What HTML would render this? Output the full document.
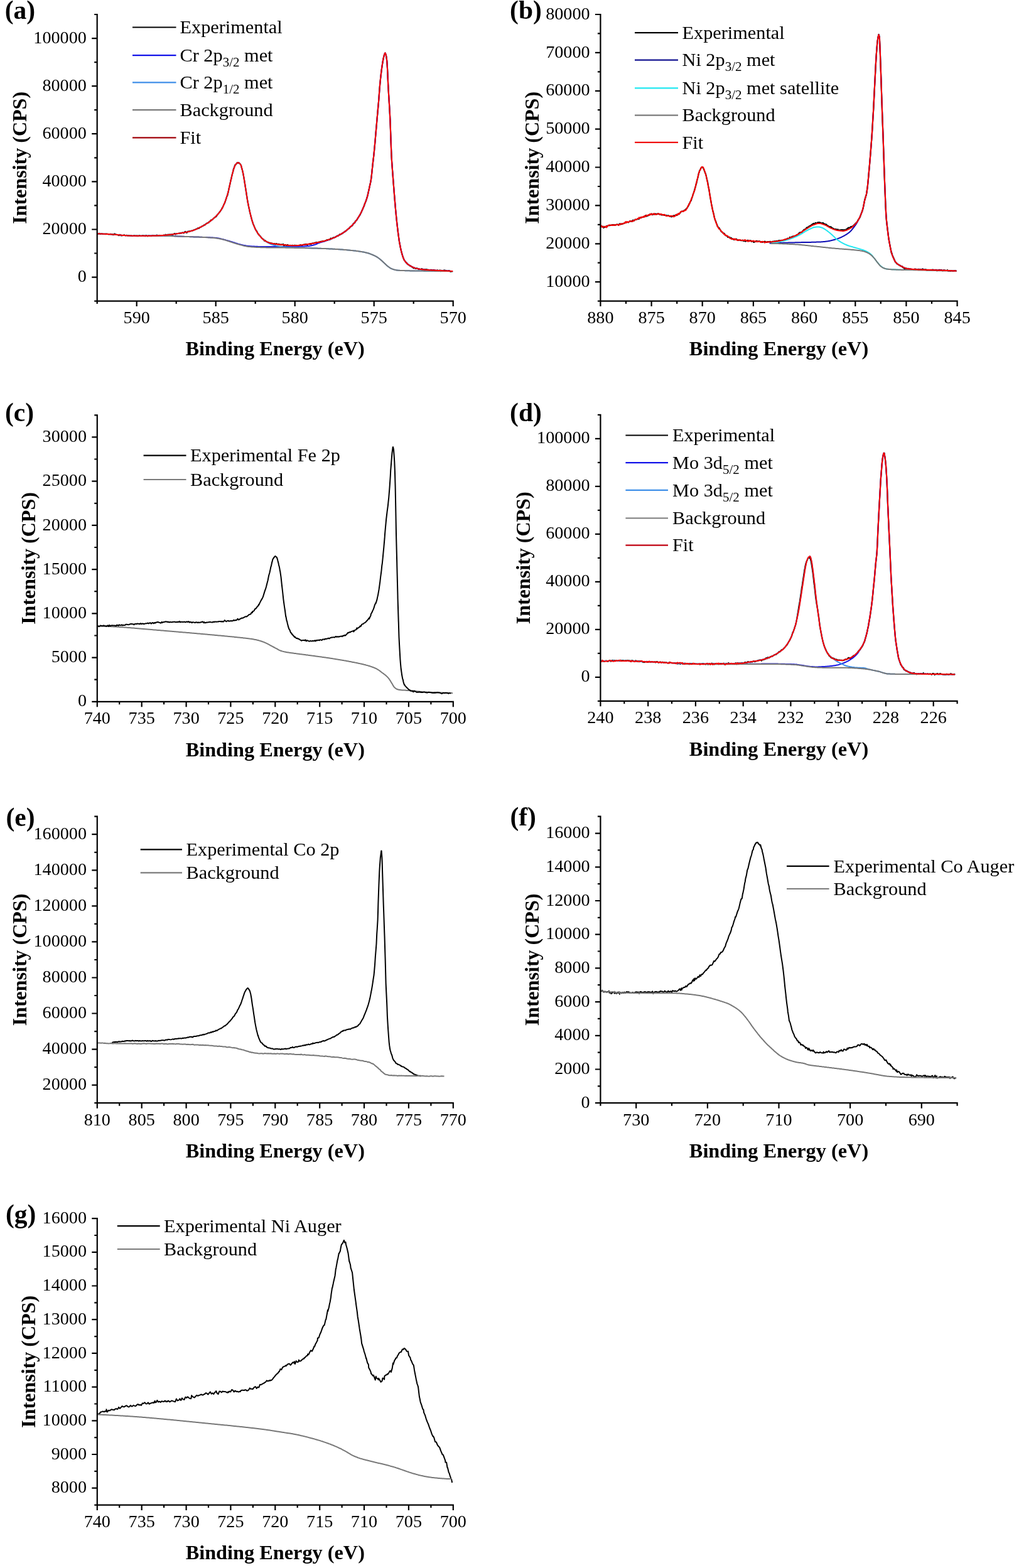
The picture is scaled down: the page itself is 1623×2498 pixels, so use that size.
<!DOCTYPE html>
<html><head><meta charset="utf-8"><title>XPS spectra</title>
<style>html,body{margin:0;padding:0;background:#fff;}svg{display:block;}</style>
</head><body>
<svg width="1623" height="2498" viewBox="0 0 1623 2498">
<rect width="1623" height="2498" fill="#fff"/>
<g fill="none" stroke-linejoin="round" stroke-linecap="butt">
<polyline stroke="#000000" stroke-width="2.2" points="154.7,372.4 155.9,372.6 157.1,372.4 158.3,371.8 159.5,372.8 160.7,372.7 161.9,372.3 163.1,372.8 164.3,372.8 165.5,372.8 166.7,372.8 167.9,373.1 169.1,372.5 170.3,372.9 171.5,372.8 172.7,373.3 173.9,373.2 175.1,373.1 176.3,372.9 177.5,373.2 178.7,373.4 179.9,373.4 180,374.1 181.1,374 182.3,372.4 183.5,372.9 184.7,373.8 185.9,373.8 187.1,374.1 188.3,374.3 189.5,375.2 190.7,373.9 191.9,374.3 193.1,375.5 194.3,375 195.5,375.1 196.7,374.7 197.9,374.3 199.1,375.2 200.3,375.3 201.5,374.8 202.7,375.1 203.9,375.4 205.1,375.1 206.3,375.5 207.5,375.6 208.2,375.6 208.7,375.4 209.9,375.9 211.1,376 212.3,375.8 213.5,375.3 214.7,376 215.9,375.5 217.1,376.1 218.3,375.3 219.5,376.2 220.7,375.7 221.9,375.2 223.1,375.6 224.3,375.8 225.5,375.9 226.7,375.4 227.9,375.3 229.1,375.9 230,375.6 230.3,375.9 231.5,376.1 232.7,375 233.9,375.9 235.1,376.3 236.3,375.6 237.5,375.4 238.7,376 239.9,375.8 241.1,376.1 242.3,375.5 243.5,374.9 244.7,375.5 245.9,375.3 247.1,375.8 248.3,375.5 249.5,374.7 250.7,374.8 251.9,375.7 253.1,375.6 254.3,374.9 254.8,375.2 255.5,375.4 256.7,375.3 257.9,375.4 259.1,375.1 260.3,374.8 261.5,374.7 262.7,375.2 263.9,373.6 265.1,374.4 266.3,374.3 267.5,373.6 268.7,374.2 269.9,373.6 271.1,374.2 272.3,373.6 273.5,373.8 274.7,373.9 275.9,373.3 277.1,372.6 278.3,372.1 279.5,373.4 280.7,372.4 281.9,372 283.1,372.2 284.3,371.8 285.5,372.1 285.8,371.7 286.7,371.6 287.9,371.1 289.1,371.4 290.3,370.5 291.5,371.1 292.7,371.3 293.9,369.7 295.1,369 296.3,370.2 297.5,370.8 298.7,369 299.9,368.6 301.1,369.1 302.3,368.2 303.5,368 304.7,367.8 305.2,368 305.9,367.4 307.1,367.4 308.3,366.7 309.5,366 310.7,365.8 311.9,365 313.1,364.9 314.3,363.9 315.5,363.3 316.7,363.9 317.9,362.6 319.1,362 320.3,361.6 321.5,360.6 322.7,360 323.9,359.6 324.7,359.1 325.1,358.3 326.3,358.5 327.5,357.1 328.7,356.1 329.9,355.4 331.1,354.9 332.3,355 333.5,352.8 334.7,352.6 335.9,350.6 337.1,350.6 338.3,350 339.5,348.5 340.7,347.3 341.9,346.6 343.1,345.7 344,344.8 344.3,345.1 345.5,343.1 346.7,341.4 347.9,340.2 349.1,338.8 350.3,337.3 351.5,335.5 352.7,333.8 353.8,331.1 353.9,332.1 355.1,329.2 356.3,326.3 357.5,324.2 358.7,321.4 359,320.2 359.9,317.6 361.1,313.5 362.3,311.3 363.5,306.1 364.7,300.3 365.9,294.9 367.1,289.8 367.5,287.3 368.3,284.6 369.5,279 370.7,275 371.2,273.1 371.9,269.2 373.1,266.7 374.3,262.9 375,263 375.5,261.9 376.7,260.7 377.9,259 379,259.9 379.1,260 380.3,259 381.5,260.5 382.7,261.3 383,262 383.9,263.2 385.1,268.4 386.3,272 386.8,274.5 387.5,278.1 388.7,284.5 389.9,292.2 390.5,295.7 391.1,299.7 392.3,307.1 393.5,315.2 394.5,321.1 394.7,322.1 395.9,328.4 397.1,333.8 398.3,339.5 398.5,339.9 399.5,344.1 400.7,348.5 401.9,352.7 402.3,353.6 403.1,356.7 404.3,359.1 405.5,362.1 406.7,365.1 407,365.7 407.9,367 409.1,368.4 410.3,371.4 411.5,373.1 412,373 412.7,374.8 413.9,375.6 415.1,376.8 416.3,378.7 417.5,379.8 418.7,381.1 419.9,381.3 421.1,383.7 421.7,383 422.3,383 423.5,384.6 424.7,384.9 425.9,385.8 427.1,386 428.3,386.6 429.5,387.2 430.7,387.1 431.4,387.9 431.9,387.5 433.1,387.5 434.3,388.2 435.5,388.6 436.7,388.4 437.9,388.3 439.1,389.1 440.3,388.2 441.5,388.7 442.7,389.3 443.9,388.8 445.1,389.5 446.3,389.6 447.5,390.1 448.7,389.4 449.4,389.6 449.9,390.1 451.1,389 452.3,391.6 453.5,390 454.7,390.1 455.9,390.9 457.1,390.6 458.3,390 459.5,391.1 460.7,391.3 461.9,390.8 463.1,391 464.3,391.4 465.5,390.8 466.7,391.5 467.9,391.4 468.8,391 469.1,390.7 470.3,391.2 471.5,390.8 472.7,391.6 473.9,391.1 475.1,391.3 476.3,390.9 477.5,390.8 478.7,390.2 479.9,390.7 481.1,391.1 482.3,390 483.5,389.7 484.7,389.7 485.9,389.4 487.1,389.1 488.2,389.4 488.3,389.2 489.5,389.8 490.7,389 491.9,388.9 493.1,389 494.3,388.3 495.5,388.9 496.7,387.8 497.9,387.5 499.1,387.5 500.3,387.4 501.5,386.6 502.7,387 503.9,386 505.1,387.1 506.3,386.2 507.5,385.7 507.6,385.6 508.7,385.6 509.9,385.4 511.1,384.8 512.3,384.5 513.5,384.6 514.7,384.1 515.9,384.5 517.1,384.2 518.3,383.4 519.5,383.2 520.7,382.1 521.9,382.6 523.1,381.9 524.3,381.7 525.5,381.8 526.7,379.7 527,380.7 527.9,379.8 529.1,380.1 530.3,378.7 531.5,378.6 532.7,378.4 533.9,378 535.1,377.2 536.3,376.2 537.5,375.7 538.7,375.8 539.9,374.7 541.1,373.3 542.3,373.7 543.5,372.8 544.7,372.3 545.9,371.1 546.4,371.3 547.1,370 548.3,369.9 549.5,368.6 550.7,368.2 551.9,367.4 553.1,365.7 554.3,365 555.5,364 556,364 556.7,363.2 557.9,361.2 559.1,360.9 560.3,359.8 561.5,359.2 562.7,356.3 563.9,355.4 565.1,354.9 565.8,352.8 566.3,352.2 567.5,351.4 568.7,349.9 569.9,347.4 571.1,346 572.3,343.8 573.5,342.3 574.7,339.4 575.5,338.3 575.9,336.7 577.1,334.4 578.3,331.6 579.5,329.1 580.5,326.3 580.7,325.1 581.9,322.7 583.1,319.5 584.3,315.6 585.2,312.6 585.5,311.5 586.7,305.7 587.9,300.9 588.5,298.1 589.1,295 590.3,290.3 591.1,284.9 591.5,282.3 592.7,270.6 593.3,265.9 593.9,259.1 595.1,249.7 595.3,248 596.3,237.7 597.5,225.1 598,218.5 598.7,210 599.9,197.4 600.4,190.8 601.1,183.3 602.3,169.6 603,162.5 603.5,156 604.7,139.3 605.1,135.4 605.9,126.9 607.1,116.1 607.5,113 608.3,106.9 609.5,99.5 609.8,97.6 610.7,92.6 611.6,89.5 611.9,87.7 613.1,84.8 613.5,84.6 614.3,86.5 615.2,89.3 615.5,91.8 616.3,97.6 616.7,103.2 617.3,114.7 617.9,128.7 618.2,135 619.1,150.8 620.3,170.2 621.4,191.1 621.5,193.2 622.7,228.1 623.5,248.2 623.9,255 625.1,271.8 625.7,279.3 626.3,287.5 627.5,303 628,309.8 628.7,317.9 629.9,331.8 630,333 631.1,344.5 631.8,351.1 632.3,356 633.5,366.2 633.8,369.3 634.7,375.6 635.7,383.2 635.9,384.6 637.1,390.5 637.6,393.7 638.3,396.7 639.5,401.4 639.6,402.1 640.7,405.9 641.9,409.6 643.1,412.7 643.5,413.7 644.3,415.2 645.5,416.3 646.7,418.2 647.9,418.7 648,419.6 649.1,420.8 650.3,421.5 651.5,422.4 652.7,423.3 653.2,423 653.9,423.6 655.1,424.6 656.3,425.4 657.5,425.8 658.7,427.3 659.9,426.6 661.1,427.5 662.3,428 662.9,427.5 663.5,427.4 664.7,427.5 665.9,428.3 667.1,429 668.3,428.8 669.5,429 670.7,428.9 671.9,429.4 672,428.2 673.1,429.4 674.3,429.5 675.5,429 676.7,430.7 677.9,429.2 679.1,429.4 680.3,429.4 681.5,430.5 682.3,429.7 682.7,430.4 683.9,430.5 685.1,430.4 686.3,429.8 687.5,430.1 688.7,431.2 689.9,430 691.1,430.2 692.3,430.6 693.5,431.1 694.7,430.9 695.9,431.2 697.1,430.4 698.3,431.4 699.5,431.3 700.7,430.3 701.7,431.8 701.9,432.1 703.1,430.8 704.3,431.3 705.5,431.9 706.7,430.7 707.9,430.5 709.1,430.9 710.3,431.3 711.5,431.3 712.7,431.9 713.9,431.8 715.1,431.2 716.3,432 717.5,432.7 718.7,432.4 719.9,432.4 721.1,432"/>
<polyline stroke="#1515e6" stroke-width="2.0" points="230,375.8 231,375.8 232,375.8 233,375.7 234,375.7 235,375.7 236,375.7 237,375.7 238,375.7 239,375.7 240,375.6 241,375.6 242,375.6 243,375.6 244,375.6 245,375.6 246,375.6 247,375.6 248,375.6 249,375.6 250,375.6 251,375.6 252,375.6 253,375.6 254,375.6 254.8,375.6 255,375.6 256,375.6 257,375.6 258,375.6 259,375.6 260,375.6 261,375.6 262,375.7 263,375.7 264,375.7 265,375.7 266,375.8 267,375.8 268,375.8 269,375.8 270,375.9 271,375.9 272,375.9 273,376 274,376 275,376 276,376.1 277,376.1 278,376.2 279,376.2 280,376.2 281,376.3 282,376.3 283,376.4 284,376.4 285,376.5 286,376.5 287,376.6 288,376.6 289,376.6 290,376.7 291,376.7 292,376.8 293,376.8 294,376.9 295,376.9 296,376.9 297,377 298,377 299,377.1 300,377.1 300,377.1 301,377.1 302,377.2 303,377.2 304,377.2 305,377.3 306,377.3 307,377.3 308,377.4 309,377.4 310,377.4 311,377.5 312,377.5 313,377.5 314,377.6 315,377.6 316,377.6 317,377.6 318,377.7 319,377.7 320,377.7 321,377.8 322,377.8 323,377.9 324,377.9 325,377.9 326,378 327,378 328,378 329,378.1 330,378.1 331,378.2 332,378.2 333,378.3 334,378.3 335,378.4 336,378.5 337,378.5 338,378.6 339,378.6 340,378.7 341,378.8 342,378.8 343,378.9 344,379 344,379 345,379.1 346,379.2 347,379.4 348,379.5 349,379.7 350,379.9 351,380.2 352,380.4 353,380.7 354,380.9 355,381.2 356,381.5 357,381.8 358,382.1 359,382.3 360,382.6 361,382.9 362,383.2 363,383.5 363.5,383.6 364,383.7 365,384 366,384.3 367,384.6 368,384.9 369,385.2 370,385.5 371,385.9 372,386.2 373,386.5 374,386.8 375,387.2 376,387.5 377,387.8 378,388.1 379,388.4 380,388.7 381,388.9 382,389.2 382.9,389.4 383,389.4 384,389.7 385,389.9 386,390.2 387,390.4 388,390.7 389,390.9 390,391.1 391,391.3 392,391.5 393,391.7 394,391.8 395,392 396,392.1 396.5,392.1 397,392.1 398,392.2 399,392.3 400,392.3 401,392.4 402,392.4 403,392.5 404,392.6 405,392.6 406,392.7 407,392.7 408,392.7 409,392.8 410,392.8 411,392.9 412,392.9 413,392.9 414,392.9 415,393 416,393 417,393 418,393 419,393 420,393 420,393 421,393 422,393 423,393 424,393 425,393 426,393 427,393 428,393 429,393 430,393 431,393 432,393 433,393 434,393 435,393 436,393 437,393 438,393 439,393 440,393 441,393 442,393 443,393 444,393 445,393 446,393 447,393 448,393 449,393 450,393 450,393 451,393 452,393 453,393 454,393 455,393 456,393 457,393 458,393 459,392.9 460,392.9 461,392.9 462,392.9 463,392.9 464,392.9 465,392.9 466,392.9 467,392.8 468,392.8 469,392.8 470,392.8 470,392.8 471,392.8 472,392.8 473,392.7 474,392.7 475,392.7 476.1,392.7 477.1,392.6 478.1,392.6 479.1,392.6 480.1,392.6 481.1,392.5 482.1,392.5 483.1,392.4 484.1,392.4 485.1,392.4 486.1,392.3 487.1,392.3 488.1,392.2 488.2,392.2 489.1,392.1 490.1,392.1 491.1,392 492.1,391.9 493.1,391.8 494.1,391.6 495,391.5 495.1,391.5 496.1,391.3 497.1,391.1 498.1,390.8 499.1,390.6 500.1,390.2 501.1,389.9 502,389.6 502.1,389.6 503.1,389.2 504.1,388.8 505.1,388.3 506.1,387.8 507.1,387.4 507.6,387.2 508.1,387 509.1,386.7 510.1,386.4 511.1,386.1 512.1,385.8 513.1,385.5 514.1,385.2 515.1,384.9 516.1,384.6 517,384.3 517.1,384.3 518.1,384 519.1,383.6 520.1,383.3 521.1,383 522.1,382.6 523.1,382.3 524.1,381.9 525.1,381.6 526.1,381.2 527,380.8 527.1,380.8 528.1,380.4 529.1,379.9 530.1,379.5 531.1,379.1 532.1,378.6 533.1,378.2 534.1,377.7 535.1,377.2 536.1,376.7 537.1,376.2 538.1,375.7 539.1,375.2 540.1,374.6 541.1,374.1 542.1,373.5 543.1,372.9 544.1,372.3 545.1,371.7 546.1,371.1 546.4,370.9 547.1,370.5 548.1,369.8 549.1,369.1 550.1,368.4 551.1,367.6 552.1,366.8 553.1,366 554.1,365.2 555.1,364.3 556,363.5 556.1,363.4 557.1,362.6 558.1,361.6 559.1,360.7 560.1,359.7 561.1,358.7 562.1,357.7 563.1,356.6 564.1,355.5 565.1,354.3 565.8,353.4 566.1,353.1 567.1,351.8 568.1,350.4 569.1,348.9 570.1,347.4 571.1,345.8 572.1,344.2 573.1,342.4 574.1,340.6 575.1,338.7 575.5,337.9 576.1,336.7 577.1,334.5 578.1,332.2 579.1,329.7 580.1,327.1 580.5,326 581.1,324.5 582.1,322 583.1,319.3 584.1,316.4 585.1,313.1 585.2,312.7 586.1,309.3 587.1,304.8 588.1,300 588.5,298 589.1,295.5 590.1,291.1 591.1,285.7 591.1,285.5 592.1,277.2 593.1,267.1 593.3,265 594.1,258.3 595.1,249.7 595.3,247.6 596.1,239.9 597.1,229.2 598,219 598.1,218.2 599.1,206.7 600.1,195 600.4,191.3 601.1,183.7 602.1,172.7 603,162 603.1,161.1 604.1,147.8 605.1,135.3 605.1,135 606.1,125.2 607.1,116.4 607.5,113 608.1,108.6 609.1,101.8 609.8,97.5 610.1,96 611.1,91 611.6,89 612.1,87.4 613.1,84.7 613.5,84.4 614.1,85.2 615.1,89 615.2,89.5 616.1,95.4 616.3,97.5 617.1,110.6 617.3,115 618.1,132.5 618.2,135 619.1,150.9 620.1,167.1 621.1,184.7 621.4,191.3 622.1,209.1 623.1,238.1 623.5,247.6 624.1,257.5 625.1,271.4 625.7,279.5 626.1,284.6 627.1,297.4 628,308.8 628.1,309.8 629.1,322.2 630,333 630.1,333.9 631.1,344.5 631.8,351.5 632.1,354.1 633.1,362.7 633.8,368.5 634.1,370.7 635.1,378.4 635.7,382.6 636.1,384.9 637.1,390.4 637.6,393 638.1,395.4 639.1,400 639.6,402 640.1,403.8 641.1,407.2 642.1,410.3 643.1,412.8 643.5,413.6 644.1,414.6 645.1,416.2 646.1,417.5 647.1,418.6 648,419.5 648.1,419.6 649.1,420.5 650.1,421.3 651.1,422 652.1,422.6 653.1,423.2 653.2,423.3 654.1,423.8 655.1,424.3 656.1,424.9 657.1,425.4 658.1,425.8 659.1,426.3 660.1,426.7 661.1,427.1 662.1,427.4 662.9,427.6 663.1,427.6 664.1,427.9 665.1,428.1 666.1,428.3 667.1,428.5 668.1,428.7 669.1,428.8 670.1,429 671.1,429.1 672,429.2 672.1,429.2 673.1,429.3 674.1,429.4 675.1,429.5 676.1,429.6 677.1,429.7 678.1,429.8 679.1,429.9 680.1,429.9 681.1,430 682.1,430.1 682.3,430.1 683.1,430.2 684.1,430.2 685.1,430.3 686.1,430.3 687.1,430.4 688.1,430.4 689.1,430.5 690.1,430.5 691.1,430.6 692.1,430.6 693.1,430.7 694.1,430.7 695.1,430.8 696.1,430.8 697.1,430.9 698.1,430.9 699.1,431 700.1,431 701.1,431.1 701.7,431.1 702.1,431.1 703.1,431.2 704.1,431.2 705.1,431.3 706.1,431.3 707.1,431.4 708.1,431.4 709.1,431.5 710.1,431.5 711.1,431.5 712.1,431.6 713.1,431.6 714.1,431.7 715.1,431.7 716.1,431.8 717.1,431.8 718.1,431.9 719.1,431.9 720.1,432 721.1,432"/>
<polyline stroke="#3d8ee8" stroke-width="2.0" points="154.7,372.2 155.7,372.2 156.7,372.3 157.7,372.3 158.7,372.4 159.7,372.4 160.7,372.5 161.7,372.5 162.7,372.6 163.7,372.6 164.7,372.7 165.7,372.7 166.7,372.8 167.7,372.8 168.7,372.9 169.7,372.9 170.7,373 171.7,373 172.7,373.1 173.7,373.1 174.7,373.2 175.7,373.2 176.7,373.3 177.7,373.4 178.7,373.4 179.7,373.5 180,373.5 180.7,373.5 181.7,373.6 182.7,373.7 183.7,373.8 184.7,373.8 185.7,373.9 186.7,374 187.7,374.1 188.7,374.2 189.7,374.3 190.7,374.4 191.7,374.5 192.7,374.6 193.7,374.7 194.7,374.8 195.7,374.9 196.7,374.9 197.7,375 198.7,375.1 199.7,375.2 200.7,375.3 201.7,375.3 202.7,375.4 203.7,375.4 204.7,375.5 205.7,375.5 206.7,375.6 207.7,375.6 208.2,375.6 208.7,375.6 209.7,375.6 210.7,375.6 211.7,375.7 212.7,375.7 213.7,375.7 214.7,375.7 215.7,375.7 216.7,375.7 217.7,375.7 218.7,375.7 219.7,375.7 220.7,375.8 221.7,375.8 222.7,375.8 223.7,375.8 224.7,375.8 225.8,375.8 226.8,375.8 227.8,375.8 228.8,375.8 229.8,375.8 230,375.8 230.8,375.8 231.8,375.8 232.8,375.8 233.8,375.8 234.8,375.8 235.8,375.8 236.8,375.7 237.8,375.7 238.8,375.7 239.8,375.7 240.8,375.7 241.8,375.6 242.8,375.6 243.8,375.6 244.8,375.6 245.8,375.5 246.8,375.5 247.8,375.5 248.8,375.4 249.8,375.4 250.8,375.4 251.8,375.3 252.8,375.3 253.8,375.2 254.8,375.2 254.8,375.2 255.8,375.2 256.8,375.1 257.8,375.1 258.8,375 259.8,374.9 260.8,374.8 261.8,374.8 262.8,374.7 263.8,374.6 264.8,374.5 265.8,374.4 266.8,374.3 267.8,374.2 268.8,374.1 269.8,373.9 270.8,373.8 271.8,373.7 272.8,373.6 273.8,373.4 274.8,373.3 275.8,373.2 276.8,373 277.8,372.9 278.8,372.7 279.8,372.6 280.8,372.4 281.8,372.3 282.8,372.1 283.8,372 284.8,371.8 285.8,371.7 285.8,371.7 286.8,371.6 287.8,371.4 288.8,371.2 289.8,371.1 290.8,370.9 291.8,370.7 292.8,370.6 293.8,370.4 294.8,370.2 295.8,370 296.8,369.8 297.8,369.6 298.8,369.4 299.8,369.2 300.8,368.9 301.8,368.7 302.8,368.4 303.8,368.2 304.8,367.9 305.2,367.8 305.8,367.6 306.8,367.3 307.8,367 308.8,366.6 309.8,366.3 310.8,365.9 311.8,365.5 312.8,365.1 313.8,364.6 314.8,364.2 315.8,363.7 316.8,363.2 317.8,362.7 318.8,362.2 319.8,361.7 320.8,361.1 321.8,360.6 322.8,360.1 323.8,359.5 324.7,359 324.8,358.9 325.8,358.4 326.8,357.8 327.8,357.2 328.8,356.5 329.8,355.9 330.8,355.2 331.8,354.6 332.8,353.9 333.8,353.1 334.8,352.4 335.8,351.6 336.8,350.8 337.8,350 338.8,349.2 339.8,348.3 340.8,347.5 341.8,346.6 342.8,345.6 343.8,344.7 344,344.5 344.8,343.7 345.8,342.6 346.8,341.5 347.8,340.4 348.8,339.2 349.8,337.9 350.8,336.5 351.8,335 352.8,333.5 353.8,331.9 353.8,331.8 354.8,330 355.8,327.9 356.8,325.5 357.8,323 358.8,320.4 359,320 359.8,317.7 360.8,314.7 361.8,311.5 362.8,308.1 363.5,305.7 363.8,304.4 364.8,300.1 365.8,295.5 366.8,290.9 367.5,288 367.9,286.5 368.9,282.1 369.9,277.8 370.9,273.9 371.2,272.7 371.9,270.6 372.9,267.4 373.9,264.7 374.9,262.7 375,262.5 375.9,261.4 376.9,260.3 377.9,259.5 378.9,259.1 379,259.1 379.9,259.3 380.9,259.8 381.9,260.7 382.9,261.8 383,262 383.9,263.6 384.9,266.7 385.9,270.6 386.8,274.6 386.9,274.9 387.9,279.9 388.9,285.8 389.9,292.1 390.5,296 390.9,298.3 391.9,304.7 392.9,311.3 393.9,317.6 394.5,321.2 394.9,323.2 395.9,328.2 396.9,332.9 397.9,337.3 398.5,340 398.9,341.5 399.9,345.6 400.9,349.5 401.9,352.9 402.3,354.2 402.9,355.9 403.9,358.5 404.9,361 405.9,363.2 406.9,365.3 407,365.5 407.9,367.2 408.9,368.9 409.9,370.6 410.9,372.1 411.9,373.4 412,373.6 412.9,374.7 413.9,375.9 414.9,377 415.9,378.1 416.9,379.1 417.9,380.1 418.9,381 419.9,381.9 420.9,382.7 421.7,383.3 421.9,383.4 422.9,384.2 423.9,384.9 424.9,385.5 425.9,386.2 426.9,386.8 427.9,387.4 428.9,387.9 429.9,388.4 430.9,388.8 431.4,389 431.9,389.2 432.9,389.5 433.9,389.9 434.9,390.2 435.9,390.5 436.9,390.8 437.9,391 438.9,391.2 439.9,391.5 440,391.5 440.9,391.7 441.9,391.9 442.9,392.1 443.9,392.4 444.9,392.5 445.9,392.7 446.9,392.9 447.9,393.1 448.9,393.2 449.9,393.3 450,393.3 450.9,393.4 451.9,393.5 452.9,393.5 453.9,393.6 454.9,393.7 455.9,393.7 456.9,393.8 457.9,393.9 458.9,393.9 459.9,394 460.9,394 461.9,394.1 462.9,394.1 463.9,394.1 464.9,394.2 465.9,394.2 466.9,394.3 467.9,394.3 468.9,394.4 469.9,394.4 470,394.4 470.9,394.4 471.9,394.5 472.9,394.5 473.9,394.6 474.9,394.6 475.9,394.6 476.9,394.7 477.9,394.7 478.9,394.7 479.9,394.8 480.9,394.8 481.9,394.8 482.9,394.9 483.9,394.9 484.9,394.9 485.9,395 486.9,395 487.9,395 488.9,395.1 489.9,395.1 490,395.1 490.9,395.1 491.9,395.2 492.9,395.2 493.9,395.2 494.9,395.3 495.9,395.3 496.9,395.3 497.9,395.4 498.9,395.4 499.9,395.4 500.9,395.5 501.9,395.5 502.9,395.5 503.9,395.6 504.9,395.6 505.9,395.6 506.9,395.7 507.9,395.7 509,395.7 510,395.8 511,395.8 512,395.9 513,395.9 514,395.9 515,396 516,396 517,396 518,396.1 519,396.1 520,396.2 521,396.2 522,396.3 523,396.3 524,396.4 525,396.4 526,396.4 527,396.5 527,396.5 528,396.5 529,396.6 530,396.7 531,396.7 532,396.8 533,396.8 534,396.9 535,396.9 536,397 537,397.1 538,397.1 539,397.2 540,397.3 541,397.3 542,397.4 543,397.5 544,397.6 545,397.6 546,397.7 547,397.8 548,397.9 549,398 550,398 551,398.1 552,398.2 553,398.3 554,398.4 555,398.5 556,398.6 557,398.7 558,398.8 559,398.9 560,399 561,399.1 562,399.2 563,399.3 564,399.4 565,399.5 565.8,399.6 566,399.6 567,399.7 568,399.9 569,400 570,400.1 571,400.3 572,400.4 573,400.6 574,400.7 575,400.9 576,401.1 577,401.2 578,401.4 579,401.6 580,401.8 581,402 582,402.3 583,402.5 584,402.7 585,403 585.2,403 586,403.2 587,403.5 588,403.8 589,404.2 590,404.6 591,405 592,405.4 593,405.8 593,405.8 594,406.2 595,406.7 596,407.1 597,407.6 598,408.1 599,408.7 600,409.2 600.8,409.7 601,409.8 602,410.5 603,411.2 604,412 605,412.8 606,413.6 606.5,414 607,414.4 608,415.3 609,416.2 610,417.2 611,418.1 612,419.1 612.4,419.4 613,420 614,420.9 615,421.9 616,422.8 617,423.7 618,424.5 618,424.5 619,425.3 620,426 621,426.6 622,427.3 623,427.8 624,428.2 624,428.2 625,428.6 626,428.9 627,429.3 628,429.6 629,429.9 630,430.1 631,430.3 632,430.5 633,430.6 633.8,430.7 634,430.7 635,430.8 636,430.8 637,430.9 638,430.9 639,431 640,431 641,431 642,431.1 643,431.1 644,431.1 645,431.2 646,431.2 647,431.2 648,431.3 649,431.3 650,431.3 651.1,431.3 652.1,431.3 653.1,431.4 654.1,431.4 655.1,431.4 656.1,431.4 657.1,431.4 658.1,431.4 659.1,431.4 660.1,431.5 661.1,431.5 662.1,431.5 662.9,431.5 663.1,431.5 664.1,431.5 665.1,431.5 666.1,431.5 667.1,431.6 668.1,431.6 669.1,431.6 670.1,431.6 671.1,431.6 672.1,431.6 673.1,431.6 674.1,431.6 675.1,431.7 676.1,431.7 677.1,431.7 678.1,431.7 679.1,431.7 680.1,431.7 681.1,431.7 682.1,431.7 683.1,431.8 684.1,431.8 685.1,431.8 686.1,431.8 687.1,431.8 688.1,431.8 689.1,431.8 690.1,431.8 691.1,431.8 692.1,431.9 693.1,431.9 694.1,431.9 695.1,431.9 696.1,431.9 697.1,431.9 698.1,431.9 699.1,431.9 700.1,431.9 701.1,431.9 702.1,431.9 703.1,431.9 704.1,431.9 705.1,432 706.1,432 707.1,432 708.1,432 709.1,432 710.1,432 711.1,432 712.1,432 713.1,432 714.1,432 715.1,432 716.1,432 717.1,432 718.1,432 719.1,432 720.1,432 721.1,432"/>
<polyline stroke="#777777" stroke-width="2.0" points="230,375.8 231,375.8 232,375.8 233,375.8 234,375.8 235,375.8 236,375.7 237,375.7 238,375.7 239,375.7 240,375.7 241,375.7 242,375.7 243,375.7 244,375.7 245,375.7 246,375.7 247,375.7 248,375.7 249,375.7 250,375.7 251,375.7 252,375.7 253,375.7 254,375.7 254.8,375.7 255,375.7 256,375.7 257,375.7 258,375.7 259,375.7 260,375.7 261,375.8 262,375.8 263,375.8 264,375.8 265,375.9 266,375.9 267,375.9 268,376 269,376 270,376 271,376.1 272,376.1 273,376.1 274,376.2 275,376.2 276,376.3 277,376.3 278,376.3 279,376.4 280,376.4 281,376.5 282,376.5 283,376.5 284,376.6 285,376.6 285,376.6 286,376.6 287,376.7 288,376.7 289,376.7 290,376.8 291,376.8 292,376.8 293,376.8 294,376.9 295,376.9 296,376.9 297,377 298,377 299,377 300,377.1 301,377.1 302,377.1 303,377.2 304,377.2 305,377.2 306,377.3 307,377.3 308,377.3 309,377.4 310,377.4 311,377.4 312,377.5 313,377.5 314,377.5 315,377.6 316,377.6 317,377.7 318,377.7 319,377.7 320,377.8 321,377.8 322,377.9 323,377.9 324,378 324.7,378 325,378 326,378.1 327,378.1 328,378.2 329,378.2 330,378.3 331,378.3 332,378.4 333,378.5 334,378.5 335,378.6 336,378.7 337,378.8 338,378.8 339,378.9 340,379 341,379.1 342,379.2 343,379.3 344,379.4 344,379.4 345,379.5 346,379.7 347,379.8 348,380 349,380.2 350,380.4 351,380.6 352,380.8 353,381 354,381.2 354,381.2 355,381.4 356,381.7 357,382 358,382.3 359,382.6 360,382.9 361,383.2 362,383.5 363,383.9 363.5,384 364,384.2 365,384.5 366,384.8 367,385.2 368,385.5 369,385.9 370,386.2 371,386.6 372,386.9 373,387.2 373,387.2 374,387.5 375,387.8 376,388.1 377,388.5 378,388.8 379,389 380,389.3 381,389.6 382,389.9 382.9,390.1 383,390.1 384,390.4 385,390.6 386,390.9 387,391.2 388,391.4 389,391.7 390,391.9 391,392.1 392,392.3 393,392.5 394,392.7 395,392.8 396,393 396.5,393 397,393 398,393.1 399,393.2 400,393.3 401,393.4 402,393.5 403,393.5 404,393.6 405,393.7 406,393.7 407,393.8 408,393.9 409,393.9 410,394 411,394 412,394.1 413,394.1 414,394.1 415,394.2 416,394.2 417,394.2 418,394.3 419,394.3 420,394.3 420,394.3 421,394.3 422,394.3 423,394.3 424,394.4 425,394.4 426,394.4 427,394.4 428,394.4 429,394.4 430,394.4 431,394.4 432,394.4 433,394.5 434,394.5 435,394.5 436,394.5 437,394.5 438,394.5 439,394.5 440,394.5 441,394.5 442,394.5 443,394.5 444,394.5 445,394.5 446,394.6 447,394.6 448,394.6 449,394.6 450,394.6 450,394.6 451,394.6 452,394.6 453,394.6 454,394.6 455,394.7 456,394.7 457,394.7 458,394.7 459,394.7 460,394.7 461,394.7 462,394.8 463,394.8 464,394.8 465,394.8 466,394.8 467,394.8 468,394.8 469,394.9 470,394.9 471,394.9 472,394.9 473,394.9 474,394.9 475,395 476.1,395 477.1,395 478.1,395 479.1,395 480.1,395 481.1,395.1 482.1,395.1 483.1,395.1 484.1,395.1 485.1,395.1 486.1,395.2 487.1,395.2 488.1,395.2 488.2,395.2 489.1,395.2 490.1,395.2 491.1,395.3 492.1,395.3 493.1,395.3 494.1,395.3 495.1,395.4 496.1,395.4 497.1,395.4 498.1,395.4 499.1,395.5 500.1,395.5 501.1,395.5 502.1,395.6 503.1,395.6 504.1,395.6 505.1,395.6 506.1,395.7 507.1,395.7 508.1,395.7 509.1,395.8 510.1,395.8 511.1,395.8 512.1,395.9 513.1,395.9 514.1,396 515.1,396 516.1,396 517.1,396.1 518.1,396.1 519.1,396.1 520.1,396.2 521.1,396.2 522.1,396.3 523.1,396.3 524.1,396.4 525.1,396.4 526.1,396.5 527,396.5 527.1,396.5 528.1,396.6 529.1,396.6 530.1,396.7 531.1,396.7 532.1,396.8 533.1,396.8 534.1,396.9 535.1,396.9 536.1,397 537.1,397.1 538.1,397.1 539.1,397.2 540.1,397.3 541.1,397.3 542.1,397.4 543.1,397.5 544.1,397.5 545.1,397.6 546.1,397.7 547.1,397.8 548.1,397.9 549.1,397.9 550.1,398 551.1,398.1 552.1,398.2 553.1,398.3 554.1,398.4 555.1,398.5 556.1,398.6 557.1,398.7 558.1,398.8 559.1,398.9 560.1,399 561.1,399.1 562.1,399.2 563.1,399.3 564.1,399.4 565.1,399.5 565.8,399.6 566.1,399.6 567.1,399.7 568.1,399.9 569.1,400 570.1,400.1 571.1,400.3 572.1,400.4 573.1,400.6 574.1,400.7 575.1,400.9 576.1,401.1 577.1,401.3 578.1,401.4 579.1,401.6 580.1,401.8 581.1,402 582.1,402.3 583.1,402.5 584.1,402.7 585.1,403 585.2,403 586.1,403.2 587.1,403.5 588.1,403.9 589.1,404.2 590.1,404.6 591.1,405 592.1,405.4 593,405.8 593.1,405.8 594.1,406.3 595.1,406.7 596.1,407.2 597.1,407.7 598.1,408.2 599.1,408.7 600.1,409.3 600.8,409.7 601.1,409.9 602.1,410.5 603.1,411.3 604.1,412 605.1,412.8 606.1,413.7 606.5,414 607.1,414.5 608.1,415.4 609.1,416.3 610.1,417.2 611.1,418.2 612.1,419.1 612.4,419.4 613.1,420 614.1,421 615.1,422 616.1,422.9 617.1,423.8 618,424.5 618.1,424.6 619.1,425.3 620.1,426 621.1,426.7 622.1,427.3 623.1,427.8 624,428.2 624.1,428.2 625.1,428.6 626.1,429 627.1,429.3 628.1,429.6 629.1,429.9 630.1,430.1 631.1,430.4 632.1,430.5 633.1,430.6 633.8,430.7 634.1,430.7 635.1,430.8 636.1,430.8 637.1,430.9 638.1,430.9 639.1,431 640.1,431 641.1,431 642.1,431.1 643.1,431.1 644.1,431.1 645.1,431.2 646.1,431.2 647.1,431.2 648.1,431.3 649.1,431.3 650.1,431.3 651.1,431.3 652.1,431.3 653.1,431.4 654.1,431.4 655.1,431.4 656.1,431.4 657.1,431.4 658.1,431.4 659.1,431.4 660.1,431.5 661.1,431.5 662.1,431.5 662.9,431.5 663.1,431.5 664.1,431.5 665.1,431.5 666.1,431.5 667.1,431.6 668.1,431.6 669.1,431.6 670.1,431.6 671.1,431.6 672.1,431.6 673.1,431.6 674.1,431.6 675.1,431.7 676.1,431.7 677.1,431.7 678.1,431.7 679.1,431.7 680.1,431.7 681.1,431.7 682.1,431.7 683.1,431.8 684.1,431.8 685.1,431.8 686.1,431.8 687.1,431.8 688.1,431.8 689.1,431.8 690.1,431.8 691.1,431.8 692.1,431.9 693.1,431.9 694.1,431.9 695.1,431.9 696.1,431.9 697.1,431.9 698.1,431.9 699.1,431.9 700.1,431.9 701.1,431.9 702.1,431.9 703.1,431.9 704.1,431.9 705.1,432 706.1,432 707.1,432 708.1,432 709.1,432 710.1,432 711.1,432 712.1,432 713.1,432 714.1,432 715.1,432 716.1,432 717.1,432 718.1,432 719.1,432 720.1,432 721.1,432"/>
<polyline stroke="#ff0000" stroke-width="2.0" points="154.7,372.2 155.7,372.2 156.7,372.3 157.7,372.3 158.7,372.4 159.7,372.4 160.7,372.5 161.7,372.5 162.7,372.6 163.7,372.6 164.7,372.7 165.7,372.7 166.7,372.8 167.7,372.8 168.7,372.9 169.7,372.9 170.7,373 171.7,373 172.7,373.1 173.7,373.1 174.7,373.2 175.7,373.2 176.7,373.3 177.7,373.4 178.7,373.4 179.7,373.5 180,373.5 180.7,373.5 181.7,373.6 182.7,373.7 183.7,373.8 184.7,373.8 185.7,373.9 186.7,374 187.7,374.1 188.7,374.2 189.7,374.3 190.7,374.4 191.7,374.5 192.7,374.6 193.7,374.7 194.7,374.8 195.7,374.9 196.7,374.9 197.7,375 198.7,375.1 199.7,375.2 200.7,375.3 201.7,375.3 202.7,375.4 203.7,375.4 204.7,375.5 205.7,375.5 206.7,375.6 207.7,375.6 208.2,375.6 208.7,375.6 209.7,375.6 210.7,375.6 211.7,375.7 212.7,375.7 213.7,375.7 214.7,375.7 215.7,375.7 216.7,375.7 217.7,375.7 218.7,375.7 219.7,375.7 220.7,375.8 221.7,375.8 222.7,375.8 223.7,375.8 224.7,375.8 225.8,375.8 226.8,375.8 227.8,375.8 228.8,375.8 229.8,375.8 230,375.8 230.8,375.8 231.8,375.8 232.8,375.8 233.8,375.8 234.8,375.8 235.8,375.8 236.8,375.7 237.8,375.7 238.8,375.7 239.8,375.7 240.8,375.7 241.8,375.6 242.8,375.6 243.8,375.6 244.8,375.6 245.8,375.5 246.8,375.5 247.8,375.5 248.8,375.4 249.8,375.4 250.8,375.4 251.8,375.3 252.8,375.3 253.8,375.2 254.8,375.2 254.8,375.2 255.8,375.2 256.8,375.1 257.8,375.1 258.8,375 259.8,374.9 260.8,374.8 261.8,374.8 262.8,374.7 263.8,374.6 264.8,374.5 265.8,374.4 266.8,374.3 267.8,374.2 268.8,374.1 269.8,373.9 270.8,373.8 271.8,373.7 272.8,373.6 273.8,373.4 274.8,373.3 275.8,373.2 276.8,373 277.8,372.9 278.8,372.7 279.8,372.6 280.8,372.4 281.8,372.3 282.8,372.1 283.8,372 284.8,371.8 285.8,371.7 285.8,371.7 286.8,371.6 287.8,371.4 288.8,371.2 289.8,371.1 290.8,370.9 291.8,370.7 292.8,370.6 293.8,370.4 294.8,370.2 295.8,370 296.8,369.8 297.8,369.6 298.8,369.4 299.8,369.2 300.8,368.9 301.8,368.7 302.8,368.4 303.8,368.2 304.8,367.9 305.2,367.8 305.8,367.6 306.8,367.3 307.8,367 308.8,366.6 309.8,366.3 310.8,365.9 311.8,365.5 312.8,365.1 313.8,364.6 314.8,364.2 315.8,363.7 316.8,363.2 317.8,362.7 318.8,362.2 319.8,361.7 320.8,361.1 321.8,360.6 322.8,360.1 323.8,359.5 324.7,359 324.8,358.9 325.8,358.4 326.8,357.8 327.8,357.2 328.8,356.5 329.8,355.9 330.8,355.2 331.8,354.6 332.8,353.9 333.8,353.1 334.8,352.4 335.8,351.6 336.8,350.8 337.8,350 338.8,349.2 339.8,348.3 340.8,347.5 341.8,346.6 342.8,345.6 343.8,344.7 344,344.5 344.8,343.7 345.8,342.6 346.8,341.5 347.8,340.4 348.8,339.2 349.8,337.9 350.8,336.5 351.8,335 352.8,333.5 353.8,331.9 353.8,331.8 354.8,330 355.8,327.9 356.8,325.5 357.8,323 358.8,320.4 359,320 359.8,317.7 360.8,314.7 361.8,311.5 362.8,308.1 363.5,305.7 363.8,304.4 364.8,300.1 365.8,295.5 366.8,290.9 367.5,288 367.9,286.5 368.9,282.1 369.9,277.8 370.9,273.9 371.2,272.7 371.9,270.6 372.9,267.4 373.9,264.7 374.9,262.7 375,262.5 375.9,261.4 376.9,260.3 377.9,259.5 378.9,259.1 379,259.1 379.9,259.3 380.9,259.8 381.9,260.7 382.9,261.8 383,262 383.9,263.6 384.9,266.7 385.9,270.6 386.8,274.6 386.9,274.9 387.9,279.9 388.9,285.8 389.9,292.1 390.5,296 390.9,298.3 391.9,304.7 392.9,311.3 393.9,317.6 394.5,321.2 394.9,323.2 395.9,328.2 396.9,332.9 397.9,337.3 398.5,340 398.9,341.5 399.9,345.6 400.9,349.5 401.9,352.9 402.3,354.2 402.9,355.9 403.9,358.5 404.9,361 405.9,363.2 406.9,365.3 407,365.5 407.9,367.2 408.9,368.9 409.9,370.6 410.9,372.1 411.9,373.4 412,373.6 412.9,374.7 413.9,375.9 414.9,377.1 415.9,378.2 416.9,379.3 417.9,380.3 418.9,381.2 419.9,382 420.9,382.8 421.7,383.3 421.9,383.4 422.9,384 423.9,384.6 424.9,385.1 425.9,385.6 426.9,386.1 427.9,386.5 428.9,386.9 429.9,387.2 430.9,387.5 431.4,387.6 431.9,387.7 432.9,387.9 433.9,388.1 434.9,388.3 435.9,388.4 436.9,388.6 437.9,388.7 438.9,388.8 439.9,389 440.9,389.1 441.9,389.2 442.9,389.3 443.9,389.4 444.9,389.5 445.9,389.6 446.9,389.7 447.9,389.8 448.9,389.9 449.4,389.9 449.9,389.9 450.9,390 451.9,390.1 452.9,390.2 453.9,390.3 454.9,390.4 455.9,390.5 456.9,390.6 457.9,390.7 458.9,390.8 459.9,390.9 460.9,391 461.9,391 462.9,391.1 463.9,391.2 464.9,391.2 465.9,391.3 466.9,391.3 467.9,391.3 468.8,391.3 468.9,391.3 469.9,391.3 470.9,391.3 471.9,391.2 472.9,391.2 473.9,391.1 474.9,391 475.9,390.9 476.9,390.8 477.9,390.7 478.9,390.6 479.9,390.4 480.9,390.3 481.9,390.2 482.9,390 483.9,389.9 484.9,389.7 485.9,389.6 486.9,389.5 487.9,389.3 488.2,389.3 488.9,389.2 489.9,389.1 490.9,388.9 491.9,388.8 492.9,388.6 493.9,388.5 494.9,388.3 495.9,388.2 496.9,388 497.9,387.8 498.9,387.7 499.9,387.5 500.9,387.3 501.9,387.1 502.9,386.9 503.9,386.7 504.9,386.5 505.9,386.3 506.9,386.1 507.6,386 507.9,385.9 509,385.7 510,385.5 511,385.3 512,385 513,384.8 514,384.5 515,384.3 516,384 517,383.7 518,383.5 519,383.2 520,382.9 521,382.6 522,382.3 523,382 524,381.6 525,381.3 526,381 527,380.6 527,380.6 528,380.2 529,379.9 530,379.5 531,379.1 532,378.6 533,378.2 534,377.7 535,377.2 536,376.8 537,376.3 538,375.7 539,375.2 540,374.7 541,374.1 542,373.5 543,373 544,372.4 545,371.8 546,371.2 546.4,370.9 547,370.5 548,369.9 549,369.2 550,368.4 551,367.7 552,366.9 553,366.1 554,365.2 555,364.4 556,363.5 556,363.5 557,362.6 558,361.7 559,360.8 560,359.8 561,358.8 562,357.8 563,356.7 564,355.6 565,354.4 565.8,353.4 566,353.2 567,351.9 568,350.5 569,349 570,347.5 571,345.9 572,344.3 573,342.6 574,340.8 575,338.9 575.5,337.9 576,336.9 577,334.7 578,332.3 579,329.9 580,327.3 580.5,326 581,324.7 582,322.1 583,319.5 584,316.6 585,313.4 585.2,312.7 586,309.6 587,305.1 588,300.3 588.5,298 589,295.7 590,291.4 591,286.1 591.1,285.5 592,277.9 593,267.7 593.3,265 594,258.9 595,250.3 595.3,247.6 596,240.5 597,229.9 598,219 598,218.9 599,207.4 600,195.7 600.4,191.3 601,184.4 602,173.4 603,162 603,161.8 604,148.6 605,135.9 605.1,135 606,125.7 607,116.9 607.5,113 608,109.1 609,102.2 609.8,97.5 610,96.3 611,91.2 611.6,89 612,87.6 613,84.8 613.5,84.4 614,85.1 615,88.7 615.2,89.5 616,94.9 616.3,97.5 617,109.5 617.3,115 618,131.3 618.2,135 619,150.1 620,166.2 621,183.7 621.4,191.3 622,207.6 623,236.8 623.5,247.6 624,256.7 625,270.7 625.7,279.5 626,284 627,296.8 628,308.8 628,309.2 629,321.7 630,333 630,333.4 631,344 631.8,351.5 632,353.7 633,362.3 633.8,368.5 634,370.4 635,378.1 635.7,382.6 636,384.7 637,390.2 637.6,393 638,395.2 639,399.8 639.6,402 640,403.6 641,407.1 642,410.2 643,412.7 643.5,413.6 644,414.6 645,416.1 646,417.4 647,418.6 648,419.5 648,419.5 649,420.4 650,421.2 651.1,422 652.1,422.6 653.1,423.2 653.2,423.3 654.1,423.8 655.1,424.3 656.1,424.9 657.1,425.4 658.1,425.8 659.1,426.3 660.1,426.7 661.1,427.1 662.1,427.4 662.9,427.6 663.1,427.6 664.1,427.9 665.1,428.1 666.1,428.3 667.1,428.5 668.1,428.7 669.1,428.8 670.1,429 671.1,429.1 672,429.2 672.1,429.2 673.1,429.3 674.1,429.4 675.1,429.5 676.1,429.6 677.1,429.7 678.1,429.8 679.1,429.9 680.1,429.9 681.1,430 682.1,430.1 682.3,430.1 683.1,430.2 684.1,430.2 685.1,430.3 686.1,430.3 687.1,430.4 688.1,430.4 689.1,430.5 690.1,430.5 691.1,430.6 692.1,430.6 693.1,430.7 694.1,430.7 695.1,430.8 696.1,430.8 697.1,430.9 698.1,430.9 699.1,431 700.1,431 701.1,431.1 701.7,431.1 702.1,431.1 703.1,431.2 704.1,431.2 705.1,431.3 706.1,431.3 707.1,431.4 708.1,431.4 709.1,431.5 710.1,431.5 711.1,431.5 712.1,431.6 713.1,431.6 714.1,431.7 715.1,431.7 716.1,431.8 717.1,431.8 718.1,431.9 719.1,431.9 720.1,432 721.1,432"/>
</g>
<path d="M154.7,23V479.6H721.7M154.7,479.6H151.3M154.7,441.6H147.3M154.7,403.5H151.3M154.7,365.5H147.3M154.7,327.4H151.3M154.7,289.4H147.3M154.7,251.3H151.3M154.7,213.2H147.3M154.7,175.2H151.3M154.7,137.1H147.3M154.7,99.1H151.3M154.7,61.1H147.3M154.7,23H151.3M154.7,479.6V483M217.7,479.6V487M280.7,479.6V483M343.7,479.6V487M406.7,479.6V483M469.7,479.6V487M532.7,479.6V483M595.7,479.6V487M658.7,479.6V483M721.7,479.6V487" stroke="#000" stroke-width="2.2" fill="none" stroke-linecap="square"/>
<g font-family='"Liberation Serif", "Times New Roman", serif' font-size="28.2" fill="#000">
<text x="137.9" y="449.2" text-anchor="end">0</text>
<text x="137.9" y="373.1" text-anchor="end">20000</text>
<text x="137.9" y="297" text-anchor="end">40000</text>
<text x="137.9" y="220.8" text-anchor="end">60000</text>
<text x="137.9" y="144.7" text-anchor="end">80000</text>
<text x="137.9" y="68.7" text-anchor="end">100000</text>
<text x="217.7" y="515.2" text-anchor="middle">590</text>
<text x="343.7" y="515.2" text-anchor="middle">585</text>
<text x="469.7" y="515.2" text-anchor="middle">580</text>
<text x="595.7" y="515.2" text-anchor="middle">575</text>
<text x="721.7" y="515.2" text-anchor="middle">570</text>
</g>
<text x="438.2" y="566.4" text-anchor="middle" font-family='"Liberation Serif", "Times New Roman", serif' font-weight="bold" font-size="32.3">Binding Energy (eV)</text>
<text transform="translate(41.9,251.3) rotate(-90)" text-anchor="middle" font-family='"Liberation Serif", "Times New Roman", serif' font-weight="bold" font-size="32">Intensity (CPS)</text>
<text x="7.7" y="30" font-family='"Liberation Serif", "Times New Roman", serif' font-weight="bold" font-size="41.5">(a)</text>
<line x1="211" y1="43.5" x2="280.5" y2="43.5" stroke="#000" stroke-width="2.2"/>
<text x="286.5" y="53.2" font-family='"Liberation Serif", "Times New Roman", serif' font-size="30.3" fill="#000">Experimental</text>
<line x1="211" y1="88.1" x2="280.5" y2="88.1" stroke="#1010e8" stroke-width="2.2"/>
<text x="286.5" y="97.8" font-family='"Liberation Serif", "Times New Roman", serif' font-size="30.3" fill="#000">Cr 2p<tspan font-size="21" dy="8">3/2</tspan><tspan dy="-8"> </tspan>met</text>
<line x1="211" y1="131.3" x2="280.5" y2="131.3" stroke="#3d8ee8" stroke-width="2.2"/>
<text x="286.5" y="141" font-family='"Liberation Serif", "Times New Roman", serif' font-size="30.3" fill="#000">Cr 2p<tspan font-size="21" dy="8">1/2</tspan><tspan dy="-8"> </tspan>met</text>
<line x1="211" y1="175.1" x2="280.5" y2="175.1" stroke="#7a7a7a" stroke-width="2.2"/>
<text x="286.5" y="184.8" font-family='"Liberation Serif", "Times New Roman", serif' font-size="30.3" fill="#000">Background</text>
<line x1="211" y1="219.3" x2="280.5" y2="219.3" stroke="#a00008" stroke-width="2.2"/>
<text x="286.5" y="229" font-family='"Liberation Serif", "Times New Roman", serif' font-size="30.3" fill="#000">Fit</text>
<g fill="none" stroke-linejoin="round" stroke-linecap="butt">
<polyline stroke="#000000" stroke-width="2.2" points="956.6,360.4 957.8,360.7 959,361.3 960.2,360.6 961.4,362.9 961.6,362.6 962.6,361.7 963.8,361.9 965,361.2 966.2,360.2 967.4,360.4 968.6,359.3 969.4,359.1 969.8,358.8 971,359.3 972.2,358.8 973.4,359 974.6,358.3 975.8,358.6 977,358 978.2,358.7 979.4,358.3 980.6,358.3 981.8,358.2 983,357.4 984.2,358.2 985.4,358.6 986.6,356.6 986.9,356.5 987.8,356.5 989,357.4 990.2,356.7 991.4,356.8 992.6,356.3 993.8,355.6 995,355.3 996.2,354.7 997.4,354.8 998.5,353.5 998.6,353.9 999.8,353.9 1001,354.4 1002.2,352.8 1003.4,352.3 1004.6,352.3 1005.8,352.8 1007,351.8 1008.2,352.3 1008.2,350.7 1009.4,351.7 1010.6,351.2 1011.8,349.5 1013,349.8 1014.2,349.8 1015.4,348.7 1016.6,348.7 1017.8,348.9 1017.9,347.8 1019,347.2 1020.2,346.6 1021.4,346.9 1022.6,346.2 1023.8,345.8 1025,345.5 1026.2,345.5 1027.5,344.3 1027.6,344 1028.7,343.2 1029.9,344.5 1031.1,343.4 1032.3,343.6 1033.5,342.3 1034.7,341.5 1035.9,341.8 1037.1,341.3 1037.3,340.7 1038.3,340.8 1039.5,342 1040.7,341.3 1041.9,341.2 1043.1,340.8 1044.3,340.6 1045.5,341.4 1046.7,340.8 1047,340.5 1047.9,340.9 1049.1,340.6 1050.3,341.3 1051.5,342 1052.7,341.2 1053.9,342.6 1055.1,341.9 1056.3,342.5 1056.7,342.1 1057.5,342.5 1058.7,342.9 1059.9,343 1061.1,343.1 1062.3,343.4 1063.5,343.5 1064.7,343.3 1065.9,344.1 1066.4,344.4 1067.1,344.7 1068.3,344.5 1069.5,345.4 1070.7,344.2 1071.9,343.8 1072,344.9 1073.1,343.4 1074.3,344.2 1075.5,342.9 1076.7,343.2 1077.9,341.7 1078.1,343 1079.1,342.1 1080.3,340.9 1081.5,341.2 1082.7,339.7 1083.9,338.3 1085.1,337.1 1085.8,337 1086.3,336.7 1087.5,336.6 1088.7,336.3 1089.9,335.1 1091.1,334.6 1091.7,334.2 1092.3,333.3 1093.5,332.3 1094.7,330.6 1095.9,328.8 1097.1,326.8 1097.5,325 1098.3,324.1 1099.5,321.1 1100.7,319.6 1101.9,315.5 1103.1,312.6 1103.3,311.3 1104.3,308.5 1105.5,305.2 1106.7,300.8 1107.9,296.9 1109.1,291.6 1109.1,292.7 1110.3,287 1111.5,282.8 1112.7,276.7 1113.9,273.7 1114,272.3 1115.1,270.9 1116.3,268 1117.5,266.6 1118.7,266.2 1118.8,266 1119.9,267.2 1121.1,269.8 1122.3,273.1 1123.5,276.3 1123.7,276.2 1124.7,280 1125.9,285.4 1127.1,290.2 1128.3,297.7 1128.5,298.1 1129.5,303.5 1130.7,311.1 1131.9,318.2 1133.1,324.9 1134.3,330.4 1134.4,331.4 1135.5,336.4 1136.7,340.9 1137.9,346.7 1139.1,350.8 1140.3,353.2 1141.2,356.5 1141.5,356.5 1142.7,360.1 1143.9,362.1 1145.1,363 1146.3,364.7 1147.5,366.7 1147.9,367 1148.7,368.8 1149.9,369.7 1151.1,370.5 1152.3,372 1153.5,371.8 1154.7,373.9 1155.9,375.1 1157.1,375.4 1157.6,375.4 1158.3,376.5 1159.5,378 1160.7,377.8 1161.9,377.8 1163.1,379.7 1164.3,378.7 1165.5,380.4 1166.7,380.3 1167.9,381.4 1169.2,380.8 1169.3,382 1170.4,381.7 1171.6,380.8 1172.8,380.9 1174,381.9 1175.2,382.9 1176.4,382.4 1177.6,382.5 1178.8,382.5 1180,383.1 1181.2,383 1182.4,383.1 1182.9,382.5 1183.6,383.7 1184.8,383.9 1186,382.6 1187.2,384.6 1188.4,383.9 1189.6,383.4 1190.8,382.8 1192,384.2 1193.2,384.2 1194.4,383.7 1195.6,383.2 1196.8,384.8 1198,384 1199.2,384.2 1200.4,385.9 1201.6,385.6 1202.3,385.1 1202.8,384.4 1204,385 1205.2,383.7 1206.4,384.9 1207.6,384.6 1208.8,384.4 1210,384.3 1211.2,385.5 1212.4,385.3 1213.6,385.4 1214.8,385.8 1216,385 1217.2,384.9 1218.4,384.7 1219.6,385.4 1220.8,386 1221.7,385.5 1222,385.9 1223.2,385 1224.4,385.3 1225.6,385.1 1226.8,384.8 1228,386.3 1229.2,385.7 1230.4,384.8 1231.6,384.7 1232.8,384.9 1234,384.1 1235.2,384.9 1236.3,384 1236.4,384.4 1237.6,383.9 1238.8,384 1240,383.4 1241.2,383.1 1242.4,383.1 1243.6,383 1244.8,382.9 1246,382.8 1247.2,383.2 1248.4,382.5 1249.6,381.7 1250.8,381.8 1252,380.8 1253.2,381.5 1253.4,381 1254.4,379.7 1255.6,380.4 1256.8,380 1258,377.8 1259.2,378.4 1260.4,378 1261.6,376.8 1262.8,376.7 1264,376.3 1265.2,376.4 1266.4,375.8 1267.6,376.3 1268.8,374.2 1270,374.4 1270.4,373.6 1271.2,373.3 1272.4,371.8 1273.6,370.6 1274.8,370.3 1276,370.2 1277.2,369.7 1278.4,368.2 1279.6,367.2 1280.8,365.6 1282,365.8 1283.2,364.8 1284.4,363.1 1285.4,362.7 1285.6,362.1 1286.8,362.5 1288,361.2 1289.2,360.2 1290.4,359.7 1291.6,359.1 1292.8,358 1294,357 1295.2,356.4 1296,355.9 1296.4,356.9 1297.6,357.3 1298.8,354.9 1300,355.5 1301.2,355.3 1302.4,354.3 1303.6,354.7 1304.6,354.1 1304.8,355.2 1306,354.4 1307.2,355 1308.4,355.6 1309.6,355.4 1310.9,355.1 1312.1,356.2 1313.1,357.2 1313.3,356.8 1314.5,357.4 1315.7,357.4 1316.9,358.6 1318.1,359.6 1319.3,360 1320.5,361.6 1321.7,361.2 1322.9,361.4 1323.8,361.5 1324.1,363 1325.3,362.9 1326.5,363.9 1327.7,364.1 1328.9,365.2 1330.1,365.4 1331.3,365 1332.5,365.7 1333.7,366.3 1334.5,365.3 1334.9,366.7 1336.1,366.7 1337.3,366.7 1338.5,366.3 1339.7,366.6 1340.9,366 1342.1,366.6 1343,366.3 1343.3,366.6 1344.5,366.2 1345.7,366.4 1346.9,366.5 1348.1,364.8 1349.3,365.4 1350.5,363.3 1351.7,362.6 1352.9,363.1 1353.7,362.7 1354.1,362.7 1355.3,361 1356.5,361.1 1357.7,360.4 1358.9,360.1 1360.1,358.5 1361.3,357.8 1362.5,355.9 1363.7,355.1 1364.4,354.2 1364.9,354.2 1366.1,351.6 1367.3,349.6 1368.5,348 1369.7,346.1 1370.8,342.9 1370.9,342.6 1372.1,339.3 1373.3,336.6 1374.5,332.3 1374.5,332.9 1375.7,326.7 1376.9,320 1377.2,318.9 1378.1,315.6 1379.3,311.5 1379.8,310.6 1380.5,306.6 1381.4,299.4 1381.7,298.5 1382.9,286 1384.1,272 1384.6,267 1385.3,258.8 1386.5,244.4 1387.7,228.7 1388.3,221.5 1388.9,212.8 1390.1,192.1 1391.1,176.4 1391.3,172.6 1392.5,148.2 1393.4,130.8 1393.7,124.6 1394.9,101.2 1395.9,85.2 1396.1,83.2 1397.3,67.3 1397.8,64.1 1398.5,59.3 1399.6,54.9 1399.7,55.1 1400.8,59.3 1400.9,60.7 1401.9,85.4 1402.1,91.1 1403.3,124.8 1403.5,132.2 1404.5,161.5 1405,176.2 1405.7,195.2 1406.7,221.3 1406.9,228.5 1408.1,264.2 1408.2,267.5 1409.3,298.4 1409.8,309.5 1410.5,328 1411.3,342.4 1411.7,349.5 1412.9,359.7 1413.4,363.5 1414.1,369.2 1415.3,378.6 1415.6,380.8 1416.5,386 1417.7,392 1417.8,392.7 1418.9,398.4 1419.9,403.2 1420.1,402.4 1421.3,406.6 1422.5,409.4 1423,410.2 1423.7,412 1424.9,414.8 1426.1,417.6 1426.3,417.3 1427.3,418.3 1428.5,420 1429.7,420.8 1430.9,421.4 1432.1,422.5 1433.3,422.6 1434.5,424 1434.8,424 1435.7,424.1 1436.9,424.3 1438.1,426.3 1439.3,426.2 1440.5,428.2 1441.7,426.8 1442.9,428 1444.1,427.6 1445.3,428.2 1445.5,428.5 1446.5,427.8 1447.7,428.3 1448.9,428.6 1450.1,428.7 1451.3,429 1452.6,429.3 1453.8,429.3 1455,429.1 1456.2,428.9 1457.4,428.6 1458.6,428.8 1459.8,429 1461,429.7 1462.2,429.2 1463.4,428.8 1464.6,429.8 1465.8,429.2 1466.8,429.2 1467,429.5 1468.2,429.9 1469.4,428.5 1470.6,429.2 1471.8,429.9 1473,429.7 1474.2,429.4 1475.4,429.6 1476.6,430.6 1477.8,429.8 1479,430.4 1480.2,430.5 1481.4,429.9 1482.6,430.3 1483.8,429.9 1485,429.9 1486.2,429.7 1487.4,430.7 1488.6,430.1 1489.8,430 1491,429.8 1492.2,431.3 1493.4,430.8 1494.6,430.4 1495.8,430.1 1497,429.8 1498.2,430.7 1498.8,430.7 1499.4,429.9 1500.6,431.2 1501.8,431.1 1503,430.3 1504.2,430.5 1505.4,430.6 1506.6,431 1507.8,430.9 1509,430.2 1510.2,431.8 1511.4,431.3 1512.6,431.8 1513.8,431.9 1515,431.2 1516.2,431.5 1517.4,431.8 1518.6,431.8 1519.8,431.4 1521,431.3 1522.2,431.7 1523.4,431.3"/>
<polyline stroke="#0c0cb4" stroke-width="2.0" points="1225.6,387.5 1226.6,387.5 1227.6,387.4 1228.6,387.4 1229.6,387.4 1230.6,387.3 1231.6,387.3 1232.6,387.3 1233.6,387.3 1234.6,387.2 1235.6,387.2 1236.6,387.2 1237.6,387.1 1238.6,387.1 1239.6,387.1 1240.6,387 1241.6,387 1242.6,387 1243.6,387 1244.6,386.9 1245.6,386.9 1246.6,386.9 1247.6,386.8 1248.6,386.8 1249.6,386.8 1250.6,386.8 1251.6,386.7 1252.6,386.7 1253.6,386.7 1254.6,386.7 1255.6,386.6 1256.6,386.6 1257.6,386.6 1258.6,386.5 1259.6,386.5 1260.6,386.5 1261.6,386.5 1262.6,386.4 1263.6,386.4 1264,386.4 1264.6,386.4 1265.6,386.4 1266.6,386.3 1267.6,386.3 1268.6,386.3 1269.6,386.3 1270.6,386.3 1271.6,386.2 1272.6,386.2 1273.6,386.2 1274.6,386.2 1275.6,386.2 1276.6,386.1 1277.6,386.1 1278.6,386.1 1279.6,386.1 1280.6,386.1 1281.6,386.1 1282.6,386 1283.6,386 1284.6,386 1285.6,386 1286.6,386 1287.6,385.9 1288.6,385.9 1289.6,385.9 1290.6,385.9 1291.6,385.9 1292.6,385.8 1293.6,385.8 1294.6,385.8 1295.6,385.8 1296.6,385.7 1297.6,385.7 1298.6,385.7 1299.6,385.7 1300.5,385.6 1301.5,385.6 1302.5,385.6 1303.5,385.5 1304.5,385.5 1305.5,385.4 1306.5,385.4 1306.7,385.4 1307.5,385.4 1308.5,385.3 1309.5,385.2 1310.5,385.2 1311.5,385.1 1312.5,385 1313.5,384.9 1314.5,384.8 1315.5,384.7 1316,384.6 1316.5,384.5 1317.5,384.4 1318.5,384.2 1319.5,384.1 1320.5,383.9 1321.5,383.7 1322.5,383.5 1323.5,383.3 1323.8,383.2 1324.5,383 1325.5,382.8 1326.5,382.6 1327.5,382.3 1328.5,382 1329.5,381.7 1330.5,381.4 1331,381.3 1331.5,381.1 1332.5,380.8 1333.5,380.5 1334.5,380.1 1335.5,379.8 1336.5,379.4 1337.5,379 1338.5,378.6 1338.7,378.5 1339.5,378.1 1340.5,377.7 1341.5,377.2 1342.5,376.7 1343.5,376.2 1344.5,375.6 1345.5,375 1346.5,374.4 1347.5,373.8 1348.5,373.2 1349.4,372.6 1349.5,372.5 1350.5,371.8 1351.5,371.1 1352.5,370.3 1353.5,369.4 1354.5,368.5 1355,368 1355.5,367.5 1356.5,366.4 1357.5,365.2 1358.5,364 1359.5,362.7 1360.1,361.9 1360.5,361.4 1361.5,360 1362.5,358.6 1363.5,357.1 1364.5,355.5 1364.5,355.5 1365.5,353.8 1366.5,351.9 1367.5,350 1368.5,347.9 1369.5,345.7 1370.5,343.4 1370.8,342.7 1371.5,341 1372.5,338.3 1373.5,335.4 1374.5,332 1375.5,327.5 1376.5,322.4 1377.2,319.2 1377.5,318.1 1378.5,314.8 1379.5,311.3 1379.8,310 1380.5,306.2 1381.4,300 1381.5,299.3 1382.5,290.2 1383.5,279.4 1384.5,268 1384.6,266.8 1385.5,256.7 1386.5,245 1387.5,232.4 1388.3,221.5 1388.5,218.8 1389.5,203.5 1390.5,186.8 1391.1,176.1 1391.5,168.9 1392.5,148.8 1393.4,130.7 1393.5,129 1394.5,109.6 1395.5,91.6 1395.9,85.4 1396.5,77.5 1397.5,66.5 1397.8,64 1398.5,59.4 1399.5,55.4 1399.6,55.3 1400.5,58 1400.8,60 1401.5,73.8 1401.9,85.4 1402.5,101 1403.5,130.1 1403.5,130.7 1404.5,160.7 1405,176.1 1405.5,189.2 1406.5,215.3 1406.7,221.5 1407.5,245 1408.2,266.8 1408.5,274.7 1409.5,301.9 1409.8,310 1410.5,326.5 1411.3,342.7 1411.5,345.1 1412.5,355.9 1413.4,364 1413.5,364.6 1414.5,373 1415.5,380.3 1415.6,381.1 1416.5,386.2 1417.5,391.4 1417.8,393 1418.5,396.3 1419.5,400.9 1419.9,402.5 1420.5,404.4 1421.5,407.3 1422.5,409.8 1423,411 1423.5,412.1 1424.5,414.3 1425.5,416.2 1426.3,417.4 1426.5,417.6 1427.5,418.7 1428.5,419.6 1429.5,420.5 1430.5,421.2 1431.5,421.9 1432.5,422.5 1433.5,423.1 1434.5,423.6 1434.8,423.8 1435.5,424.1 1436.5,424.7 1437.5,425.2 1438.5,425.7 1439.5,426.2 1440.5,426.6 1441.5,427 1442.5,427.4 1443.5,427.7 1444.5,427.9 1445.5,428.1 1445.5,428.1 1446.5,428.2 1447.5,428.3 1448.5,428.4 1449.4,428.5 1450.4,428.6 1451.4,428.7 1452.4,428.8 1453.4,428.9 1454.4,429 1455.4,429 1456.4,429.1 1457.4,429.2 1458.4,429.2 1459.4,429.3 1460.4,429.3 1461.4,429.4 1462.4,429.4 1463.4,429.5 1464.4,429.5 1465.4,429.5 1466.4,429.6 1466.8,429.6 1467.4,429.6 1468.4,429.7 1469.4,429.7 1470.4,429.7 1471.4,429.8 1472.4,429.8 1473.4,429.9 1474.4,429.9 1475.4,429.9 1476.4,430 1477.4,430 1478.4,430 1479.4,430 1480.4,430.1 1481.4,430.1 1482.4,430.1 1483.4,430.1 1484.4,430.2 1485.4,430.2 1486.4,430.2 1487.4,430.3 1488.4,430.3 1489.4,430.3 1490.4,430.3 1491.4,430.4 1492.4,430.4 1493.4,430.4 1494.4,430.5 1495.4,430.5 1496.4,430.5 1497.4,430.6 1498.4,430.6 1498.8,430.6 1499.4,430.6 1500.4,430.7 1501.4,430.7 1502.4,430.7 1503.4,430.8 1504.4,430.8 1505.4,430.9 1506.4,430.9 1507.4,430.9 1508.4,431 1509.4,431 1510.4,431.1 1511.4,431.1 1512.4,431.2 1513.4,431.2 1514.4,431.3 1515.4,431.3 1516.4,431.4 1517.4,431.4 1518.4,431.5 1519.4,431.5 1520.4,431.5 1521.4,431.6 1522.4,431.6 1523.4,431.7"/>
<polyline stroke="#22e6f0" stroke-width="2.0" points="1227.7,387.5 1228.7,387.4 1229.7,387.2 1230.7,387.1 1231.7,387 1232.7,386.8 1233.7,386.6 1234.7,386.5 1235.7,386.3 1236.7,386.1 1237.7,385.9 1238.7,385.7 1239.7,385.6 1240,385.5 1240.7,385.4 1241.7,385.2 1242.7,384.9 1243.7,384.7 1244.7,384.5 1245.7,384.3 1246.7,384 1247.7,383.8 1248.7,383.5 1249.7,383.2 1250.7,383 1251.7,382.7 1252.7,382.4 1253.4,382.2 1253.7,382.1 1254.7,381.8 1255.7,381.5 1256.7,381.2 1257.7,380.8 1258.7,380.5 1259.7,380.1 1260.7,379.8 1261.7,379.4 1262.7,379 1263.7,378.6 1264,378.5 1264.7,378.2 1265.7,377.8 1266.7,377.4 1267.7,377 1268.7,376.5 1269.7,376.1 1270.7,375.6 1271.7,375.1 1272.7,374.6 1273.7,374.1 1274.7,373.6 1274.7,373.6 1275.7,373 1276.7,372.4 1277.7,371.8 1278.7,371.2 1279.7,370.5 1280.7,369.9 1281.7,369.2 1282.7,368.7 1283,368.5 1283.7,368.1 1284.7,367.5 1285.7,367 1286.7,366.5 1287.7,365.9 1288.7,365.4 1289.7,364.9 1290.7,364.5 1291.7,364 1291.8,364 1292.7,363.6 1293.7,363.1 1294.7,362.7 1295.7,362.3 1296.7,362 1297,362 1297.7,361.9 1298.7,361.8 1299.7,361.7 1300.7,361.6 1301.7,361.5 1302.7,361.5 1303.5,361.5 1303.7,361.5 1304.7,361.6 1305.7,361.8 1306.7,362 1307.7,362.3 1308.7,362.6 1309,362.7 1309.7,363 1310.7,363.4 1311.7,364 1312.7,364.5 1313.7,365.2 1314.7,365.8 1315.3,366.2 1315.7,366.5 1316.7,367.2 1317.7,367.9 1318.7,368.7 1319.7,369.5 1320.7,370.3 1321,370.5 1321.7,371.1 1322.7,372 1323.7,372.8 1324.7,373.7 1325.7,374.6 1326.7,375.6 1327.7,376.5 1328.1,376.8 1328.7,377.4 1329.7,378.4 1330.7,379.4 1331.8,380.4 1332.8,381.3 1333,381.5 1333.8,382.1 1334.8,382.8 1335.8,383.5 1336.8,384.2 1337.8,384.8 1338.7,385.4 1338.8,385.4 1339.8,386 1340.8,386.6 1341.8,387.1 1342.8,387.7 1343.8,388.2 1344,388.3 1344.8,388.7 1345.8,389.1 1346.8,389.6 1347.8,390 1348.8,390.5 1349.4,390.7 1349.8,390.8 1350.8,391.2 1351.8,391.5 1352.8,391.9 1353.8,392.2 1354.8,392.5 1355.8,392.8 1356.8,393.1 1357.8,393.3 1358.8,393.6 1359.8,393.9 1360,394 1360.8,394.2 1361.8,394.5 1362.8,394.8 1363.8,395.1 1364.8,395.4 1365.8,395.6 1366.8,395.9 1367.8,396.2 1368.8,396.5 1369.8,396.8 1370.8,397.1 1370.8,397.1 1371.8,397.4 1372.8,397.7 1373.8,398 1374.8,398.3 1375.8,398.7 1376.8,399 1377.8,399.4 1378,399.5 1378.8,399.8 1379.8,400.3 1380.8,400.8 1381.8,401.4 1382.8,402 1383.6,402.5 1383.8,402.6 1384.8,403.3 1385.8,404.1 1386.8,404.9 1387.8,405.8 1388,406 1388.8,406.8 1389.8,408 1390.8,409.3 1391.8,410.6 1392.1,411 1392.8,411.9 1393.8,413.2 1394.8,414.5 1395.8,415.8 1396.8,417.1 1397.5,418 1397.8,418.3 1398.8,419.5 1399.8,420.7 1400.8,421.9 1401.8,422.9 1402.8,423.8 1402.8,423.8 1403.8,424.6 1404.8,425.3 1405.8,426 1406.8,426.6 1407.8,427.1 1408,427.2 1408.8,427.5 1409.8,427.9 1410.8,428.2 1411.8,428.4 1412.8,428.6 1413.4,428.7 1413.8,428.7 1414.8,428.8 1415.8,428.9 1416.8,429 1417.8,429.1 1418.8,429.1 1419.8,429.2 1420.8,429.2 1421.8,429.3 1422.8,429.3 1423.8,429.3 1424.8,429.4 1425,429.4 1425.8,429.4 1426.8,429.5 1427.8,429.5 1428.8,429.6 1429.8,429.6 1430.8,429.7 1431.8,429.7 1432.8,429.7 1433.8,429.8 1434.8,429.8"/>
<polyline stroke="#777777" stroke-width="2.0" points="1227.7,387.9 1228.7,387.9 1229.7,387.9 1230.7,387.9 1231.7,387.9 1232.7,388 1233.7,388 1234.7,388 1235.7,388 1236.7,388 1237.7,388.1 1238.7,388.1 1239.7,388.1 1240.7,388.2 1241.7,388.2 1242.7,388.2 1243.7,388.3 1244.7,388.3 1245.7,388.3 1246.7,388.4 1247.7,388.4 1248.7,388.5 1249.7,388.5 1250.7,388.5 1251.7,388.6 1252.7,388.6 1253.7,388.7 1254.7,388.7 1255.7,388.8 1256.7,388.8 1257.7,388.9 1258.7,388.9 1259.7,389 1260.7,389 1261.7,389.1 1262.7,389.1 1263.7,389.2 1264,389.2 1264.7,389.2 1265.7,389.3 1266.7,389.4 1267.7,389.4 1268.7,389.5 1269.7,389.6 1270.7,389.6 1271.7,389.7 1272.7,389.8 1273.7,389.9 1274.7,390 1275.7,390.1 1276.7,390.2 1277.6,390.3 1278.6,390.4 1279.6,390.5 1280.6,390.6 1281.6,390.7 1282.6,390.8 1283.6,390.9 1284.6,391 1285.6,391.1 1286.6,391.2 1287.6,391.3 1288.6,391.4 1289.6,391.5 1290.6,391.6 1291.6,391.8 1292.6,391.9 1293.6,392 1294.6,392.1 1295.6,392.2 1296,392.2 1296.6,392.3 1297.6,392.4 1298.6,392.5 1299.6,392.6 1300.6,392.7 1301.6,392.8 1302.6,392.9 1303.6,393 1304.6,393.1 1305.6,393.2 1306.6,393.3 1307.6,393.4 1308.6,393.5 1309.6,393.7 1310.6,393.8 1311.6,393.9 1312.6,394 1313.6,394.1 1314.6,394.2 1315.6,394.3 1316.6,394.4 1317.6,394.5 1318.6,394.6 1319.6,394.8 1320.6,394.9 1321.6,395 1322.6,395.1 1323.6,395.2 1324.6,395.3 1325.6,395.4 1326.6,395.5 1327.6,395.6 1328.1,395.6 1328.6,395.6 1329.6,395.7 1330.6,395.8 1331.6,395.9 1332.6,396 1333.6,396.1 1334.6,396.1 1335.6,396.2 1336.6,396.3 1337.6,396.4 1338.6,396.5 1339.6,396.5 1340.6,396.6 1341.6,396.7 1342.6,396.7 1343.6,396.8 1344.6,396.9 1345.6,397 1346.6,397 1347.6,397.1 1348.6,397.2 1349.6,397.3 1350.6,397.3 1351.6,397.4 1352.6,397.5 1353.6,397.6 1354.6,397.7 1355.6,397.8 1356.6,397.9 1357.6,397.9 1358.6,398 1359.6,398.1 1360.1,398.2 1360.6,398.2 1361.6,398.3 1362.6,398.5 1363.6,398.6 1364.6,398.7 1365.6,398.8 1366.6,398.9 1367.6,399 1368.6,399.1 1369.6,399.3 1370.6,399.4 1371.6,399.6 1372.6,399.7 1373.6,399.9 1374,400 1374.6,400.1 1375.6,400.4 1376.5,400.6 1377.5,401 1378.5,401.3 1379.5,401.7 1380.5,402.1 1381.4,402.5 1381.5,402.6 1382.5,403.1 1383.5,403.6 1384.5,404.2 1385.5,404.9 1386.5,405.7 1387,406 1387.5,406.4 1388.5,407.3 1389.5,408.3 1390.5,409.3 1391.5,410.4 1392.1,411 1392.5,411.5 1393.5,412.7 1394.5,414.1 1395.5,415.4 1396.5,416.8 1397.5,418 1397.5,418 1398.5,419.3 1399.5,420.6 1400.5,421.9 1401.5,423 1402.5,424 1402.8,424.2 1403.5,424.8 1404.5,425.5 1405.5,426.1 1406.5,426.7 1407.5,427.1 1408,427.3 1408.5,427.5 1409.5,427.8 1410.5,428.1 1411.5,428.4 1412.5,428.6 1413.4,428.7 1413.5,428.7 1414.5,428.8 1415.5,428.9 1416.5,429.1 1417.5,429.1 1418.5,429.2 1419.5,429.3 1420.5,429.4 1421.5,429.4 1422.5,429.5 1423.5,429.5 1424.5,429.6 1425,429.6 1425.5,429.6 1426.5,429.6 1427.5,429.7 1428.5,429.7 1429.5,429.7 1430.5,429.8 1431.5,429.8 1432.5,429.8 1433.5,429.8 1434.5,429.8 1435.5,429.9 1436.5,429.9 1437.5,429.9 1438.5,429.9 1439.5,429.9 1440.5,429.9 1441.5,430 1442.5,430 1443.5,430 1444.5,430 1445.5,430 1446.5,430 1447.5,430 1448.5,430.1 1449.5,430.1 1450.5,430.1 1451.5,430.1 1452.5,430.1 1453.5,430.1 1454.5,430.2 1455.5,430.2 1456.1,430.2 1456.5,430.2 1457.5,430.2 1458.5,430.3 1459.5,430.3 1460.5,430.3 1461.5,430.3 1462.5,430.4 1463.5,430.4 1464.5,430.4 1465.5,430.4 1466.5,430.5 1467.5,430.5 1468.5,430.5 1469.5,430.5 1470.5,430.6 1471.5,430.6 1472.5,430.6 1473.5,430.6 1474.4,430.7 1475.4,430.7 1476.4,430.7 1477.4,430.8 1478.4,430.8 1479.4,430.8 1480.4,430.8 1481.4,430.9 1482.4,430.9 1483.4,430.9 1484.4,431 1485.4,431 1486.4,431 1487.4,431 1488.4,431.1 1489.4,431.1 1490.4,431.1 1491.4,431.1 1492.4,431.2 1493.4,431.2 1494.4,431.2 1495.4,431.2 1496.4,431.3 1497.4,431.3 1498.4,431.3 1498.8,431.3 1499.4,431.3 1500.4,431.3 1501.4,431.4 1502.4,431.4 1503.4,431.4 1504.4,431.4 1505.4,431.4 1506.4,431.4 1507.4,431.5 1508.4,431.5 1509.4,431.5 1510.4,431.5 1511.4,431.5 1512.4,431.5 1513.4,431.6 1514.4,431.6 1515.4,431.6 1516.4,431.6 1517.4,431.6 1518.4,431.6 1519.4,431.6 1520.4,431.7 1521.4,431.7 1522.4,431.7 1523.4,431.7"/>
<polyline stroke="#ff0000" stroke-width="2.0" points="956.6,361.5 957.8,359.4 959,361.7 960.2,361.5 961.4,361.7 961.6,361.9 962.6,360.7 963.8,361.4 965,360.5 966.2,362.5 967.4,360.1 968.6,359.3 969.4,359.1 969.8,358.8 971,358.4 972.2,358.6 973.4,359 974.6,358.5 975.8,359.1 977,358.3 978.2,358.3 979.4,359.1 980.6,358.5 981.8,357.7 983,357.8 984.2,358.1 985.4,358.8 986.6,357.3 986.9,357.3 987.8,357.8 989,356.4 990.2,356.5 991.4,356.8 992.6,356.3 993.8,355.6 995,355.6 996.2,353.1 997.4,355 998.5,353.5 998.6,353.1 999.8,353.9 1001,353.9 1002.2,352.9 1003.4,352.2 1004.6,352.6 1005.8,352.3 1007,352.8 1008.2,352.1 1008.2,351.7 1009.4,351.9 1010.6,350.6 1011.8,349.7 1013,350.1 1014.2,349.5 1015.4,348.5 1016.6,347.7 1017.8,347.9 1017.9,346.2 1019,347.8 1020.2,347.3 1021.4,345.6 1022.6,346.3 1023.8,345.4 1025,346.1 1026.2,344 1027.4,344.3 1027.6,345.2 1028.6,345.1 1029.8,342.7 1031,343.1 1032.2,343.1 1033.4,342 1034.6,342.9 1035.8,340.8 1037,341.5 1037.3,340.7 1038.2,342.1 1039.4,341.1 1040.6,340.9 1041.8,340 1043,342 1044.2,341.4 1045.4,341.4 1046.6,341.6 1047,341.1 1047.8,340.5 1049,340.5 1050.2,340.7 1051.4,342.2 1052.6,340.8 1053.8,341.5 1055,342 1056.2,342.5 1056.7,342.8 1057.4,341.9 1058.6,341.8 1059.8,343.1 1061,344.2 1062.2,344.1 1063.4,344 1064.6,343.9 1065.8,344.4 1066.4,344.1 1067,344.7 1068.2,343.7 1069.4,344.2 1070.6,344 1071.8,344.3 1072,344.1 1073,345.4 1074.2,344.6 1075.4,344.3 1076.6,341.9 1077.8,342.5 1078.1,342.2 1079,342.5 1080.2,340.1 1081.4,341.2 1082.6,340.1 1083.8,337.6 1085,336.9 1085.8,336.5 1086.2,336.8 1087.4,336.7 1088.6,337.1 1089.7,335.4 1090.9,335.4 1091.7,334.6 1092.1,335.2 1093.3,333.2 1094.5,331.7 1095.7,328.1 1096.9,326.3 1097.5,324.9 1098.1,325.1 1099.3,322 1100.5,318.7 1101.7,315.7 1102.9,313.1 1103.3,311.4 1104.1,308.8 1105.3,305.9 1106.5,303 1107.7,297.2 1108.9,292.6 1109.1,291.7 1110.1,287.4 1111.3,283 1112.5,278 1113.7,273.6 1114,273.2 1114.9,271.1 1116.1,268.9 1117.3,266.1 1118.5,266 1118.8,266.3 1119.7,266.3 1120.9,268.7 1122.1,271.7 1123.3,275.6 1123.7,277.4 1124.5,279.4 1125.7,284.6 1126.9,290.9 1128.1,296.8 1128.5,299.2 1129.3,301.3 1130.5,310 1131.7,316.5 1132.9,323.8 1134.1,330.5 1134.4,331.8 1135.3,336 1136.5,340.6 1137.7,346.4 1138.9,349.7 1140.1,353.6 1141.2,356.9 1141.3,356.4 1142.5,360.5 1143.7,361.9 1144.9,364.5 1146.1,364.9 1147.3,366.2 1147.9,367.2 1148.5,368.3 1149.7,368.8 1150.9,370.6 1152.1,371.5 1153.3,373.6 1154.5,373.2 1155.7,375.2 1156.9,375 1157.6,375.2 1158.1,375.7 1159.3,376.1 1160.5,377.7 1161.7,378.9 1162.9,379 1164.1,379.9 1165.3,381 1166.5,380.7 1167.7,381 1168.9,381.1 1169.3,380.3 1170.1,381.9 1171.3,380.6 1172.5,382.2 1173.7,382 1174.9,382.9 1176.1,382.3 1177.3,382 1178.5,382.8 1179.7,382.4 1180.9,382.7 1182.1,382.9 1182.9,382.9 1183.3,382.9 1184.5,382.7 1185.7,383.2 1186.9,382.1 1188.1,383.4 1189.3,382.9 1190.5,384.4 1191.7,384.6 1192.9,382.7 1194.1,384.1 1195.3,384 1196.5,383.6 1197.7,384.6 1198.9,384.1 1200.1,383.4 1201.3,384.4 1202.3,384.5 1202.5,384.7 1203.7,383.9 1204.9,385.1 1206.1,385.3 1207.3,384.2 1208.5,384.6 1209.7,385 1210.9,384.8 1212.1,386.2 1213.3,385.4 1214.5,384.7 1215.7,384.9 1216.9,385.4 1218.1,386.8 1219.3,385.4 1220.5,385.6 1221.7,385.9 1221.7,385.6 1222.7,385.6 1223.7,385.6 1224.7,385.5 1225.7,385.5 1226.7,385.4 1227.7,385.4 1228.7,385.3 1229.7,385.2 1230.7,385.2 1231.7,385.1 1232.7,385 1233.7,384.9 1234.7,384.8 1235.7,384.7 1236.3,384.6 1236.7,384.6 1237.7,384.4 1238.7,384.3 1239.7,384.1 1240.7,384 1241.7,383.8 1242.7,383.6 1243.7,383.3 1244.7,383.1 1245.7,382.9 1246.7,382.6 1247.7,382.3 1248.7,382.1 1249.7,381.8 1250.7,381.5 1251.7,381.2 1252.7,380.9 1253.4,380.7 1253.7,380.6 1254.7,380.3 1255.7,380 1256.7,379.6 1257.7,379.3 1258.7,378.9 1259.7,378.5 1260.7,378.1 1261.7,377.7 1262.7,377.3 1263.7,376.8 1264.7,376.4 1265.7,375.9 1266.7,375.4 1267.7,375 1268.7,374.5 1269.7,374 1270.4,373.6 1270.7,373.5 1271.7,372.9 1272.6,372.4 1273.6,371.8 1274.6,371.1 1275.6,370.5 1276.6,369.8 1277.6,369.1 1278.6,368.4 1279.6,367.8 1280.6,367.1 1281.6,366.4 1282.6,365.7 1283.6,365.1 1284.6,364.5 1285.4,364 1285.6,363.9 1286.6,363.3 1287.6,362.6 1288.6,362 1289.6,361.4 1290.6,360.8 1291.6,360.2 1292.6,359.6 1293.6,359.1 1294.6,358.6 1295.6,358.2 1296,358.1 1296.6,357.9 1297.6,357.5 1298.6,357.2 1299.6,356.8 1300.6,356.5 1301.6,356.3 1302.6,356.1 1303.6,355.9 1304.6,355.9 1304.6,355.9 1305.6,356 1306.6,356.1 1307.6,356.3 1308.6,356.6 1309.6,356.9 1310.6,357.2 1311.6,357.6 1312.6,357.9 1313.1,358.1 1313.6,358.3 1314.6,358.7 1315.6,359.2 1316.6,359.7 1317.6,360.3 1318.6,360.9 1319.6,361.4 1320.6,362 1321.6,362.6 1322.6,363.1 1323.6,363.5 1323.8,363.6 1324.6,363.9 1325.6,364.3 1326.6,364.8 1327.6,365.2 1328.6,365.6 1329.6,365.9 1330.6,366.3 1331.6,366.6 1332.6,366.8 1333.6,367.1 1334.5,367.2 1334.6,367.2 1335.6,367.3 1336.6,367.5 1337.6,367.6 1338.6,367.7 1339.6,367.8 1340.6,367.8 1341.6,367.9 1342.6,367.9 1343,367.9 1343.6,367.9 1344.6,367.8 1345.6,367.6 1346.6,367.3 1347.6,367 1348.6,366.5 1349.6,366.1 1350.6,365.6 1351.6,365.1 1352.6,364.6 1353.6,364.1 1353.7,364 1354.6,363.5 1355.6,362.9 1356.6,362.2 1357.6,361.4 1358.6,360.6 1359.6,359.7 1360.6,358.7 1361.6,357.7 1362.6,356.6 1363.6,355.4 1364.4,354.4 1364.6,354.2 1365.6,352.8 1366.6,351.2 1367.6,349.5 1368.6,347.5 1369.6,345.5 1370.6,343.3 1370.8,342.7 1371.6,340.9 1372.6,338.3 1373.5,335.3 1374.5,332 1374.5,331.8 1375.5,327.3 1376.5,322.2 1377.2,319.2 1377.5,317.9 1378.5,314.6 1379.5,311.1 1379.8,310 1380.5,306 1381.4,300 1381.5,298.9 1382.5,289.7 1383.5,278.9 1384.5,267.5 1384.6,266.8 1385.5,256.2 1386.5,244.4 1387.5,231.9 1388.3,221.5 1388.5,218.2 1389.5,202.8 1390.5,186.1 1391.1,176.1 1391.5,168.1 1392.5,148 1393.4,130.7 1393.5,128.2 1394.5,108.8 1395.5,90.9 1395.9,85.4 1396.5,77 1397.5,66.1 1397.8,64 1398.5,59.2 1399.5,55.3 1399.6,55.3 1400.5,58.3 1400.8,60 1401.5,74.9 1401.9,85.4 1402.5,102.1 1403.5,130.7 1403.5,131.3 1404.5,161.8 1405,176.1 1405.5,190.2 1406.5,216.4 1406.7,221.5 1407.5,246.1 1408.2,266.8 1408.5,275.7 1409.5,302.9 1409.8,310 1410.5,327.3 1411.3,342.7 1411.5,345.5 1412.5,356.2 1413.4,364 1413.5,365 1414.5,373.3 1415.5,380.5 1415.6,381.1 1416.5,386.4 1417.5,391.5 1417.8,393 1418.5,396.5 1419.5,401 1419.9,402.5 1420.5,404.5 1421.5,407.3 1422.5,409.8 1423,411 1423.5,412.1 1424.5,414.3 1425.5,416.3 1426.3,417.4 1426.5,417.6 1427.5,418.7 1428.5,419.6 1429.5,420.5 1430.5,421.2 1431.5,421.9 1432.5,422.5 1433.5,423.1 1434.5,423.6 1434.8,423.8 1435.5,424.2 1436.5,424.7 1437.5,425.2 1438.5,425.7 1439.5,426.2 1440.5,426.6 1441.5,427 1442.5,427.4 1443.5,427.7 1444.5,427.9 1445.5,428.1 1445.5,428.1 1446.5,428.2 1447.5,428.3 1448.5,428.4 1449.5,428.6 1450.5,428.6 1451.5,428.7 1452.5,428.8 1453.5,428.9 1454.5,429 1455.5,429 1456.5,429.1 1457.5,429.2 1458.5,429.2 1459.5,429.3 1460.5,429.3 1461.5,429.4 1462.5,429.4 1463.5,429.5 1464.5,429.5 1465.5,429.5 1466.5,429.6 1466.8,429.6 1467.5,429.6 1468.5,429.7 1469.5,429.7 1470.5,429.7 1471.5,429.8 1472.5,429.8 1473.4,429.9 1474.4,429.9 1475.4,429.9 1476.4,430 1477.4,430 1478.4,430 1479.4,430 1480.4,430.1 1481.4,430.1 1482.4,430.1 1483.4,430.1 1484.4,430.2 1485.4,430.2 1486.4,430.2 1487.4,430.3 1488.4,430.3 1489.4,430.3 1490.4,430.3 1491.4,430.4 1492.4,430.4 1493.4,430.4 1494.4,430.5 1495.4,430.5 1496.4,430.5 1497.4,430.6 1498.4,430.6 1498.8,430.6 1499.4,430.6 1500.4,430.7 1501.4,430.7 1502.4,430.7 1503.4,430.8 1504.4,430.8 1505.4,430.9 1506.4,430.9 1507.4,430.9 1508.4,431 1509.4,431 1510.4,431.1 1511.4,431.1 1512.4,431.2 1513.4,431.2 1514.4,431.3 1515.4,431.3 1516.4,431.4 1517.4,431.4 1518.4,431.5 1519.4,431.5 1520.4,431.6 1521.4,431.6 1522.4,431.6 1523.4,431.7"/>
</g>
<path d="M956.4,23V479.6H1524.6M956.4,479.6H953M956.4,449.2H949M956.4,418.7H953M956.4,388.3H949M956.4,357.8H953M956.4,327.4H949M956.4,297H953M956.4,266.5H949M956.4,236.1H953M956.4,205.6H949M956.4,175.2H953M956.4,144.8H949M956.4,114.3H953M956.4,83.9H949M956.4,53.4H953M956.4,23H949M956.4,479.6V487M997,479.6V483M1037.6,479.6V487M1078.2,479.6V483M1118.7,479.6V487M1159.3,479.6V483M1199.9,479.6V487M1240.5,479.6V483M1281.1,479.6V487M1321.7,479.6V483M1362.3,479.6V487M1402.8,479.6V483M1443.4,479.6V487M1484,479.6V483M1524.6,479.6V487" stroke="#000" stroke-width="2.2" fill="none" stroke-linecap="square"/>
<g font-family='"Liberation Serif", "Times New Roman", serif' font-size="28.2" fill="#000">
<text x="939.6" y="456.8" text-anchor="end">10000</text>
<text x="939.6" y="395.9" text-anchor="end">20000</text>
<text x="939.6" y="335" text-anchor="end">30000</text>
<text x="939.6" y="274.1" text-anchor="end">40000</text>
<text x="939.6" y="213.2" text-anchor="end">50000</text>
<text x="939.6" y="152.4" text-anchor="end">60000</text>
<text x="939.6" y="91.5" text-anchor="end">70000</text>
<text x="939.6" y="30.6" text-anchor="end">80000</text>
<text x="956.4" y="515.2" text-anchor="middle">880</text>
<text x="1037.6" y="515.2" text-anchor="middle">875</text>
<text x="1118.7" y="515.2" text-anchor="middle">870</text>
<text x="1199.9" y="515.2" text-anchor="middle">865</text>
<text x="1281.1" y="515.2" text-anchor="middle">860</text>
<text x="1362.3" y="515.2" text-anchor="middle">855</text>
<text x="1443.4" y="515.2" text-anchor="middle">850</text>
<text x="1524.6" y="515.2" text-anchor="middle">845</text>
</g>
<text x="1240.5" y="566.4" text-anchor="middle" font-family='"Liberation Serif", "Times New Roman", serif' font-weight="bold" font-size="32.3">Binding Energy (eV)</text>
<text transform="translate(857.7,251.3) rotate(-90)" text-anchor="middle" font-family='"Liberation Serif", "Times New Roman", serif' font-weight="bold" font-size="32">Intensity (CPS)</text>
<text x="812.1" y="29.8" font-family='"Liberation Serif", "Times New Roman", serif' font-weight="bold" font-size="41.5">(b)</text>
<line x1="1011" y1="52.1" x2="1080" y2="52.1" stroke="#000" stroke-width="2.2"/>
<text x="1086.5" y="61.8" font-family='"Liberation Serif", "Times New Roman", serif' font-size="30.3" fill="#000">Experimental</text>
<line x1="1011" y1="95.7" x2="1080" y2="95.7" stroke="#101090" stroke-width="2.2"/>
<text x="1086.5" y="105.4" font-family='"Liberation Serif", "Times New Roman", serif' font-size="30.3" fill="#000">Ni 2p<tspan font-size="21" dy="8">3/2</tspan><tspan dy="-8"> </tspan>met</text>
<line x1="1011" y1="140.4" x2="1080" y2="140.4" stroke="#20e8f0" stroke-width="2.2"/>
<text x="1086.5" y="150.1" font-family='"Liberation Serif", "Times New Roman", serif' font-size="30.3" fill="#000">Ni 2p<tspan font-size="21" dy="8">3/2</tspan><tspan dy="-8"> </tspan>met satellite</text>
<line x1="1011" y1="183.7" x2="1080" y2="183.7" stroke="#7a7a7a" stroke-width="2.2"/>
<text x="1086.5" y="193.4" font-family='"Liberation Serif", "Times New Roman", serif' font-size="30.3" fill="#000">Background</text>
<line x1="1011" y1="226.8" x2="1080" y2="226.8" stroke="#f01010" stroke-width="2.2"/>
<text x="1086.5" y="236.5" font-family='"Liberation Serif", "Times New Roman", serif' font-size="30.3" fill="#000">Fit</text>
<g fill="none" stroke-linejoin="round" stroke-linecap="butt">
<polyline stroke="#777777" stroke-width="2.0" points="154.9,997.4 155.9,997.4 156.9,997.4 157.9,997.5 158.9,997.5 159.9,997.5 160.9,997.6 161.9,997.6 162.9,997.6 163.9,997.7 164.9,997.7 165.9,997.7 166.9,997.8 167.9,997.8 168.9,997.8 169.9,997.9 170.9,997.9 171.9,998 172.9,998 173.9,998.1 174.9,998.1 175.9,998.1 176.9,998.2 177.9,998.2 178.9,998.3 179.9,998.3 180.9,998.4 181.9,998.4 182.9,998.5 183.9,998.5 184.9,998.6 185.9,998.6 186.9,998.7 187.9,998.8 188.8,998.8 188.9,998.8 189.9,998.9 190.9,998.9 191.9,999 192.9,999 193.9,999.1 194.9,999.2 195.9,999.2 196.9,999.3 197.9,999.4 198.9,999.5 199.9,999.5 200.9,999.6 201.9,999.7 202.9,999.8 203.9,999.9 204.9,999.9 205.9,1000 206.9,1000.1 207.9,1000.2 208.9,1000.3 209.9,1000.4 210.9,1000.4 211.9,1000.5 212.9,1000.6 213.9,1000.7 214.9,1000.8 215.9,1000.9 216.9,1001 217.9,1001.1 218.9,1001.2 219.9,1001.2 220.9,1001.3 221.9,1001.4 222.9,1001.5 223.9,1001.6 224.9,1001.7 225.9,1001.8 226.9,1001.8 227.6,1001.9 227.9,1001.9 228.9,1002 229.9,1002.1 230.9,1002.2 231.9,1002.3 232.9,1002.3 233.9,1002.4 234.9,1002.5 235.9,1002.6 236.9,1002.7 237.9,1002.8 238.9,1002.8 239.9,1002.9 240.9,1003 241.9,1003.1 242.9,1003.2 243.9,1003.3 244.9,1003.4 245.9,1003.4 246.9,1003.5 247.9,1003.6 248.9,1003.7 249.9,1003.8 250.9,1003.9 251.9,1004 252.9,1004 253.9,1004.1 254.9,1004.2 255.9,1004.3 256.9,1004.4 257.9,1004.5 258.9,1004.6 259.9,1004.6 260.9,1004.7 261.9,1004.8 262.9,1004.9 263.9,1005 264.9,1005.1 265.9,1005.2 266.4,1005.2 266.9,1005.2 267.9,1005.3 268.9,1005.4 269.9,1005.5 270.9,1005.6 271.9,1005.7 272.9,1005.8 273.9,1005.8 274.9,1005.9 275.9,1006 276.9,1006.1 277.9,1006.2 278.9,1006.3 279.9,1006.3 280.9,1006.4 281.9,1006.5 282.9,1006.6 283.9,1006.7 284.9,1006.8 285.9,1006.9 286.9,1006.9 287.9,1007 288.9,1007.1 289.9,1007.2 290.9,1007.3 291.9,1007.4 292.9,1007.4 293.9,1007.5 294.9,1007.6 295.9,1007.7 297,1007.8 298,1007.9 299,1008 300,1008 301,1008.1 302,1008.2 303,1008.3 304,1008.4 305,1008.5 305.2,1008.5 306,1008.6 307,1008.7 308,1008.7 309,1008.8 310,1008.9 311,1009 312,1009.1 313,1009.2 314,1009.3 315,1009.4 316,1009.4 317,1009.5 318,1009.6 319,1009.7 320,1009.8 321,1009.9 322,1010 323,1010.1 324,1010.2 325,1010.2 326,1010.3 327,1010.4 328,1010.5 329,1010.6 330,1010.7 331,1010.8 332,1010.9 333,1011 334,1011.1 335,1011.2 336,1011.2 337,1011.3 338,1011.4 339,1011.5 340,1011.6 341,1011.7 342,1011.8 343,1011.9 344,1012 344.1,1012 345,1012.1 346,1012.2 347,1012.3 348,1012.4 349,1012.5 350,1012.5 351,1012.6 352,1012.7 353,1012.8 354,1012.9 355,1013 356,1013.1 357,1013.2 358,1013.3 359,1013.4 360,1013.5 361,1013.6 362,1013.7 363,1013.8 364,1013.9 365,1014 366,1014.1 367,1014.2 368,1014.3 369,1014.3 370,1014.4 371,1014.5 372,1014.6 373,1014.7 374,1014.9 375,1015 376,1015.1 377,1015.2 378,1015.3 379,1015.4 380,1015.5 381,1015.6 382,1015.7 382.9,1015.8 383,1015.8 384,1015.9 385,1016 386,1016.1 387,1016.2 388,1016.4 389,1016.5 390,1016.6 391,1016.7 392,1016.8 393,1016.9 394,1017 395,1017.2 396,1017.3 397,1017.4 398,1017.6 399,1017.7 400,1017.8 401,1018 402,1018.1 402.3,1018.2 403,1018.3 404,1018.5 405,1018.7 406,1018.9 407,1019.1 408,1019.3 409,1019.5 410,1019.8 411,1020 412,1020.3 412,1020.3 413,1020.6 414,1020.9 415,1021.2 416,1021.5 417,1021.8 418,1022.2 419,1022.5 420,1022.9 421,1023.3 421.7,1023.6 422,1023.7 423,1024.2 424,1024.6 425,1025.1 426,1025.6 427,1026.1 428,1026.7 429,1027.2 430,1027.8 431,1028.3 431.4,1028.5 432,1028.8 433,1029.4 434,1029.9 435,1030.5 436,1031 436,1031 437,1031.5 438,1032.1 439,1032.6 440,1033.1 441,1033.6 441.1,1033.7 442,1034.2 443,1034.8 444,1035.4 445,1035.9 445,1035.9 446,1036.3 447,1036.7 448,1037 449,1037.3 449.4,1037.4 450,1037.6 451,1037.9 452,1038.1 453,1038.4 454,1038.6 454,1038.6 455,1038.8 456,1039 457,1039.2 458,1039.3 459,1039.5 459.1,1039.5 460,1039.6 461,1039.8 462,1039.9 463,1040.1 464,1040.2 465,1040.3 466,1040.5 467,1040.6 468,1040.7 469,1040.9 470,1041 470,1041 471,1041.1 472,1041.3 473,1041.4 474,1041.5 475,1041.7 476,1041.8 477,1041.9 478,1042.1 479,1042.2 480,1042.3 481,1042.4 482,1042.6 483,1042.7 484,1042.8 485,1043 486,1043.1 487,1043.2 488,1043.4 488.2,1043.4 489,1043.5 490,1043.6 491,1043.8 492,1043.9 493,1044 494,1044.2 495,1044.3 496,1044.4 497,1044.6 498,1044.7 499,1044.8 500,1045 501,1045.1 502,1045.2 503,1045.4 504,1045.5 505,1045.7 506,1045.8 507,1045.9 508,1046.1 509,1046.2 510,1046.3 511,1046.5 512,1046.6 513,1046.8 514,1046.9 515,1047 516,1047.2 517,1047.3 518,1047.5 519,1047.6 520,1047.8 521,1047.9 522,1048 523,1048.2 524,1048.3 525,1048.5 526,1048.7 527,1048.8 527,1048.8 528,1049 529,1049.1 530,1049.3 531,1049.4 532,1049.6 533,1049.7 534,1049.9 535,1050.1 536,1050.2 537,1050.4 538,1050.6 539,1050.7 540,1050.9 541,1051.1 542,1051.2 543,1051.4 544,1051.6 545,1051.7 546,1051.9 547,1052.1 548,1052.3 549,1052.4 550,1052.6 551,1052.8 552,1053 553,1053.2 554,1053.3 555,1053.5 556,1053.7 557,1053.9 558,1054.1 559,1054.3 560,1054.5 561,1054.7 562,1054.9 563,1055 564,1055.2 565,1055.4 565.8,1055.6 566,1055.6 567,1055.9 568,1056.1 569,1056.3 570,1056.5 571,1056.7 572,1056.9 573,1057.1 574,1057.4 575,1057.6 576,1057.8 577,1058.1 578,1058.3 579,1058.5 580.1,1058.8 581.1,1059 582,1059.3 582.1,1059.3 583.1,1059.6 584.1,1059.9 585.1,1060.1 586.1,1060.4 587.1,1060.7 588.1,1061 589.1,1061.3 590.1,1061.6 591.1,1062 592.1,1062.3 593.1,1062.7 594.1,1063 595,1063.4 595.1,1063.4 596.1,1063.8 597.1,1064.3 598.1,1064.7 599.1,1065.2 600.1,1065.7 601.1,1066.3 602,1066.8 602.1,1066.8 603.1,1067.5 604.1,1068.2 605.1,1068.9 606.1,1069.7 607.1,1070.5 608.1,1071.3 608.5,1071.6 609.1,1072 610.1,1072.7 611.1,1073.4 612.1,1074.2 612.5,1074.5 613.1,1074.9 614.1,1075.8 615.1,1076.6 616.1,1077.6 616.3,1077.8 617.1,1078.6 618.1,1079.7 619.1,1080.9 620.1,1082.2 620.5,1082.8 621.1,1083.6 622.1,1085.2 623.1,1086.9 624,1088.5 624.1,1088.6 625.1,1090.3 626.1,1092.1 627.1,1093.6 628,1094.8 628.1,1094.9 629.1,1095.8 630.1,1096.6 631.1,1097.3 632,1097.8 632.1,1097.8 633.1,1098.2 634.1,1098.6 635.1,1098.8 636,1099 636.1,1099 637.1,1099.1 638.1,1099.2 639.1,1099.3 640.1,1099.4 641.1,1099.4 642.1,1099.5 643.1,1099.5 644.1,1099.6 645.1,1099.6 645.9,1099.7 646.1,1099.7 647.1,1099.8 648.1,1099.9 649.1,1099.9 650.1,1100 651.1,1100.1 652.1,1100.2 653.1,1100.3 654.1,1100.4 655.1,1100.4 656.1,1100.5 657.1,1100.6 658.1,1100.7 659.1,1100.8 660.1,1100.9 661.1,1101 661.4,1101 662.1,1101.1 663.1,1101.2 664.1,1101.3 665.1,1101.4 666.1,1101.5 667.1,1101.6 668.1,1101.7 669.1,1101.8 670.1,1101.9 671.1,1102 672.1,1102.1 673.1,1102.2 674.1,1102.3 675.1,1102.4 676.1,1102.5 676.9,1102.5 677.1,1102.5 678.1,1102.6 679.1,1102.6 680.1,1102.7 681.1,1102.7 682.1,1102.7 683.1,1102.8 684.1,1102.8 685.1,1102.8 686.1,1102.9 687.1,1102.9 688.1,1102.9 689.1,1103 690.1,1103 691.1,1103 692.1,1103 693.1,1103.1 694.1,1103.1 695.1,1103.1 696.1,1103.2 697.1,1103.2 698.1,1103.2 699.1,1103.3 700,1103.3 700.1,1103.3 701.1,1103.3 702.1,1103.4 703.1,1103.4 704.1,1103.5 705.1,1103.5 706.1,1103.5 707.1,1103.6 708.1,1103.6 709.1,1103.7 710.1,1103.7 711.1,1103.8 712.1,1103.8 713.1,1103.8 714.1,1103.9 715.1,1103.9 716.1,1104 717.1,1104 718.1,1104.1 719.1,1104.1 720.1,1104.2 721.1,1104.2"/>
<polyline stroke="#000000" stroke-width="2.0" points="154.9,997.1 156.2,997.3 157.5,998.2 158.8,997.6 160.1,996.4 161.4,997.2 162.7,996.9 164,997.2 165.3,996.3 166.6,997.2 167.9,997.2 169.2,997.8 169.4,997.2 170.5,997.2 171.8,996.2 173.1,998 174.4,995.9 175.7,997.4 177,996.6 178.3,996.3 179.6,996.4 180.9,996.4 182.2,996.8 183.5,996.6 184.8,997.3 186.1,995.6 187.4,996.5 188.7,996 188.8,996.8 190,995.3 191.3,996.1 192.6,996.2 193.9,995.3 195.2,996.4 196.5,995.8 197.8,996.1 199.1,995.9 200.4,994.8 201.7,994.7 203,994.9 204.3,995.2 205.6,995.1 206.9,994.2 208.2,994.2 208.2,994.1 209.5,994.1 210.8,994.2 212.1,994.2 213.4,995.2 214.7,993.9 216,993.9 217.3,994.2 218.6,993.5 219.9,993.7 221.2,993.8 222.5,994.2 223.8,993 225.1,994.3 226.4,993.4 227.6,993.6 227.7,993.9 229,993.7 230.3,993.9 231.6,993.3 232.9,993.2 234.2,993.2 235.5,992.5 236.8,993.5 238.1,992.4 239.4,992.1 240.7,993.7 242,992.5 243.3,991.9 244.6,993.3 245.9,992.1 247,992.7 247.2,991.8 248.5,992 249.8,991.2 251.1,991 252.4,991.3 253.7,991.7 255,992 256.3,992.8 257.6,990.9 258.9,991.9 260.2,991 261.5,991.1 262.8,990.4 264.1,990.3 265.4,990.6 266.4,990.4 266.7,991 268,990.6 269.3,991.5 270.6,990.9 271.9,990.9 273.2,991.4 274.5,991 275.8,990.7 277.1,990.7 278.4,990.6 279.7,991.2 281,991 282.3,990.8 283.6,991 284.9,990.3 285.8,990.9 286.2,989.9 287.5,991.3 288.8,990.7 290.1,990.7 291.4,991 292.7,990.7 294,990.6 295.3,991.3 296.7,990.8 298,990.3 299.3,991.1 300.6,990 301.9,991.7 303.2,990.9 304.5,991 305.2,992.1 305.8,992.1 307.1,991.1 308.4,991.4 309.7,991.7 311,992 312.3,991.2 313.6,991.4 314.9,992 316.2,991.5 317.5,991.8 318.8,991.8 320.1,991 321.4,991.1 322.7,990.3 324,991.5 324.7,992.3 325.3,991 326.6,992.2 327.9,992.1 329.2,991.5 330.5,991.5 331.8,991.4 333.1,990.9 334.4,991.1 335.7,991.1 337,991.4 338.3,991.4 339.6,990.5 340.9,991.2 342.2,990.3 343.5,990.6 344.1,990.8 344.8,990.5 346.1,990.4 347.4,990.5 348.7,990 350,989.9 351.3,990 352.6,990.5 353.9,989.8 355.2,990.7 356.5,989.8 357.8,988.1 359.1,989.2 360.4,990.2 361.7,989.3 363,988.9 363.5,988.7 364.3,989.7 365.6,989.4 366.9,989.2 368.2,989 369.5,989.4 370.8,989 372.1,987.8 373.2,988.7 373.4,988.4 374.7,988 376,988.2 377.3,987.5 378.6,985.7 379.9,987.5 381.2,986.9 382.5,985.9 382.9,985.6 383.8,985.6 385.1,984.4 386.4,984.8 387.7,984 389,983.4 390.3,982.6 391.6,982.1 392.6,982.5 392.9,982.4 394.2,981.3 395.5,980.2 396.8,979 398.1,978.8 399.4,978.3 400.7,975.7 402,976 402.3,974 403.3,974 404.6,973 405.9,970.6 407,969.2 407.2,969.9 408.5,968.6 409.8,966.3 411.1,965.4 412,963 412.4,963.7 413.7,960.6 415,958.1 416,956.3 416.3,955.6 417.6,953.6 418.9,950.9 419.7,948.2 420.2,946.6 421.5,942.4 422.8,938.6 422.8,939 424.1,934.4 425.4,929.3 425.6,928.5 426.7,924.2 428,917.5 428.5,915.5 429.3,913 430.6,907.1 431.4,903 431.9,901.9 433.2,895.7 433.5,894.9 434.5,890.8 435.3,890.1 435.8,888.7 437,887.5 437.1,887.3 438.4,885.9 438.6,885.9 439.7,887.1 440.5,887.4 441,888.4 442.1,891.6 442.3,892.7 443.6,897.7 444,900 444.9,903.2 446,909.7 446.2,910 447.5,919.1 447.5,918.9 448.8,931.3 449.4,936.3 450.1,942.5 451.3,954 451.4,954.8 452.7,964.4 453.2,967.9 454,973 455.2,982.3 455.3,981.6 456.6,988.7 457,989.4 457.9,993.5 459.1,998.3 459.2,998.7 460.5,1002.4 461.8,1004.1 462,1005.3 463.1,1007.9 464.4,1008.9 464.9,1010.5 465.7,1010.6 467,1012.6 468.3,1013.8 469,1015.1 469.6,1014.4 470.9,1015.8 472.2,1017.1 473.5,1016.7 474.6,1017.8 474.8,1017.5 476.1,1018 477.4,1019.1 478.7,1019.5 480,1020.7 481,1020.3 481.3,1020.3 482.6,1019.9 483.9,1020 485.2,1020.4 486.5,1019.4 487.8,1021.5 488.2,1020.4 489.1,1020.3 490.4,1020.7 491.7,1021.4 493,1021.7 494.3,1020.9 495.6,1021.4 496.9,1021.2 497.9,1020.7 498.2,1021.3 499.5,1021.2 500.8,1020.3 502.1,1021.5 503.4,1020 504.7,1020.7 506,1019.8 507,1019.8 507.3,1019.8 508.6,1020.3 509.9,1019.1 511.2,1019.4 512.5,1020 513.8,1018.6 515.1,1018.6 516.4,1018.7 517.3,1017.9 517.7,1018.4 519,1017.5 520.3,1017.9 521.6,1017.3 522.9,1016.6 524.2,1017.5 525.5,1016.4 526.8,1016 528.1,1015.4 529.4,1015.4 530.7,1015.3 532,1015.2 533.3,1015.4 534.6,1014 535.9,1014.3 536.7,1014.9 537.2,1014.3 538.5,1014.3 539.8,1014.7 541.1,1013.9 542.4,1013.8 543.7,1013.4 545,1014.1 545.2,1013.7 546.3,1012.6 547.6,1013 548.9,1011.8 550.2,1012.5 550.3,1012.2 551.5,1011.1 552.8,1009.8 554.1,1007.9 555.4,1008.2 555.5,1007.7 556.7,1007.1 558,1007.2 559.3,1006.1 560.6,1005.8 561.9,1005.4 563.2,1004.5 563.3,1006.4 564.5,1004.5 565.8,1003.6 567.1,1003.3 568.4,1000.4 569,1001.6 569.7,1001.1 571,999.7 572.3,999.4 573.6,997.2 573.6,998.2 574.9,997.5 576.2,994.8 577.6,994.1 578.8,993.7 578.9,993.7 580.2,992.4 581.5,991.9 582.8,990.8 584,989 584.1,989.5 585.4,987.8 586.7,986.2 588,984.4 588.1,985.9 589.3,982.9 590.6,980.5 590.7,978.5 591.9,976.5 593.2,974 593.3,973.4 594.5,971.1 595.8,967.7 595.9,967 597.1,963.3 598.4,960.5 598.5,961.5 599.7,957.6 600.5,955.1 601,952.4 602.1,947.6 602.3,946.5 603.4,940.1 603.6,938.9 604.9,929.6 605.2,927.6 606.2,918.9 607.5,909.1 608.3,900.8 608.8,898 610.1,884.8 610.9,876.3 611.4,871.2 612.7,855.9 613,851.1 614,839.8 615.3,825.7 615.3,826.1 616.6,815.1 617.9,805.3 618.4,800.7 619.2,793.2 620.5,777 620.6,775.9 621.8,758 622.2,749.6 623.1,738.5 624.1,726.2 624.4,722.2 625.2,716.2 625.7,712.3 626,712.1 626.9,715.8 627,716.6 627.6,724.7 628.3,735.8 628.9,750.1 629.6,775 630.1,800.4 630.9,844.5 631,850.6 632.2,896.3 632.3,901.8 633.5,949.7 633.5,952 634.7,989.6 634.8,991.7 635.5,1015.2 636.1,1027.1 636.6,1036.1 637.4,1050 637.9,1056.6 638.7,1065.5 639.7,1072.3 640,1074.8 641.3,1081.8 641.7,1082.4 642.6,1086.7 643.9,1091 644.3,1090.6 645.2,1092.6 646.5,1093.9 647.8,1095.4 648.5,1096 649.1,1096.3 650.4,1098 651.7,1099 653,1099.4 653.6,1100.4 654.3,1100.5 655.6,1100.9 656.9,1100.6 658.2,1102.3 658.8,1102.1 659.5,1100.5 660.8,1101.3 662.1,1101.8 663.4,1102.7 664.7,1102.9 666,1102.3 666.6,1102.6 667.3,1102.9 668.6,1102 669.9,1103 671.2,1102.7 672.5,1103 673.8,1102.9 675.1,1102.4 676.4,1102.6 677.7,1103.2 679,1103.2 680,1103.1 680.3,1103.7 681.6,1103.1 682.9,1102.7 684.2,1103.1 685.5,1103.2 686.8,1103.2 688.1,1103.9 689.4,1103.6 690.7,1103.9 692,1103.7 692,1103.3 693.3,1103.9 694.6,1103.3 695.9,1103.6 697.2,1103 698.5,1103.6 699.8,1103.5 701.1,1103.9 702.4,1104.6 703.7,1105 705,1104.3 706.3,1103.9 707.6,1104.3 708.9,1104.1 710.2,1103.7 711.4,1104.1 711.5,1104 712.8,1103.9 714.1,1104.9 715.4,1104.1 716.7,1104.2 718,1104.9"/>
</g>
<path d="M154.8,661.3V1117.8H721.8M154.8,1117.8H147.4M154.8,1082.7H151.4M154.8,1047.6H147.4M154.8,1012.5H151.4M154.8,977.3H147.4M154.8,942.2H151.4M154.8,907.1H147.4M154.8,872H151.4M154.8,836.9H147.4M154.8,801.8H151.4M154.8,766.6H147.4M154.8,731.5H151.4M154.8,696.4H147.4M154.8,661.3H151.4M154.8,1117.8V1125.2M190.2,1117.8V1121.2M225.7,1117.8V1125.2M261.1,1117.8V1121.2M296.6,1117.8V1125.2M332,1117.8V1121.2M367.4,1117.8V1125.2M402.9,1117.8V1121.2M438.3,1117.8V1125.2M473.7,1117.8V1121.2M509.2,1117.8V1125.2M544.6,1117.8V1121.2M580,1117.8V1125.2M615.5,1117.8V1121.2M650.9,1117.8V1125.2M686.4,1117.8V1121.2M721.8,1117.8V1125.2" stroke="#000" stroke-width="2.2" fill="none" stroke-linecap="square"/>
<g font-family='"Liberation Serif", "Times New Roman", serif' font-size="28.2" fill="#000">
<text x="138" y="1125.4" text-anchor="end">0</text>
<text x="138" y="1055.2" text-anchor="end">5000</text>
<text x="138" y="984.9" text-anchor="end">10000</text>
<text x="138" y="914.7" text-anchor="end">15000</text>
<text x="138" y="844.5" text-anchor="end">20000</text>
<text x="138" y="774.2" text-anchor="end">25000</text>
<text x="138" y="704" text-anchor="end">30000</text>
<text x="154.8" y="1153.4" text-anchor="middle">740</text>
<text x="225.7" y="1153.4" text-anchor="middle">735</text>
<text x="296.6" y="1153.4" text-anchor="middle">730</text>
<text x="367.4" y="1153.4" text-anchor="middle">725</text>
<text x="438.3" y="1153.4" text-anchor="middle">720</text>
<text x="509.2" y="1153.4" text-anchor="middle">715</text>
<text x="580" y="1153.4" text-anchor="middle">710</text>
<text x="650.9" y="1153.4" text-anchor="middle">705</text>
<text x="721.8" y="1153.4" text-anchor="middle">700</text>
</g>
<text x="438.3" y="1204.6" text-anchor="middle" font-family='"Liberation Serif", "Times New Roman", serif' font-weight="bold" font-size="32.3">Binding Energy (eV)</text>
<text transform="translate(56.1,889.5) rotate(-90)" text-anchor="middle" font-family='"Liberation Serif", "Times New Roman", serif' font-weight="bold" font-size="32">Intensity (CPS)</text>
<text x="8" y="670.7" font-family='"Liberation Serif", "Times New Roman", serif' font-weight="bold" font-size="41.5">(c)</text>
<line x1="228.6" y1="725.7" x2="296.5" y2="725.7" stroke="#000" stroke-width="2.2"/>
<text x="303" y="735.4" font-family='"Liberation Serif", "Times New Roman", serif' font-size="30.3" fill="#000">Experimental Fe 2p</text>
<line x1="228.6" y1="764" x2="296.5" y2="764" stroke="#7a7a7a" stroke-width="2.2"/>
<text x="303" y="773.7" font-family='"Liberation Serif", "Times New Roman", serif' font-size="30.3" fill="#000">Background</text>
<g fill="none" stroke-linejoin="round" stroke-linecap="butt">
<polyline stroke="#000000" stroke-width="2.2" points="957.4,1052.9 958.6,1052.6 959.8,1053.1 961,1053.4 962.2,1053.7 963.4,1053.1 964.6,1052.8 965.8,1052.6 967,1053.3 968.2,1053.7 969.4,1053 970.6,1052.3 971.8,1052.4 973,1053.6 974.2,1052.9 975.4,1051.9 976.6,1052.7 977.8,1052.2 979,1052.4 980.2,1052.5 981.4,1052.4 982.6,1053 983.8,1052.7 985,1052.4 986.2,1052.9 987.4,1053.1 988.6,1051.9 988.8,1052.6 989.8,1052.2 991,1052.6 992.2,1052.1 993.4,1052.7 994.6,1052.7 995.8,1052.6 997,1052.3 998.2,1052.6 999.4,1052.3 1000.6,1052.2 1001.8,1053.1 1003,1052.4 1004.2,1053.6 1005.4,1053.4 1006.6,1052.1 1007.8,1053.3 1009,1052.7 1010.2,1053.3 1011.4,1053.4 1012.6,1052.4 1013.8,1053.3 1015,1053.4 1016.2,1054.1 1017.4,1053 1018.6,1054.1 1019.8,1053.2 1021,1053.6 1022.2,1053.4 1023.4,1054.6 1024.6,1054.3 1025.8,1055.2 1027,1054.4 1027.6,1054.5 1028.2,1054.5 1029.4,1053.9 1030.6,1054.2 1031.8,1055 1033,1054.1 1034.2,1054.5 1035.4,1054.4 1036.6,1054.8 1037.8,1054.4 1039,1054.5 1040.2,1054.8 1041.4,1054.8 1042.6,1054.4 1043.8,1055.3 1045,1054.3 1046.2,1054.4 1047.4,1054.4 1048.6,1055.6 1049.8,1055 1051,1054.8 1052.1,1054.7 1053.3,1055.6 1054.5,1054.9 1055.7,1054.9 1056.9,1055.9 1058.1,1055 1059.3,1055.5 1060.5,1055.7 1061.7,1055.6 1062.9,1055.8 1064.1,1056.6 1065.3,1055.7 1066.4,1055.4 1066.5,1055.1 1067.7,1056 1068.9,1055.9 1070.1,1056.3 1071.3,1056 1072.5,1056.1 1073.7,1056 1074.9,1056.2 1076.1,1056.6 1077.3,1056.4 1078.5,1056.7 1079.7,1057.6 1080.9,1057 1082.1,1056 1083.3,1057.8 1084.5,1057.1 1085.7,1056.5 1086.9,1057.5 1088.1,1057.1 1089.3,1056.9 1090.5,1056.9 1091.7,1056.8 1092.9,1057.4 1094.1,1057.9 1095.3,1057.3 1096.5,1057.7 1097.7,1058.4 1098.9,1056.9 1100.1,1057.7 1101.3,1057.4 1102.5,1057.1 1103.7,1057.1 1104.9,1057.6 1105.2,1057.8 1106.1,1057.3 1107.3,1057.6 1108.5,1058 1109.7,1057.7 1110.9,1058 1112.1,1057.8 1113.3,1057.8 1114.5,1058.5 1115.7,1057.9 1116.9,1057.7 1118.1,1058 1119.3,1057.1 1120.5,1057.4 1121.7,1058 1122.9,1057.9 1124.1,1058.4 1125.3,1057.6 1126.5,1056.9 1127.7,1058.6 1128.9,1058.1 1130.1,1057.1 1131.3,1058.3 1132.5,1057.6 1133.7,1056.7 1134.9,1057.4 1136.1,1057.3 1137.3,1058.4 1138.5,1057.2 1139.7,1057.5 1140.9,1057.5 1142.1,1057.4 1143.3,1057.1 1144.1,1057.7 1144.5,1058.1 1145.7,1057.9 1146.9,1057.1 1148.1,1057 1149.3,1057.6 1150.5,1057.2 1151.7,1057.2 1152.9,1056.7 1154.1,1058.5 1155.3,1057.9 1156.5,1056.9 1157.7,1057.9 1158.9,1058 1160.1,1056.1 1161.3,1057 1162.5,1057 1163.7,1057.5 1164.9,1057.1 1166.1,1057 1167.3,1057 1168.5,1057.9 1169.7,1058 1170.9,1056.6 1172.1,1056.4 1173.3,1058.1 1174.5,1056.2 1175.7,1056.3 1176.9,1056.6 1178.1,1056.7 1179.3,1056.9 1180.5,1056.5 1181.7,1055.8 1182.9,1056.5 1182.9,1056.3 1184.1,1057.1 1185.3,1056 1186.5,1055.2 1187.7,1055.2 1188.9,1056.3 1190.1,1055.2 1191.3,1054.2 1192.5,1054.8 1193.7,1054.9 1194.9,1055.2 1196.1,1053.9 1197.3,1054.6 1198.5,1054.4 1199.7,1053.4 1200.9,1053.5 1202.1,1054.2 1202.3,1054.2 1203.3,1053.6 1204.5,1053.1 1205.7,1053.2 1206.9,1052.4 1208.1,1052.2 1209.3,1051.5 1210.5,1051.7 1211.7,1051.4 1212.9,1052.6 1214.1,1050.8 1215.3,1051.2 1216.5,1050.9 1217.7,1049.9 1218.9,1050.2 1220.1,1048.2 1221.3,1049 1221.7,1049.2 1222.5,1047.4 1223.7,1047.5 1224.9,1048.2 1226.1,1047 1227.3,1046.1 1228.5,1045.9 1229.7,1045.2 1230,1045.7 1230.9,1045.1 1232.1,1044.1 1233.3,1043.3 1234.5,1042.9 1235.7,1042.9 1236.9,1041.7 1238.1,1041.1 1239.2,1040 1240.4,1038.6 1241.6,1038.1 1241.6,1038.8 1242.8,1037.7 1244,1036.3 1245.2,1035.1 1246.4,1035 1247.6,1033.7 1248,1033.3 1248.8,1032.5 1250,1031.4 1251.2,1029.9 1252.4,1028.6 1253.3,1027.4 1253.6,1027.1 1254.8,1025.1 1256,1022.7 1257.2,1020.8 1258.4,1018.9 1258.5,1018.3 1259.6,1016.3 1260.8,1013.7 1262,1009.6 1263,1006.6 1263.2,1007.5 1264.4,1003.7 1265.6,1000.5 1266,998.3 1266.8,997 1268,991.9 1268.8,988 1269.2,985.7 1270.4,978.8 1271.2,973.9 1271.6,971.3 1272.8,963.7 1274,957.6 1274,956.8 1275.2,949.1 1276.4,941.1 1276.9,936.8 1277.6,933.4 1278.8,925 1279.9,918.1 1280,917.4 1281.2,909.1 1282.4,903.4 1282.4,902.5 1283.6,897.5 1284.7,894.1 1284.8,894.2 1286,891.6 1287.2,889 1287.2,888.5 1288.4,888.7 1289.6,887.2 1289.6,888.3 1290.8,890.4 1292,895.2 1292,895.3 1293.2,902.5 1294.4,910.9 1294.4,910.5 1295.6,920.5 1296.8,931.3 1296.9,930.9 1298,941 1299.2,951.9 1299.3,952.4 1300.4,960.3 1301.6,967.3 1302.8,974.3 1302.8,975.4 1304,982.5 1305.2,991.9 1305.7,996.8 1306.4,1000.7 1307.6,1007.2 1308.6,1012.2 1308.8,1013.9 1310,1019.1 1311.2,1024 1311.5,1024.4 1312.4,1028 1313.6,1031.1 1314.8,1034.1 1315.3,1035.1 1316,1036.9 1317.2,1039 1318.4,1041.6 1319.3,1041.7 1319.6,1042.7 1320.8,1045.1 1322,1045.5 1323.2,1047.1 1323.8,1047.6 1324.4,1048.1 1325.6,1048.7 1326.8,1048.4 1328,1049.6 1329,1050 1329.2,1049.5 1330.4,1050.5 1331.6,1050.5 1332.8,1050.7 1334,1051.8 1334.5,1051.8 1335.2,1051.5 1336.4,1051.5 1337.6,1051.7 1338.8,1051.9 1340,1051.9 1340.6,1052.1 1341.2,1051.9 1342.4,1052.1 1343.6,1051.9 1344.8,1051.5 1346,1050.6 1347,1050.3 1347.2,1050.8 1348.4,1050.1 1349.6,1049.8 1350.8,1048.2 1352,1047.7 1353.2,1048.8 1354.2,1048.4 1354.4,1048.8 1355.6,1047.9 1356.8,1047 1358,1046.2 1359.2,1044.7 1360,1045.2 1360.4,1044.2 1361.6,1043.8 1362.8,1042.6 1364,1041.5 1365.2,1040.6 1365.8,1039.3 1366.4,1038.7 1367.6,1037 1368.8,1035.7 1370,1035 1370.8,1032.8 1371.2,1033 1372.4,1031.1 1373.6,1029.1 1374.8,1026.9 1375.5,1024.5 1376,1024.1 1377.2,1021.5 1378.4,1016.6 1379.5,1013 1379.6,1012.4 1380.8,1008.1 1382,1001.9 1383.2,997.3 1383.3,995.6 1384.4,989 1385.6,983 1386.2,978.5 1386.8,974.5 1388,966.1 1389.1,956.8 1389.2,956.3 1390.4,944.9 1391,938.5 1391.6,932.9 1392.8,920.7 1393,918 1394,906.7 1395,895.6 1395.2,894.1 1396.4,883.5 1396.7,879.8 1397.6,863.3 1398.2,848.4 1398.8,837.1 1400,813.4 1400.4,805.8 1401.2,791.6 1402.4,770.7 1402.8,763.2 1403.6,753.8 1404.8,738.5 1405.5,732.2 1406,728.4 1407.2,722.7 1407.8,722.3 1408.4,721.8 1409.6,729.1 1410,732.3 1410.8,738.8 1412,756.8 1412.4,763.8 1413.2,781.9 1414.1,806.3 1414.4,812 1415.6,839.4 1416,848.4 1416.8,864.7 1417.5,879.4 1418,890 1419.2,917.7 1419.2,918.7 1420.4,937.9 1420.6,942.4 1421.6,957.6 1422.1,966.8 1422.8,975.4 1424,991.6 1424,991.8 1425.2,1006 1426,1015.2 1426.4,1019.1 1427.5,1026.7 1428.7,1034.4 1428.8,1035.5 1429.9,1041.4 1431.1,1048.5 1431.8,1050.3 1432.3,1052 1433.5,1055.5 1434.7,1058.9 1435.5,1059.8 1435.9,1060.6 1437.1,1062.5 1438.3,1063.4 1439.5,1065.2 1439.6,1066.4 1440.7,1067.2 1441.9,1067.9 1443.1,1068.8 1444,1068.7 1444.3,1069.4 1445.5,1069.4 1446.7,1070.7 1447.9,1070.7 1449.1,1071.3 1449.3,1071.7 1450.3,1071.6 1451.5,1072.5 1452.7,1072.6 1453.9,1072.8 1455,1073.5 1455.1,1072.1 1456.3,1072.2 1457.5,1073.4 1458.7,1073.7 1459.9,1074.3 1461.1,1073.8 1462.3,1073.9 1462.9,1073.1 1463.5,1073.9 1464.7,1073.9 1465.9,1073.1 1467.1,1073.2 1468.3,1073.6 1469.5,1073.8 1470.7,1072.2 1471.9,1073.8 1473.1,1073.9 1474.3,1073.7 1475.5,1073.9 1476.7,1074 1477.9,1073.3 1479.1,1074.1 1480.3,1073.7 1481.5,1073.4 1482.7,1074 1483.9,1074.7 1485.1,1073.2 1486.3,1073.1 1487.5,1073.1 1488.7,1075 1489.9,1073.9 1490,1074 1491.1,1073.6 1492.3,1073.6 1493.5,1073 1494.7,1074.2 1495.9,1074.2 1497.1,1073.1 1498.3,1073.6 1499.5,1073.8 1500.7,1074.1 1501.9,1074.3 1503.1,1074.8 1504.3,1074.9 1505.5,1074.8 1506.7,1074.9 1507.9,1073.7 1509.1,1074 1510.3,1074.9 1511.5,1074.4 1512.7,1074.3 1513.9,1073.3 1515.1,1073.4 1516.3,1074.7 1517.5,1074.5 1518.7,1074.2 1519.9,1074.2 1521.1,1073.5"/>
<polyline stroke="#1515e6" stroke-width="2.0" points="1085.8,1057.8 1086.8,1057.8 1087.8,1057.8 1088.8,1057.8 1089.8,1057.8 1090.8,1057.8 1091.8,1057.8 1092.8,1057.8 1093.8,1057.8 1094.8,1057.9 1095.8,1057.9 1096.8,1057.9 1097.8,1057.9 1098.8,1057.9 1099.8,1057.9 1100.8,1057.9 1101.8,1057.9 1102.8,1057.9 1103.8,1057.9 1104.8,1057.9 1105.8,1057.9 1106.8,1057.9 1107.8,1057.9 1108.8,1057.9 1109.8,1057.9 1110.8,1057.9 1111.8,1057.9 1112.8,1057.9 1113.8,1057.9 1114.8,1057.9 1115.8,1057.9 1116.8,1058 1117.8,1058 1118.8,1058 1119.8,1058 1120.8,1058 1121.8,1058 1122.8,1058 1123.8,1058 1124.8,1058 1125.8,1058 1126.8,1058 1127.8,1058 1128.8,1058 1129.8,1058 1130.8,1058 1131.8,1058 1132.8,1058 1133.8,1058 1134.8,1058 1135.8,1058 1136.8,1058 1137.8,1058 1138.8,1058 1139.8,1058 1140.8,1058 1141.8,1058 1142.8,1058 1143.8,1058 1144.8,1058 1145.8,1058 1146.8,1058 1147.8,1058 1148.8,1058 1149.8,1058 1150,1058 1150.8,1058 1151.8,1058 1152.8,1058 1153.8,1058 1154.8,1058 1155.8,1058 1156.8,1058 1157.8,1058 1158.9,1058 1159.9,1058 1160.9,1058 1161.9,1058 1162.9,1058 1163.9,1058 1164.9,1058 1165.9,1058 1166.9,1058 1167.9,1057.9 1168.9,1057.9 1169.9,1057.9 1170.9,1057.9 1171.9,1057.9 1172.9,1057.9 1173.9,1057.9 1174.9,1057.9 1175.9,1057.9 1176.9,1057.9 1177.9,1057.9 1178.9,1057.9 1179.9,1057.9 1180.9,1057.9 1181.9,1057.9 1182.9,1057.9 1183.9,1057.8 1184.9,1057.8 1185.9,1057.8 1186.9,1057.8 1187.9,1057.8 1188.9,1057.8 1189.9,1057.8 1190.9,1057.8 1191.9,1057.8 1192.9,1057.8 1193.9,1057.8 1194.9,1057.8 1195.9,1057.8 1196.9,1057.7 1197.9,1057.7 1198.9,1057.7 1199.9,1057.7 1200.9,1057.7 1201.9,1057.7 1202.9,1057.7 1203.9,1057.7 1204.9,1057.7 1205.9,1057.7 1206.9,1057.7 1207.9,1057.7 1208.9,1057.7 1209.9,1057.7 1210.9,1057.7 1211.9,1057.7 1212.9,1057.6 1213.9,1057.6 1214.9,1057.6 1215.9,1057.6 1216.9,1057.6 1217.9,1057.6 1218.9,1057.6 1219.9,1057.6 1220.9,1057.6 1221.9,1057.6 1222.9,1057.6 1223.9,1057.6 1224.9,1057.6 1225.9,1057.6 1226.9,1057.6 1227.9,1057.6 1228.9,1057.6 1229.9,1057.6 1230,1057.6 1230.9,1057.6 1231.9,1057.6 1232.9,1057.6 1233.9,1057.6 1234.9,1057.6 1235.9,1057.6 1236.9,1057.6 1237.9,1057.6 1238.9,1057.6 1239.9,1057.7 1240.9,1057.7 1241.9,1057.7 1242.9,1057.7 1243.9,1057.7 1244.9,1057.7 1245.9,1057.7 1246.9,1057.8 1247.9,1057.8 1248.9,1057.8 1249.9,1057.8 1250.9,1057.9 1251.9,1057.9 1252.9,1057.9 1253.9,1057.9 1254.9,1058 1255.9,1058 1256.9,1058 1257.9,1058.1 1258.9,1058.1 1259.9,1058.1 1260.9,1058.2 1261.9,1058.2 1262.9,1058.2 1263.9,1058.3 1264.9,1058.3 1264.9,1058.3 1265.9,1058.4 1266.9,1058.4 1267.9,1058.5 1268.9,1058.6 1269.9,1058.8 1270.9,1058.9 1271.9,1059.1 1272.9,1059.2 1273.9,1059.4 1274.9,1059.5 1275.9,1059.7 1276.9,1059.8 1277.9,1060 1278,1060 1278.9,1060.1 1279.9,1060.3 1280.9,1060.5 1281.9,1060.7 1282.9,1060.8 1283.9,1061 1284.9,1061.2 1285.9,1061.3 1286.9,1061.5 1287.9,1061.6 1288.2,1061.6 1288.9,1061.7 1289.9,1061.8 1290.9,1061.9 1291.9,1062 1292.9,1062 1293.9,1062.1 1294.9,1062.2 1295.9,1062.3 1296.9,1062.3 1297.9,1062.4 1298.9,1062.4 1299.9,1062.4 1300,1062.4 1300.9,1062.4 1301.9,1062.4 1302.9,1062.4 1304,1062.3 1305,1062.3 1306,1062.3 1307,1062.2 1307.6,1062.2 1308,1062.2 1309,1062.1 1310,1062.1 1311,1062.1 1312,1062 1313,1061.9 1314,1061.9 1315,1061.8 1316,1061.7 1317,1061.7 1318,1061.6 1318,1061.6 1319,1061.5 1320,1061.4 1321,1061.3 1322,1061.2 1323,1061.1 1324,1061 1325,1060.9 1326,1060.7 1327,1060.6 1327,1060.6 1328,1060.5 1329,1060.3 1330,1060.2 1331,1060 1332,1059.8 1333,1059.6 1334,1059.4 1334,1059.4 1335,1059.2 1336,1058.9 1337,1058.6 1338,1058.3 1339,1058 1340,1057.6 1340.6,1057.4 1341,1057.3 1342,1056.9 1343,1056.5 1344,1056.1 1345,1055.7 1346,1055.3 1347,1054.8 1347,1054.8 1348,1054.3 1349,1053.9 1350,1053.4 1351,1052.8 1352,1052.3 1353,1051.7 1354,1051.1 1354.2,1051 1355,1050.5 1356,1049.8 1357,1049.1 1358,1048.4 1359,1047.6 1360,1046.8 1360,1046.8 1361,1046 1362,1045.1 1363,1044.1 1364,1043.1 1365,1042 1365.8,1041 1366,1040.8 1367,1039.4 1368,1037.8 1369,1036.1 1370,1034.4 1370.8,1033 1371,1032.7 1372,1031.1 1373,1029.6 1374,1027.9 1375,1026 1375.5,1025 1376,1023.8 1377,1021.2 1378,1018.1 1379,1014.8 1379.5,1013 1380,1011.1 1381,1007 1382,1002.3 1383,997.3 1383.3,995.8 1384,991.9 1385,985.8 1386,979.3 1386.2,978 1387,972.6 1388,965.6 1389,957.8 1389.1,957 1390,948.3 1391,938 1391,937.9 1392,928.2 1393,918.2 1393,918.1 1394,906.3 1395,895 1395,894.9 1396,886.8 1396.7,880 1397,875 1398,852 1398.2,848 1399,831.9 1400,813 1400.4,806 1401,794.5 1402,776.4 1402.8,764 1403,760.9 1404,747.1 1405,735.8 1405.5,732 1406,728.6 1407,723.2 1407.8,721.6 1408,721.8 1409,725.6 1410,732 1410,732.2 1411,742.4 1412,757.5 1412.4,764 1413,777.9 1414,804.2 1414.1,806 1415,826.9 1416,848 1416,848.6 1417,869.9 1417.5,880 1418,892.1 1419,914.8 1419.2,918.2 1420,932.7 1420.6,942 1421,949.3 1422,965.7 1422.1,966.7 1423,979.7 1424,992 1424,992.4 1425,1004.9 1426,1015.2 1426,1015.5 1427,1023.6 1428,1030.3 1428.8,1035 1429,1036.4 1430,1042.1 1431,1047.2 1431.8,1050.2 1432,1051 1433,1054 1434,1056.5 1435,1058.6 1435.5,1059.5 1436,1060.5 1437,1062.2 1438,1063.8 1439,1065.1 1439.6,1065.7 1440,1066.1 1441,1067 1442,1067.8 1443,1068.4 1444,1069 1444,1069 1445,1069.6 1446,1070.1 1447,1070.6 1448,1071.1 1449.1,1071.4 1449.3,1071.5 1450.1,1071.7 1451.1,1072 1452.1,1072.3 1453.1,1072.5 1454.1,1072.7 1455,1072.8 1455.1,1072.8 1456.1,1072.9 1457.1,1073.1 1458.1,1073.2 1459.1,1073.3 1460.1,1073.3 1461.1,1073.4 1462.1,1073.5 1462.9,1073.5 1463.1,1073.5 1464.1,1073.5 1465.1,1073.6 1466.1,1073.6 1467.1,1073.6 1468.1,1073.7 1469.1,1073.7 1470.1,1073.7 1471.1,1073.7 1472.1,1073.7 1473.1,1073.8 1474.1,1073.8 1475.1,1073.8 1476.1,1073.8 1477.1,1073.8 1478.1,1073.8 1479.1,1073.9 1480.1,1073.9 1481.1,1073.9 1482.1,1073.9 1483.1,1073.9 1484.1,1073.9 1485.1,1073.9 1486.1,1073.9 1487.1,1074 1488.1,1074 1489.1,1074 1490,1074 1490.1,1074 1491.1,1074 1492.1,1074 1493.1,1074 1494.1,1074.1 1495.1,1074.1 1496.1,1074.1 1497.1,1074.1 1498.1,1074.1 1499.1,1074.1 1500.1,1074.1 1501.1,1074.2 1502.1,1074.2 1503.1,1074.2 1504.1,1074.2 1505.1,1074.2 1506.1,1074.2 1507.1,1074.2 1508.1,1074.3 1509.1,1074.3 1510.1,1074.3 1511.1,1074.3 1512.1,1074.3 1513.1,1074.3 1514.1,1074.3 1515.1,1074.3 1516.1,1074.3 1517.1,1074.4 1518.1,1074.4 1519.1,1074.4 1520.1,1074.4 1521.1,1074.4"/>
<polyline stroke="#3d8ee8" stroke-width="2.0" points="957.4,1053.3 958.4,1053.3 959.4,1053.2 960.4,1053.2 961.4,1053.1 962.4,1053.1 963.4,1053.1 964.4,1053 965.4,1053 966.4,1053 967.4,1053 968.4,1052.9 969.4,1052.9 970.4,1052.9 971.4,1052.9 972.4,1052.8 973.4,1052.8 974.4,1052.8 975.4,1052.8 976.4,1052.8 977.4,1052.8 978.4,1052.8 979.4,1052.7 980.4,1052.7 981.4,1052.7 982.4,1052.7 983.4,1052.7 984.4,1052.7 985.4,1052.7 986.4,1052.7 987.4,1052.7 988.4,1052.7 988.8,1052.7 989.4,1052.7 990.4,1052.7 991.4,1052.7 992.4,1052.7 993.4,1052.7 994.4,1052.7 995.4,1052.8 996.4,1052.8 997.4,1052.8 998.4,1052.8 999.4,1052.9 1000.4,1052.9 1001.4,1052.9 1002.4,1053 1003.4,1053 1004.4,1053 1005.4,1053.1 1006.4,1053.1 1007.4,1053.2 1008.4,1053.2 1009.4,1053.3 1010.4,1053.3 1011.4,1053.3 1012.4,1053.4 1013.4,1053.4 1014.4,1053.5 1015.4,1053.5 1016.4,1053.6 1017.4,1053.6 1018.4,1053.7 1019.4,1053.7 1020.4,1053.8 1021.4,1053.8 1022.4,1053.9 1023.4,1053.9 1024.4,1054 1025.4,1054 1026.4,1054 1027.4,1054.1 1027.6,1054.1 1028.4,1054.1 1029.4,1054.2 1030.4,1054.2 1031.4,1054.3 1032.4,1054.3 1033.4,1054.4 1034.4,1054.4 1035.4,1054.4 1036.4,1054.5 1037.4,1054.5 1038.4,1054.6 1039.4,1054.6 1040.4,1054.7 1041.4,1054.7 1042.4,1054.8 1043.4,1054.8 1044.4,1054.9 1045.4,1054.9 1046.4,1055 1047.4,1055.1 1048.4,1055.1 1049.4,1055.2 1050.4,1055.2 1051.3,1055.3 1052.3,1055.3 1053.3,1055.4 1054.3,1055.4 1055.3,1055.5 1056.3,1055.5 1057.3,1055.6 1058.3,1055.6 1059.3,1055.7 1060.3,1055.7 1061.3,1055.8 1062.3,1055.8 1063.3,1055.9 1064.3,1055.9 1065.3,1056 1066.3,1056 1066.4,1056 1067.3,1056 1068.3,1056.1 1069.3,1056.1 1070.3,1056.2 1071.3,1056.2 1072.3,1056.3 1073.3,1056.3 1074.3,1056.4 1075.3,1056.5 1076.3,1056.5 1077.3,1056.6 1078.3,1056.6 1079.3,1056.7 1080.3,1056.7 1081.3,1056.8 1082.3,1056.8 1083.3,1056.9 1084.3,1056.9 1085.3,1057 1086.3,1057 1087.3,1057.1 1088.3,1057.1 1089.3,1057.2 1090.3,1057.2 1091.3,1057.3 1092.3,1057.3 1093.3,1057.4 1094.3,1057.4 1095.3,1057.4 1096.3,1057.5 1097.3,1057.5 1098.3,1057.5 1099.3,1057.5 1100.3,1057.6 1101.3,1057.6 1102.3,1057.6 1103.3,1057.6 1104.3,1057.6 1105.2,1057.6 1105.3,1057.6 1106.3,1057.6 1107.3,1057.6 1108.3,1057.6 1109.3,1057.6 1110.3,1057.6 1111.3,1057.6 1112.3,1057.6 1113.3,1057.6 1114.3,1057.6 1115.3,1057.6 1116.3,1057.6 1117.3,1057.6 1118.3,1057.6 1119.3,1057.6 1120.3,1057.6 1121.3,1057.6 1122.3,1057.6 1123.3,1057.6 1124.3,1057.6 1125.3,1057.6 1126.3,1057.6 1127.3,1057.6 1128.3,1057.6 1129.3,1057.6 1130.3,1057.6 1131.3,1057.6 1132.3,1057.6 1133.3,1057.6 1134.3,1057.6 1135.3,1057.6 1136.3,1057.6 1137.3,1057.6 1138.3,1057.6 1139.3,1057.6 1140.3,1057.6 1141.3,1057.6 1142.3,1057.6 1143.3,1057.6 1144.1,1057.6 1144.3,1057.6 1145.3,1057.6 1146.3,1057.6 1147.3,1057.6 1148.3,1057.6 1149.3,1057.6 1150.3,1057.6 1151.3,1057.5 1152.3,1057.5 1153.3,1057.5 1154.3,1057.5 1155.3,1057.5 1156.3,1057.4 1157.3,1057.4 1158.3,1057.4 1159.3,1057.3 1160.3,1057.3 1161.3,1057.3 1162.3,1057.2 1163.3,1057.2 1164.3,1057.2 1165.3,1057.1 1166.3,1057.1 1167.3,1057 1168.3,1057 1169.3,1057 1170.3,1056.9 1171.3,1056.9 1172.3,1056.8 1173.3,1056.8 1174.3,1056.7 1175.3,1056.6 1176.3,1056.6 1177.3,1056.5 1178.3,1056.5 1179.3,1056.4 1180.3,1056.4 1181.3,1056.3 1182.3,1056.2 1182.9,1056.2 1183.3,1056.2 1184.3,1056.1 1185.3,1056 1186.3,1055.9 1187.3,1055.8 1188.3,1055.7 1189.3,1055.5 1190.3,1055.4 1191.3,1055.3 1192.3,1055.1 1193.3,1054.9 1194.3,1054.8 1195.3,1054.6 1196.3,1054.4 1197.3,1054.2 1198.3,1054 1199.3,1053.9 1200.3,1053.7 1201.3,1053.5 1202.3,1053.3 1202.3,1053.3 1203.3,1053.1 1204.3,1052.9 1205.3,1052.7 1206.3,1052.6 1207.3,1052.4 1208.3,1052.2 1209.3,1052 1210.3,1051.7 1211.3,1051.5 1212.3,1051.3 1213.3,1051.1 1214.3,1050.8 1215.3,1050.6 1216.3,1050.3 1217.3,1050.1 1218.3,1049.8 1219.3,1049.5 1220.3,1049.2 1221.3,1048.9 1221.7,1048.8 1222.3,1048.6 1223.3,1048.3 1224.3,1047.9 1225.3,1047.5 1226.3,1047.1 1227.3,1046.6 1228.3,1046.1 1229.3,1045.7 1230,1045.3 1230.3,1045.2 1231.3,1044.7 1232.3,1044.2 1233.3,1043.6 1234.3,1043.1 1235.3,1042.5 1236.3,1041.9 1237.3,1041.3 1238.3,1040.7 1239.2,1040.1 1240.2,1039.4 1241.2,1038.7 1241.6,1038.5 1242.2,1038.1 1243.2,1037.4 1244.2,1036.6 1245.2,1035.9 1246.2,1035.1 1247.2,1034.2 1248,1033.5 1248.2,1033.3 1249.2,1032.2 1250.2,1031 1251.2,1029.7 1252.2,1028.4 1253.2,1027 1253.3,1026.9 1254.2,1025.6 1255.2,1024.1 1256.2,1022.5 1257.2,1020.8 1258.2,1019 1258.5,1018.5 1259.2,1017 1260.2,1014.6 1261.2,1012.1 1262.2,1009.5 1263,1007.5 1263.2,1006.9 1264.2,1004.2 1265.2,1001.4 1266,999 1266.2,998.2 1267.2,994.5 1268.2,990.5 1268.8,988.1 1269.2,986.2 1270.2,981.8 1271.2,976.9 1271.8,974 1272.2,971.6 1273.2,965.6 1274.2,959.3 1274.6,957 1275.2,953 1276.2,946.4 1277.2,939.8 1277.5,938 1278.2,933.2 1279.2,926.5 1280.2,919.9 1280.5,918.2 1281.2,913.5 1282.2,907.3 1283,903 1283.2,901.9 1284.2,897 1285.2,893.2 1285.3,893 1286.2,890.6 1287.2,888.6 1287.8,887.8 1288.2,887.4 1289.2,886.5 1290.2,886.2 1290.2,886.2 1291.2,888.1 1292.2,892.3 1292.6,894 1293.2,897.4 1294.2,904.5 1295,910.5 1295.2,912.2 1296.2,920.1 1297.2,928.6 1297.5,931 1298.2,937.6 1299.2,947.1 1299.9,953.1 1300.2,955.7 1301.2,963.4 1302.2,970.7 1302.8,975 1303.2,978.1 1304.2,985.5 1305.2,992.6 1305.7,995.8 1306.2,999 1307.2,1004.7 1308.2,1010 1308.6,1012 1309.2,1015 1310.2,1019.6 1311.2,1023.9 1311.5,1025 1312.2,1027.7 1313.2,1031 1313.4,1031.5 1314.2,1033.5 1315.2,1035.7 1316.2,1037.6 1317.2,1039.3 1318,1040.5 1318.2,1040.8 1319.2,1042.1 1320.2,1043.2 1321.2,1044.2 1322,1045 1322.2,1045.2 1323.2,1046.1 1324.2,1047 1325.2,1047.8 1326.2,1048.6 1327,1049.2 1327.2,1049.4 1328.2,1050.1 1329.2,1050.9 1330.2,1051.7 1331.2,1052.4 1332.2,1053.1 1333,1053.6 1333.2,1053.7 1334.2,1054.3 1335.2,1054.9 1336.2,1055.4 1337.2,1055.9 1338.2,1056.4 1339.2,1056.9 1340.2,1057.4 1340.6,1057.6 1341.2,1057.9 1342.2,1058.4 1343.2,1058.8 1344.2,1059.3 1345.2,1059.8 1346.2,1060.2 1347.2,1060.5 1348,1060.8 1348.2,1060.9 1349.2,1061.1 1350.2,1061.4 1351.2,1061.6 1352.2,1061.9 1353.2,1062.1 1354.2,1062.3 1355.2,1062.5 1356.1,1062.6 1356.2,1062.6 1357.2,1062.8 1358.2,1062.9 1359.2,1063 1360.2,1063.1 1361.2,1063.3 1362.2,1063.4 1363.2,1063.5 1364.2,1063.5 1365,1063.6 1365.2,1063.6 1366.2,1063.7 1367.2,1063.7 1368.2,1063.8 1369.2,1063.8 1370.2,1063.8 1371.2,1063.9 1372.2,1063.9 1373.2,1064 1374.2,1064 1375.2,1064.1 1375.5,1064.1 1376.2,1064.2 1377.2,1064.3 1378.2,1064.5 1379.2,1064.8 1380.2,1065.1 1381.2,1065.4 1382.2,1065.7 1383.2,1066 1384.2,1066.2 1385.2,1066.5 1385.2,1066.5 1386.2,1066.7 1387.2,1067 1388.2,1067.2 1389.2,1067.4 1390.2,1067.7 1391.2,1067.9 1392.2,1068.1 1393,1068.3 1393.2,1068.3 1394.2,1068.6 1395.2,1068.8 1396.2,1069 1397.2,1069.2 1398.2,1069.4 1399.2,1069.6 1400.2,1069.8 1400.8,1070 1401.2,1070.1 1402.2,1070.4 1403.2,1070.7 1404.2,1071.1 1405.2,1071.4 1406.2,1071.8 1407,1072 1407.2,1072 1408.2,1072.3 1409.2,1072.6 1410.2,1072.8 1411.2,1073 1412.2,1073.2 1413.2,1073.4 1414.2,1073.5 1414.4,1073.5 1415.2,1073.5 1416.2,1073.6 1417.2,1073.6 1418.2,1073.7 1419.2,1073.7 1420.2,1073.7 1421.2,1073.8 1422.2,1073.8 1423.2,1073.8 1424.2,1073.8 1425.2,1073.8 1426.2,1073.9 1427.1,1073.9 1428.1,1073.9 1429.1,1073.9 1430,1073.9 1430.1,1073.9 1431.1,1073.9 1432.1,1073.9 1433.1,1073.9 1434.1,1073.9 1435.1,1073.9 1436.1,1073.9 1437.1,1073.9 1438.1,1073.9 1439.1,1073.9 1440.1,1073.9 1441.1,1073.9 1442.1,1073.9 1443.1,1074 1444.1,1074 1445.1,1074 1446.1,1074 1447.1,1074 1448.1,1074 1449.1,1074 1450.1,1074 1451.1,1074 1452.1,1074 1453.1,1074 1454.1,1074 1455.1,1074 1456.1,1074 1457.1,1074 1458.1,1074 1459.1,1074 1460.1,1074 1461.1,1074 1462.1,1074 1462.9,1074 1463.1,1074 1464.1,1074 1465.1,1074 1466.1,1074 1467.1,1074 1468.1,1074 1469.1,1074 1470.1,1074 1471.1,1074 1472.1,1074 1473.1,1074 1474.1,1074.1 1475.1,1074.1 1476.1,1074.1 1477.1,1074.1 1478.1,1074.1 1479.1,1074.1 1480.1,1074.1 1481.1,1074.1 1482.1,1074.1 1483.1,1074.1 1484.1,1074.1 1485.1,1074.1 1486.1,1074.1 1487.1,1074.1 1488.1,1074.1 1489.1,1074.1 1490.1,1074.1 1491.1,1074.2 1492.1,1074.2 1493.1,1074.2 1494.1,1074.2 1495.1,1074.2 1496.1,1074.2 1497.1,1074.2 1498.1,1074.2 1499.1,1074.2 1500.1,1074.2 1501.1,1074.2 1502.1,1074.2 1503.1,1074.2 1504.1,1074.3 1505.1,1074.3 1506.1,1074.3 1507.1,1074.3 1508.1,1074.3 1509.1,1074.3 1510.1,1074.3 1511.1,1074.3 1512.1,1074.3 1513.1,1074.3 1514.1,1074.3 1515.1,1074.3 1516.1,1074.4 1517.1,1074.4 1518.1,1074.4 1519.1,1074.4 1520.1,1074.4 1521.1,1074.4"/>
<polyline stroke="#777777" stroke-width="2.0" points="1085.8,1058 1086.8,1058 1087.8,1058 1088.8,1058 1089.8,1058 1090.8,1058 1091.8,1058 1092.8,1058 1093.8,1058 1094.8,1058 1095.8,1058.1 1096.8,1058.1 1097.8,1058.1 1098.8,1058.1 1099.8,1058.1 1100.8,1058.1 1101.8,1058.1 1102.8,1058.1 1103.8,1058.1 1104.8,1058.1 1105.8,1058.1 1106.8,1058.1 1107.8,1058.1 1108.8,1058.1 1109.8,1058.1 1110.8,1058.1 1111.8,1058.1 1112.8,1058.1 1113.8,1058.1 1114.8,1058.1 1115.8,1058.1 1116.8,1058.1 1117.8,1058.1 1118.8,1058.1 1119.8,1058.2 1120.8,1058.2 1121.8,1058.2 1122.8,1058.2 1123.8,1058.2 1124.8,1058.2 1125.8,1058.2 1126.8,1058.2 1127.8,1058.2 1128.8,1058.2 1129.8,1058.2 1130.8,1058.2 1131.8,1058.2 1132.8,1058.2 1133.8,1058.2 1134.8,1058.2 1135.8,1058.2 1136.8,1058.2 1137.8,1058.2 1138.8,1058.2 1139.8,1058.2 1140.8,1058.2 1141.8,1058.2 1142.8,1058.2 1143.8,1058.2 1144.8,1058.2 1145.8,1058.2 1146.8,1058.2 1147.8,1058.2 1148.8,1058.2 1149.8,1058.2 1150,1058.2 1150.8,1058.2 1151.8,1058.2 1152.8,1058.2 1153.8,1058.2 1154.8,1058.2 1155.8,1058.2 1156.8,1058.2 1157.8,1058.2 1158.9,1058.2 1159.9,1058.2 1160.9,1058.2 1161.9,1058.2 1162.9,1058.2 1163.9,1058.2 1164.9,1058.2 1165.9,1058.2 1166.9,1058.2 1167.9,1058.2 1168.9,1058.2 1169.9,1058.2 1170.9,1058.2 1171.9,1058.2 1172.9,1058.2 1173.9,1058.2 1174.9,1058.2 1175.9,1058.2 1176.9,1058.1 1177.9,1058.1 1178.9,1058.1 1179.9,1058.1 1180.9,1058.1 1181.9,1058.1 1182.9,1058.1 1183.9,1058.1 1184.9,1058.1 1185.9,1058.1 1186.9,1058.1 1187.9,1058.1 1188.9,1058.1 1189.9,1058.1 1190.9,1058.1 1191.9,1058.1 1192.9,1058.1 1193.9,1058.1 1194.9,1058.1 1195.9,1058.1 1196.9,1058.1 1197.9,1058.1 1198.9,1058.1 1199.9,1058.1 1200.9,1058.1 1201.9,1058.1 1202.9,1058.1 1203.9,1058.1 1204.9,1058 1205.9,1058 1206.9,1058 1207.9,1058 1208.9,1058 1209.9,1058 1210.9,1058 1211.9,1058 1212.9,1058 1213.9,1058 1214.9,1058 1215.9,1058 1216.9,1058 1217.9,1058 1218.9,1058 1219.9,1058 1220.9,1058 1221.9,1058 1222.9,1058 1223.9,1058 1224.9,1058 1225.9,1058 1226.9,1058 1227.9,1058 1228.9,1058 1229.9,1058 1230,1058 1230.9,1058 1231.9,1058 1232.9,1058 1233.9,1058 1234.9,1058 1235.9,1058 1236.9,1058 1237.9,1058.1 1238.9,1058.1 1239.9,1058.1 1240.9,1058.1 1241.9,1058.1 1242.9,1058.1 1243.9,1058.2 1244.9,1058.2 1245.9,1058.2 1246.9,1058.2 1247.9,1058.3 1248.9,1058.3 1249.9,1058.3 1250.9,1058.3 1251.9,1058.4 1252.9,1058.4 1253.9,1058.4 1254.9,1058.5 1255.9,1058.5 1256.9,1058.6 1257.9,1058.6 1258.9,1058.6 1259.9,1058.7 1260.9,1058.7 1261.9,1058.8 1262.9,1058.8 1263.9,1058.9 1264.9,1058.9 1264.9,1058.9 1265.9,1059 1266.9,1059 1267.9,1059.1 1268.9,1059.2 1269.9,1059.4 1270.9,1059.5 1271.9,1059.6 1272.9,1059.8 1273.9,1059.9 1274.9,1060.1 1275.9,1060.2 1276.9,1060.4 1277.9,1060.5 1278.9,1060.7 1279.9,1060.8 1280,1060.8 1280.9,1060.9 1281.9,1061.1 1282.9,1061.2 1283.9,1061.4 1284.9,1061.5 1285.9,1061.7 1286.9,1061.9 1287.9,1062 1288.9,1062.2 1289.9,1062.3 1290.9,1062.5 1291.9,1062.6 1292.9,1062.8 1293.9,1062.9 1294.9,1063 1295.9,1063.1 1296.9,1063.1 1297.9,1063.2 1297.9,1063.2 1298.9,1063.2 1299.9,1063.3 1300.9,1063.3 1301.9,1063.4 1302.9,1063.4 1304,1063.5 1305,1063.5 1306,1063.5 1307,1063.6 1308,1063.6 1309,1063.6 1310,1063.7 1311,1063.7 1312,1063.7 1313,1063.7 1314,1063.7 1315,1063.8 1316,1063.8 1317,1063.8 1318,1063.8 1319,1063.8 1320,1063.8 1320,1063.8 1321,1063.8 1322,1063.8 1323,1063.8 1324,1063.8 1325,1063.8 1326,1063.8 1327,1063.8 1328,1063.8 1329,1063.8 1330,1063.8 1331,1063.8 1332,1063.8 1333,1063.8 1334,1063.8 1335,1063.8 1336,1063.8 1337,1063.8 1338,1063.8 1339,1063.8 1340,1063.8 1341,1063.8 1342,1063.8 1343,1063.8 1344,1063.8 1345,1063.8 1346,1063.8 1346.4,1063.8 1347,1063.8 1348,1063.8 1349,1063.8 1350,1063.8 1351,1063.9 1352,1063.9 1353,1063.9 1354,1064 1355,1064 1356,1064.1 1357,1064.1 1358,1064.2 1359,1064.2 1360,1064.3 1361,1064.4 1362,1064.4 1363,1064.5 1364,1064.6 1365,1064.6 1366,1064.7 1367,1064.8 1368,1064.9 1369,1064.9 1370,1065 1370,1065 1371,1065.1 1372,1065.2 1373,1065.2 1374,1065.3 1375,1065.4 1376,1065.5 1377,1065.6 1378,1065.7 1379,1065.9 1380,1066 1381,1066.1 1382,1066.2 1383,1066.4 1384,1066.5 1385,1066.7 1385.2,1066.7 1386,1066.8 1387,1067 1388,1067.2 1389,1067.4 1390,1067.6 1391,1067.9 1392,1068.1 1393,1068.3 1393,1068.3 1394,1068.5 1395,1068.7 1396,1068.9 1397,1069.1 1398,1069.3 1399,1069.6 1400,1069.8 1400.8,1070 1401,1070.1 1402,1070.4 1403,1070.7 1404,1071.1 1405,1071.4 1406,1071.7 1407,1072 1407,1072 1408,1072.3 1409,1072.5 1410,1072.8 1411,1073 1412,1073.2 1413,1073.4 1414,1073.5 1414.4,1073.5 1415,1073.5 1416,1073.6 1417,1073.6 1418,1073.7 1419,1073.7 1420,1073.7 1421,1073.8 1422,1073.8 1423,1073.8 1424,1073.8 1425,1073.8 1426,1073.9 1427,1073.9 1428,1073.9 1429,1073.9 1430,1073.9 1430,1073.9 1431,1073.9 1432,1073.9 1433,1073.9 1434,1073.9 1435,1073.9 1436,1073.9 1437,1073.9 1438,1073.9 1439,1073.9 1440,1073.9 1441,1073.9 1442,1073.9 1443,1074 1444,1074 1445,1074 1446,1074 1447,1074 1448,1074 1449.1,1074 1450.1,1074 1451.1,1074 1452.1,1074 1453.1,1074 1454.1,1074 1455.1,1074 1456.1,1074 1457.1,1074 1458.1,1074 1459.1,1074 1460.1,1074 1461.1,1074 1462.1,1074 1462.9,1074 1463.1,1074 1464.1,1074 1465.1,1074 1466.1,1074 1467.1,1074 1468.1,1074 1469.1,1074 1470.1,1074 1471.1,1074 1472.1,1074 1473.1,1074 1474.1,1074.1 1475.1,1074.1 1476.1,1074.1 1477.1,1074.1 1478.1,1074.1 1479.1,1074.1 1480.1,1074.1 1481.1,1074.1 1482.1,1074.1 1483.1,1074.1 1484.1,1074.1 1485.1,1074.1 1486.1,1074.1 1487.1,1074.1 1488.1,1074.1 1489.1,1074.1 1490.1,1074.1 1491.1,1074.2 1492.1,1074.2 1493.1,1074.2 1494.1,1074.2 1495.1,1074.2 1496.1,1074.2 1497.1,1074.2 1498.1,1074.2 1499.1,1074.2 1500.1,1074.2 1501.1,1074.2 1502.1,1074.2 1503.1,1074.2 1504.1,1074.3 1505.1,1074.3 1506.1,1074.3 1507.1,1074.3 1508.1,1074.3 1509.1,1074.3 1510.1,1074.3 1511.1,1074.3 1512.1,1074.3 1513.1,1074.3 1514.1,1074.3 1515.1,1074.3 1516.1,1074.4 1517.1,1074.4 1518.1,1074.4 1519.1,1074.4 1520.1,1074.4 1521.1,1074.4"/>
<polyline stroke="#ff0000" stroke-width="2.0" points="957.4,1053.8 958.6,1054.1 959.8,1051.9 961,1053.1 962.2,1053.6 963.4,1053.7 964.6,1053.4 965.8,1053.7 967,1053.1 968.2,1053.2 969.4,1053 970.6,1052.3 971.8,1052.4 973,1053 974.2,1052.5 975.4,1053.4 976.6,1053.4 977.8,1053.7 979,1052.7 980.2,1053.4 981.4,1052.3 982.6,1052.3 983.8,1052.8 985,1052.8 986.2,1051.9 987.4,1051.8 988.6,1052.9 988.8,1052.3 989.8,1053.3 991,1052.9 992.2,1052.9 993.4,1052.8 994.6,1053.2 995.8,1052.7 997,1053.3 998.2,1052.6 999.4,1052.8 1000.6,1052.6 1001.8,1053.2 1003,1053 1004.2,1052.6 1005.4,1054.1 1006.6,1052.9 1007.8,1053.1 1009,1053.4 1010.2,1054.2 1011.4,1053.3 1012.6,1053.7 1013.8,1053.5 1015,1052.8 1016.2,1054 1017.4,1054.1 1018.6,1053.6 1019.8,1053.7 1021,1053.1 1022.2,1053.1 1023.4,1053.7 1024.6,1054.3 1025.8,1053.8 1027,1054.2 1027.6,1054.6 1028.2,1054.2 1029.4,1054.5 1030.6,1055 1031.8,1053.7 1033,1054.7 1034.2,1053.4 1035.4,1054.7 1036.6,1054.6 1037.8,1054.3 1039,1054.1 1040.2,1054.7 1041.4,1054.5 1042.6,1054.9 1043.8,1054.4 1045,1055.2 1046.2,1054.5 1047.4,1054.9 1048.6,1054.9 1049.8,1055.8 1051,1054.5 1052.2,1055.1 1053.4,1056 1054.6,1055.1 1055.8,1054.9 1057,1055.7 1058.2,1055.5 1059.4,1056.1 1060.6,1055.3 1061.8,1055.9 1063,1056.2 1064.2,1056.4 1065.4,1055.4 1066.4,1056.7 1066.6,1055.6 1067.8,1055.3 1069,1055.6 1070.2,1056.3 1071.3,1056.1 1072.5,1056.5 1073.7,1056.6 1074.9,1056.6 1076.1,1056.4 1077.3,1057.5 1078.5,1055.5 1079.7,1055.8 1080.9,1056.5 1082.1,1056.2 1083.3,1055.6 1084.5,1056.6 1085.7,1056.6 1086.9,1055.8 1088.1,1057.6 1089.3,1057.8 1090.5,1057.9 1091.7,1057 1092.9,1057.4 1094.1,1056.8 1095.3,1057.5 1096.5,1057.1 1097.7,1057.7 1098.9,1057.4 1100.1,1058.1 1101.3,1058 1102.5,1058.2 1103.7,1056.8 1104.9,1056.7 1105.2,1057.8 1106.1,1057.3 1107.3,1057.8 1108.5,1057.7 1109.7,1057.7 1110.9,1058.1 1112.1,1057.9 1113.3,1057.8 1114.5,1057.2 1115.7,1058.5 1116.9,1057.7 1118.1,1058.2 1119.3,1057.8 1120.5,1058.2 1121.7,1057.7 1122.9,1057.7 1124.1,1057.7 1125.3,1057.2 1126.5,1057.3 1127.7,1057.5 1128.9,1057.5 1130.1,1057.1 1131.3,1058.8 1132.5,1057.1 1133.7,1057.4 1134.9,1058.8 1136.1,1057.3 1137.3,1058 1138.5,1057.9 1139.7,1057.5 1140.9,1056.9 1142.1,1056.8 1143.3,1057.6 1144.1,1057.8 1144.5,1056.5 1145.7,1057.7 1146.9,1057.3 1148.1,1058 1149.3,1057.7 1150.5,1057.1 1151.7,1057.3 1152.9,1057.5 1154.1,1058.1 1155.3,1059 1156.5,1057.6 1157.7,1057.4 1158.9,1057.7 1160.1,1057.3 1161.3,1057.6 1162.5,1057.4 1163.7,1057.2 1164.9,1056.8 1166.1,1057.2 1167.3,1057.5 1168.5,1057 1169.7,1057.7 1170.9,1057.3 1172.1,1056.8 1173.3,1057.6 1174.5,1056.1 1175.7,1057.2 1176.9,1057.5 1178.1,1056.4 1179.3,1056.4 1180.5,1056.9 1181.7,1057 1182.9,1056.5 1202.3,1053.3 1203.3,1053.2 1204.3,1053.1 1205.3,1052.9 1206.3,1052.8 1207.3,1052.6 1208.3,1052.4 1209.3,1052.2 1210.3,1052 1211.3,1051.7 1212.3,1051.5 1213.3,1051.2 1214.3,1051 1215.3,1050.7 1216.3,1050.4 1217.3,1050.1 1218.3,1049.8 1219.3,1049.5 1220.3,1049.2 1221.3,1048.9 1221.7,1048.8 1222.3,1048.6 1223.3,1048.3 1224.3,1047.9 1225.3,1047.5 1226.3,1047 1227.3,1046.6 1228.3,1046.1 1229.3,1045.6 1230,1045.3 1230.3,1045.2 1231.3,1044.7 1232.3,1044.1 1233.3,1043.6 1234.3,1043.1 1235.3,1042.5 1236.3,1041.9 1237.3,1041.3 1238.3,1040.7 1239.3,1040 1240.3,1039.4 1241.3,1038.7 1241.6,1038.5 1242.3,1038 1243.3,1037.3 1244.3,1036.6 1245.3,1035.9 1246.3,1035.1 1247.3,1034.2 1248,1033.5 1248.3,1033.2 1249.3,1032.2 1250.3,1031 1251.3,1029.7 1252.3,1028.3 1253.3,1026.9 1253.3,1026.9 1254.3,1025.5 1255.3,1024 1256.3,1022.5 1257.3,1020.8 1258.3,1019 1258.5,1018.5 1259.3,1016.9 1260.3,1014.6 1261.3,1012.1 1262.3,1009.5 1263,1007.5 1263.3,1006.8 1264.3,1004.1 1265.3,1001.3 1266,999 1266.3,998.1 1267.3,994.4 1268.3,990.4 1268.8,988.1 1269.3,986.1 1270.3,981.6 1271.3,976.8 1271.8,974 1272.3,971.5 1273.3,965.5 1274.3,959.2 1274.6,957 1275.3,952.8 1276.3,946.3 1277.3,939.6 1277.5,938 1278.3,933 1279.3,926.3 1280.3,919.8 1280.5,918.2 1281.3,913.4 1282.2,907.1 1283,903 1283.2,901.7 1284.2,896.9 1285.2,893.1 1285.3,893 1286.2,890.5 1287.2,888.5 1287.8,887.8 1288.2,887.4 1289.2,886.5 1290.2,886.2 1290.2,886.2 1291.2,888.2 1292.2,892.4 1292.6,894 1293.2,897.5 1294.2,904.7 1295,910.5 1295.2,912.3 1296.2,920.3 1297.2,928.8 1297.5,931 1298.2,937.8 1299.2,947.3 1299.9,953.1 1300.2,955.9 1301.2,963.6 1302.2,970.9 1302.8,975 1303.2,978.2 1304.2,985.7 1305.2,992.8 1305.7,995.8 1306.2,999.1 1307.2,1004.8 1308.2,1010.2 1308.6,1012 1309.2,1015.1 1310.2,1019.9 1311.2,1024 1311.5,1025 1312.2,1027.4 1313.2,1030.4 1314.2,1033 1315.2,1035.3 1315.3,1035.5 1316.2,1037.4 1317.2,1039.2 1318.2,1040.9 1319.2,1042.3 1319.3,1042.4 1320.2,1043.5 1321.2,1044.7 1322.2,1045.7 1323.2,1046.5 1323.8,1047 1324.2,1047.3 1325.2,1048.1 1326.2,1048.7 1327.2,1049.3 1328.2,1049.9 1329,1050.2 1329.2,1050.3 1330.2,1050.7 1331.2,1051 1332.2,1051.4 1333.2,1051.6 1334.2,1051.8 1334.5,1051.8 1335.2,1051.9 1336.2,1051.9 1337.2,1052 1338.2,1052 1339.2,1052.1 1340.2,1052.1 1340.6,1052.1 1341.2,1052.1 1342.2,1051.9 1343.2,1051.7 1344.2,1051.4 1345.2,1051.1 1346.2,1050.8 1347,1050.6 1347.2,1050.5 1348.2,1050.3 1349.2,1050 1350.2,1049.7 1351.2,1049.3 1352.2,1049 1353.2,1048.6 1354.2,1048.2 1354.2,1048.2 1355.2,1047.7 1356.2,1047.2 1357.2,1046.6 1358.2,1046 1359.2,1045.4 1360,1044.8 1360.2,1044.7 1361.2,1043.9 1362.2,1043 1363.2,1042.1 1364.2,1041.2 1365.2,1040.1 1365.8,1039.5 1366.2,1039.1 1367.2,1037.9 1368.2,1036.6 1369.2,1035.3 1370.2,1033.9 1370.8,1033 1371.2,1032.4 1372.2,1030.9 1373.2,1029.3 1374.2,1027.6 1375.2,1025.7 1375.5,1025 1376.2,1023.4 1377.2,1020.6 1378.2,1017.5 1379.2,1014.1 1379.5,1013 1380.2,1010.4 1381.2,1006.1 1382.2,1001.4 1383.2,996.4 1383.3,995.8 1384.2,990.8 1385.2,984.7 1386.2,978.1 1386.2,978 1387.2,971.4 1388.2,964.3 1389.1,957 1389.2,956.3 1390.2,946.5 1391,938 1391.2,936.2 1392.2,926.5 1393,918.2 1393.2,916.2 1394.2,904.2 1395,895 1395.2,893.3 1396.2,885.4 1396.7,880 1397.2,871.6 1398.2,848.5 1398.2,848 1399.2,828.8 1400.2,810.1 1400.4,806 1401.2,791.6 1402.2,773.7 1402.8,764 1403.2,758.7 1404.2,745.1 1405.2,734.4 1405.5,732 1406.2,727.7 1407.2,722.7 1407.8,721.6 1408.2,722 1409.2,726.4 1410,732 1410.2,733.3 1411.2,744.4 1412.2,760 1412.4,764 1413.2,781.6 1414.1,806 1414.2,807.6 1415.2,829.9 1416,848 1416.2,851.6 1417.2,872.8 1417.5,880 1418.2,895.3 1419.2,917.5 1419.2,918.2 1420.2,934.8 1420.6,942 1421.2,951.5 1422.1,966.7 1422.2,967.6 1423.2,981.4 1424,992 1424.2,994 1425.2,1006.4 1426,1015.2 1426.2,1016.6 1427.2,1024.5 1428.2,1031.1 1428.8,1035 1429.2,1037.1 1430.2,1042.8 1431.2,1047.7 1431.8,1050.2 1432.2,1051.4 1433.2,1054.3 1434.2,1056.7 1435.2,1058.8 1435.5,1059.5 1436.2,1060.7 1437.2,1062.4 1438.2,1063.9 1439.2,1065.2 1439.6,1065.7 1440.2,1066.2 1441.2,1067.1 1442.1,1067.8 1443.1,1068.5 1444,1069 1444.1,1069.1 1445.1,1069.7 1446.1,1070.2 1447.1,1070.7 1448.1,1071.1 1449.1,1071.5 1449.3,1071.5 1450.1,1071.8 1451.1,1072 1452.1,1072.3 1453.1,1072.5 1454.1,1072.7 1455,1072.8 1455.1,1072.8 1456.1,1072.9 1457.1,1073.1 1458.1,1073.2 1459.1,1073.3 1460.1,1073.3 1461.1,1073.4 1462.1,1073.5 1462.9,1073.5 1463.1,1073.5 1464.1,1073.5 1465.1,1073.6 1466.1,1073.6 1467.1,1073.6 1468.1,1073.7 1469.1,1073.7 1470.1,1073.7 1471.1,1073.7 1472.1,1073.7 1473.1,1073.8 1474.1,1073.8 1475.1,1073.8 1476.1,1073.8 1477.1,1073.8 1478.1,1073.8 1479.1,1073.9 1480.1,1073.9 1481.1,1073.9 1482.1,1073.9 1483.1,1073.9 1484.1,1073.9 1485.1,1073.9 1486.1,1073.9 1487.1,1074 1488.1,1074 1489.1,1074 1490,1074 1490.1,1074 1491.1,1074 1492.1,1074 1493.1,1074 1494.1,1074.1 1495.1,1074.1 1496.1,1074.1 1497.1,1074.1 1498.1,1074.1 1499.1,1074.1 1500.1,1074.1 1501.1,1074.2 1502.1,1074.2 1503.1,1074.2 1504.1,1074.2 1505.1,1074.2 1506.1,1074.2 1507.1,1074.2 1508.1,1074.3 1509.1,1074.3 1510.1,1074.3 1511.1,1074.3 1512.1,1074.3 1513.1,1074.3 1514.1,1074.3 1515.1,1074.3 1516.1,1074.3 1517.1,1074.4 1518.1,1074.4 1519.1,1074.4 1520.1,1074.4 1521.1,1074.4"/>
</g>
<path d="M956.4,660.8V1116.8H1524.6M956.4,1116.8H953M956.4,1078.8H949M956.4,1040.8H953M956.4,1002.8H949M956.4,964.8H953M956.4,926.8H949M956.4,888.8H953M956.4,850.8H949M956.4,812.8H953M956.4,774.8H949M956.4,736.8H953M956.4,698.8H949M956.4,660.8H953M956.4,1116.8V1124.2M994.3,1116.8V1120.2M1032.2,1116.8V1124.2M1070,1116.8V1120.2M1107.9,1116.8V1124.2M1145.8,1116.8V1120.2M1183.7,1116.8V1124.2M1221.6,1116.8V1120.2M1259.4,1116.8V1124.2M1297.3,1116.8V1120.2M1335.2,1116.8V1124.2M1373.1,1116.8V1120.2M1411,1116.8V1124.2M1448.8,1116.8V1120.2M1486.7,1116.8V1124.2M1524.6,1116.8V1120.2" stroke="#000" stroke-width="2.2" fill="none" stroke-linecap="square"/>
<g font-family='"Liberation Serif", "Times New Roman", serif' font-size="28.2" fill="#000">
<text x="939.6" y="1086.4" text-anchor="end">0</text>
<text x="939.6" y="1010.4" text-anchor="end">20000</text>
<text x="939.6" y="934.4" text-anchor="end">40000</text>
<text x="939.6" y="858.4" text-anchor="end">60000</text>
<text x="939.6" y="782.4" text-anchor="end">80000</text>
<text x="939.6" y="706.4" text-anchor="end">100000</text>
<text x="956.4" y="1152.4" text-anchor="middle">240</text>
<text x="1032.2" y="1152.4" text-anchor="middle">238</text>
<text x="1107.9" y="1152.4" text-anchor="middle">236</text>
<text x="1183.7" y="1152.4" text-anchor="middle">234</text>
<text x="1259.4" y="1152.4" text-anchor="middle">232</text>
<text x="1335.2" y="1152.4" text-anchor="middle">230</text>
<text x="1411" y="1152.4" text-anchor="middle">228</text>
<text x="1486.7" y="1152.4" text-anchor="middle">226</text>
</g>
<text x="1240.5" y="1203.6" text-anchor="middle" font-family='"Liberation Serif", "Times New Roman", serif' font-weight="bold" font-size="32.3">Binding Energy (eV)</text>
<text transform="translate(843.6,888.8) rotate(-90)" text-anchor="middle" font-family='"Liberation Serif", "Times New Roman", serif' font-weight="bold" font-size="32">Intensity (CPS)</text>
<text x="812.1" y="670.7" font-family='"Liberation Serif", "Times New Roman", serif' font-weight="bold" font-size="41.5">(d)</text>
<line x1="996.4" y1="693.5" x2="1064" y2="693.5" stroke="#000" stroke-width="2.2"/>
<text x="1071" y="703.2" font-family='"Liberation Serif", "Times New Roman", serif' font-size="30.3" fill="#000">Experimental</text>
<line x1="996.4" y1="737.1" x2="1064" y2="737.1" stroke="#1010e8" stroke-width="2.2"/>
<text x="1071" y="746.8" font-family='"Liberation Serif", "Times New Roman", serif' font-size="30.3" fill="#000">Mo 3d<tspan font-size="21" dy="8">5/2</tspan><tspan dy="-8"> </tspan>met</text>
<line x1="996.4" y1="780.8" x2="1064" y2="780.8" stroke="#3d8ee8" stroke-width="2.2"/>
<text x="1071" y="790.5" font-family='"Liberation Serif", "Times New Roman", serif' font-size="30.3" fill="#000">Mo 3d<tspan font-size="21" dy="8">5/2</tspan><tspan dy="-8"> </tspan>met</text>
<line x1="996.4" y1="825.5" x2="1064" y2="825.5" stroke="#7a7a7a" stroke-width="2.2"/>
<text x="1071" y="835.2" font-family='"Liberation Serif", "Times New Roman", serif' font-size="30.3" fill="#000">Background</text>
<line x1="996.4" y1="868.6" x2="1064" y2="868.6" stroke="#c00010" stroke-width="2.2"/>
<text x="1071" y="878.3" font-family='"Liberation Serif", "Times New Roman", serif' font-size="30.3" fill="#000">Fit</text>
<g fill="none" stroke-linejoin="round" stroke-linecap="butt">
<polyline stroke="#000000" stroke-width="2.0" points="178.1,1660.7 179.4,1660.7 180.7,1660.3 182,1660 183.3,1660 184.6,1659.7 185.9,1659.9 187.2,1660.2 188.5,1659.4 189.8,1659.3 191.1,1659.5 192.4,1659.4 193.7,1659.2 195,1658.7 196.3,1658.9 197.6,1659.1 198.9,1658.3 200.2,1658.5 201.5,1657.9 202.8,1658.1 204.1,1657.9 205.4,1658.4 206.7,1658 208,1658.5 208.2,1658.5 209.3,1658.3 210.6,1657.5 211.9,1658.2 213.2,1658.3 214.5,1658.4 215.8,1657.8 217.1,1658.2 218.4,1658 219.7,1658 221,1658.7 222.3,1658 223.6,1658.3 224.9,1658.6 226.2,1658.1 227.5,1658.3 228.8,1658.3 230.1,1658.3 231.4,1657.9 232.7,1658.3 234,1658.8 235.3,1657.7 236.6,1658.6 237.9,1658.3 239.2,1658 240.5,1659 241.8,1658.5 243.1,1657.8 244.4,1658.2 245.7,1658.4 247,1658.1 247,1658.4 248.3,1658.2 249.6,1658.4 250.9,1658.6 252.2,1657.8 253.5,1658 254.8,1657.7 256.1,1657.8 257.4,1657.2 258.7,1657.3 260,1657.3 261.3,1657.5 262.6,1657.5 263.9,1656.5 265.2,1656.5 266.5,1656.8 267.8,1655.8 269.1,1656.1 270.4,1656.1 271.7,1656.4 273,1656.1 274.3,1655.6 275.6,1655.4 276.1,1655.4 276.9,1655.9 278.2,1655.1 279.5,1655 280.8,1655.1 282.1,1654.8 283.4,1654.7 284.7,1654.2 286,1654.4 287.3,1654.1 288.6,1654.6 289.9,1654.2 291.2,1653.8 292.5,1653.9 293.8,1653.4 295.1,1653.8 296.4,1653.2 297.7,1653.3 299,1652.4 300.3,1652.8 301.7,1651.9 303,1651.6 304.3,1652 305.2,1651.7 305.6,1652 306.9,1652.5 308.2,1651.2 309.5,1651.1 310.8,1651.1 312.1,1651 313.4,1650.5 314.7,1650.3 316,1650.3 317.3,1650 318.6,1649.2 319.9,1649.2 321.2,1649 322.5,1648.3 323.8,1648.4 324.7,1647.8 325.1,1648.4 326.4,1647.7 327.7,1647.4 329,1646.8 330.3,1646.6 331.6,1645.5 332.9,1645.5 334.2,1645.6 335.5,1644.3 336.8,1644.9 338.1,1643.5 339.4,1644 340.7,1642.9 342,1643 343.3,1642.3 344.1,1641.4 344.6,1642.1 345.9,1641.7 347.2,1640.6 348.5,1639.9 349.8,1639.3 351.1,1638.4 352.4,1638.4 353.7,1637.1 355,1636.4 355.7,1635.7 356.3,1635.4 357.6,1634.3 358.9,1634.2 360.2,1632.6 361.5,1631.8 362.8,1630.3 364.1,1628.8 365.4,1627.6 365.4,1627.5 366.7,1626.3 368,1624.7 369.3,1623.2 370.6,1621.1 371.9,1619.5 373.2,1618.6 374.5,1615.8 375.1,1614.7 375.8,1614.2 377.1,1612.4 378.4,1609.1 379.7,1607.2 381,1604.4 382.3,1601.3 382.9,1600.8 383.6,1598.8 384.9,1595.3 386,1591.7 386.2,1591.6 387.5,1587.3 388.7,1583.9 388.8,1583.4 390.1,1580 391.4,1578.1 391.5,1577.3 392.7,1575.9 394,1574.4 394.5,1574.1 395.3,1574.5 396.6,1576.6 397,1576.9 397.9,1578.8 399.2,1583.2 399.4,1584.4 400.5,1590.5 401.8,1600 402.3,1603.2 403.1,1607.9 404.3,1616.3 404.4,1616.9 405.7,1625.5 406.2,1628.9 407,1633.4 408.3,1639.9 408.5,1640.8 409.6,1644.9 410.9,1650.2 411,1649.6 412.2,1653.7 413.5,1656.7 414,1657.8 414.8,1659.5 416.1,1661.1 417.4,1661.8 417.8,1662 418.7,1663.9 420,1664.5 421.3,1666 422,1666.8 422.6,1666.3 423.9,1667 425.2,1668.5 426.5,1669.1 427.5,1669.3 427.8,1669.5 429.1,1669.6 430.4,1669.7 431.7,1670.6 433,1670.6 434.3,1670.6 435.6,1671.5 436.9,1671.4 437.2,1671.5 438.2,1671.1 439.5,1671.2 440.8,1671.1 442.1,1671.1 443.4,1671.5 444.7,1671.1 445,1671.5 446,1671.5 447.3,1672.1 448.6,1670.9 449.9,1671.6 451.2,1671.2 452.5,1671.2 453.8,1670.6 455.1,1670.8 455.2,1671.3 456.4,1670.9 457.7,1670.7 459,1670.4 460.3,1670.6 461.6,1669.9 462.9,1668.9 464.2,1669.1 465.5,1668.4 466,1667.9 466.8,1668.7 468.1,1669.1 469.4,1668.3 470.7,1667.7 472,1667.5 473.3,1667.9 474.6,1667.3 475.9,1667 477.2,1666.7 478.5,1666.5 478.5,1666.8 479.8,1666.4 481.1,1666.1 482.4,1665.4 483.7,1665.7 485,1665 486.3,1665.4 487.6,1664.3 488.9,1664.4 490.2,1664.2 491.5,1663.5 492.8,1664.3 494.1,1663.9 495.4,1663 496.7,1663.1 497.9,1662.7 498,1661.7 499.3,1662.4 500.6,1662 501.9,1661.7 503.2,1661.1 504.5,1661 505.8,1660.8 507.1,1661 508.4,1660.4 509.7,1659.9 511,1660.1 512.3,1659.1 513.6,1658.8 514.9,1657.9 516.2,1658.7 517.3,1658.1 517.5,1658 518.8,1657.5 520.1,1656.8 521.4,1656.3 522.7,1655.6 524,1655.1 525.3,1654.6 526.6,1654.5 527,1654 527.9,1653.4 529.2,1652.6 530.5,1652 531.8,1652.1 533.1,1651.1 534.4,1650.3 535.7,1649.4 536.7,1648.6 537,1648.8 538.3,1648.2 539.6,1646.8 540.9,1646 541,1645.9 542.2,1645.1 543.5,1643.5 544.8,1643.1 546.1,1642.1 546.4,1642.6 547.5,1641.6 548.8,1641.6 550.1,1641.6 551.4,1640.6 552.7,1640.2 554,1640.1 555.3,1639.7 556,1639.2 556.6,1639.5 557.9,1639.7 559.2,1638.5 560.5,1638.2 561.8,1637.5 563.1,1637.6 564.4,1636.6 565.7,1636.1 566.5,1636.5 567,1635.5 568.3,1635.4 569.6,1634.6 570.9,1633 572.2,1631.8 573.5,1630.8 573.9,1629.5 574.8,1628.2 576.1,1625.8 577.4,1623.7 578.7,1621.5 579,1620.6 580,1617.9 581.3,1614.8 582.6,1611.7 583.9,1608.4 584.5,1606.4 585.2,1604.6 586.5,1600.7 587.8,1596.1 588.7,1592.6 589.1,1591.1 590.4,1584.4 591.4,1578.9 591.7,1577.9 593,1570.2 593.8,1564.9 594.3,1561.3 595.6,1553 596.1,1547.5 596.9,1538.4 597,1537.4 597.9,1523.4 598.2,1519.8 599.3,1506 599.5,1503.5 600.2,1487.9 600.8,1479.3 601.6,1465.8 602.1,1450.3 602.4,1438.9 603.4,1410.3 604.3,1388.8 604.7,1382.1 605.9,1365.6 606,1365.4 607.3,1355.4 607.6,1355.6 608.4,1366.4 608.6,1370.8 609.1,1388.6 609.9,1414.2 610.7,1440 611.2,1453.8 612.3,1486.1 612.5,1491.1 613.6,1527.4 613.8,1534.9 614.6,1566.6 615.1,1577.3 616,1594.9 616.4,1604.5 616.9,1619.1 617.7,1632.8 618.3,1641.7 619,1651.2 619.7,1660.5 620.3,1665.7 621.2,1671.6 621.6,1673.3 622.9,1677.8 623.4,1679.2 624.2,1680.9 625.5,1686.1 626,1687.1 626.8,1688.8 628.1,1690.2 629.4,1691.8 629.5,1691.6 630.7,1694.1 632,1694.2 633.3,1695.8 633.8,1695.4 634.6,1696.1 635.9,1696.2 637.2,1697.2 638.5,1698.3 638.5,1697.6 639.8,1699 641.1,1699.4 642.4,1699.5 643.5,1700.3 643.7,1700.4 645,1701.4 646.3,1702.1 647.6,1702.9 648.5,1703.7 648.9,1703.7 650.2,1704.6 651.5,1706 652.8,1707.3 653.2,1706.8 654.1,1707.9 655.4,1708.5 656.7,1709.2 658,1710.6 658,1710.1 659.3,1711.6 660.6,1711.5 661.9,1712.5 662.9,1712.6 663.2,1712.5 664.5,1713.3 665.8,1713.4 667.1,1713.9 668.4,1713.8 669.7,1713.5"/>
<polyline stroke="#777777" stroke-width="2.0" points="154.9,1661.4 156.9,1661.5 158.9,1661.5 160.9,1661.8 162.9,1661.4 164.9,1661.9 166.9,1661.8 168.9,1662.2 170.9,1662.2 172.9,1662.4 174.9,1662.3 176.9,1662.1 178.9,1662.4 180.9,1662.5 182.9,1662.1 184.9,1662.4 186.9,1662.3 188.9,1662.6 190.9,1662.2 192.9,1662.4 194.9,1662.5 196.9,1662.5 198.9,1662.2 200.9,1662.6 203,1662.5 205,1662.5 207,1662.6 208.2,1662.6 209,1662.2 211,1662.9 213,1662.5 215,1662.2 217,1662.7 219,1663 221,1662.6 223,1663 225,1663 227,1662.5 229,1662.2 231,1662.5 233,1663 235,1662.6 237,1662.5 239,1662.5 241,1662.8 243,1662.8 245,1663 247,1663 249,1662.6 251,1662.8 253,1662.6 255,1662.9 257,1662.6 259,1662.6 261,1663.3 263,1662.9 265,1663 267,1663.4 269,1663.1 271,1662.9 273,1663 275,1662.8 276.1,1663.2 277,1662.9 279,1663.4 281,1663 283,1663.1 285,1663.1 287,1663.4 289,1663.4 291,1663.7 293,1663.4 295.1,1663.6 297.1,1664 299.1,1663.7 301.1,1663.9 303.1,1664.2 305.1,1664.1 305.2,1663.9 307.1,1663.7 309.1,1664.7 311.1,1664.4 313.1,1664.6 315.1,1664.4 317.1,1665 319.1,1664.8 321.1,1664.9 323.1,1664.8 325.1,1665.2 327.1,1665.1 329.1,1665.3 331.1,1665.2 333.1,1665.6 335.1,1665.8 337.1,1665.7 339.1,1666.1 341.1,1666.4 343.1,1666.4 344.1,1666.4 345.1,1666.5 347.1,1666.9 349.1,1666.6 351.1,1667 353.1,1667.1 355.1,1667.4 357.1,1667.6 359.1,1667.5 361.1,1668.4 363.1,1668.2 365.1,1668.1 367.1,1668.4 369.1,1668.9 371.1,1669.2 373.1,1669.1 373.2,1669.5 375.1,1669.4 377.1,1670 379.1,1670.7 381.1,1671.4 383,1671.5 383.1,1671.5 385.1,1672.3 387.2,1672.4 389.2,1673.3 391.2,1673.9 392.6,1674.5 393.2,1674.5 395.2,1675 397.2,1675.9 399.2,1676.1 400,1676.7 401.2,1676.6 403.2,1677 405.2,1677.4 406.2,1677.6 407.2,1677.8 409.2,1677.8 411.2,1678.2 413.2,1678.4 415.2,1678.3 417.2,1678.2 419.2,1678.7 420,1678.6 421.2,1678.1 423.2,1678.3 425.2,1678.6 427.2,1678.3 429.2,1678.4 431.2,1678.2 433.2,1678.7 435.2,1678.7 437.2,1678.6 439.2,1678.9 441.2,1678.6 443.2,1678.6 445.2,1679.1 447.2,1678.4 449.2,1678.8 450,1678.4 451.2,1678.8 453.2,1679.2 455.2,1678.9 457.2,1678.7 459.2,1679.5 461.2,1679 463.2,1679.1 465.2,1679.4 467.2,1679.2 469.2,1679.8 471.2,1680 473.2,1679.9 475.2,1680 477.2,1680 478.5,1680.3 479.3,1679.5 481.3,1680.2 483.3,1680.4 485.3,1680.1 487.3,1680.7 489.3,1680.7 491.3,1680.8 493.3,1681 495.3,1681.2 497.3,1681.3 499.3,1681.1 501.3,1681.4 503.3,1681.5 505.3,1681.7 507.3,1681.7 509.3,1682.2 511.3,1682.4 513.3,1682.6 515.3,1682.8 517.3,1682.9 517.3,1682.5 519.3,1682.6 521.3,1682.9 523.3,1683.2 525.3,1683.3 527.3,1683.7 529.3,1684 531.3,1683.8 533.3,1684.3 535.3,1684.3 537.3,1684.3 539.3,1684.5 541.3,1685 543.3,1684.9 545.3,1685.6 547.3,1686.1 549.3,1685.8 551.3,1686.2 553.3,1686.8 555.3,1686.9 556.1,1686.9 557.3,1687 559.3,1687.5 561.3,1687.7 563.3,1687.6 565.3,1687.6 567.3,1687.9 569.4,1688.8 571.4,1689 573.4,1689.6 575.4,1689.8 577.4,1689.8 579.4,1690.5 581.4,1691.1 583.4,1691.1 585.2,1691.6 585.4,1692.1 587.4,1691.9 589.4,1692.7 591.4,1694 593,1694.5 593.4,1694.5 595.4,1695.6 597.4,1697.5 598.8,1698.7 599.4,1699.1 601.4,1700.7 603.4,1702.8 604.5,1703.6 605.4,1704.2 607.4,1706.8 609.4,1708 610.5,1709.2 611.4,1709.9 613.4,1711.5 615,1711.8 615.4,1712.1 617.4,1712.3 619.4,1713.1 620.2,1713.2 621.4,1713.3 623.4,1713.1 625.4,1713.4 627.4,1713.3 629.4,1713.5 631.4,1713.6 633.4,1713.9 635.4,1713.6 637.4,1713.8 639.4,1713.6 640,1713.7 641.4,1713.7 643.4,1713.8 645.4,1714 647.4,1713.7 649.4,1714.1 651.4,1713.8 653.4,1714.1 655.4,1713.9 657.4,1714 659.4,1714 661.4,1714.3 662.9,1714.1 663.5,1714.3 665.5,1714.1 667.5,1714.1 669.5,1714.5 671.5,1713.9 673.5,1714 675.5,1714.2 677.5,1714.6 679.5,1714.2 681.5,1714.5 683.5,1714.7 685.5,1714.3 687.5,1714.3 689.5,1714.7 691.5,1714.3 693.5,1714.2 695.5,1714.6 697.5,1714.4 699.5,1714.8 701.5,1714.6 703.5,1714.2 705.5,1714.6 707.5,1714.6"/>
</g>
<path d="M154.8,1300.7V1757.2H721.8M154.8,1757.2H151.4M154.8,1728.7H147.4M154.8,1700.1H151.4M154.8,1671.6H147.4M154.8,1643.1H151.4M154.8,1614.5H147.4M154.8,1586H151.4M154.8,1557.5H147.4M154.8,1529H151.4M154.8,1500.4H147.4M154.8,1471.9H151.4M154.8,1443.4H147.4M154.8,1414.8H151.4M154.8,1386.3H147.4M154.8,1357.8H151.4M154.8,1329.2H147.4M154.8,1300.7H151.4M154.8,1757.2V1764.6M190.2,1757.2V1760.6M225.7,1757.2V1764.6M261.1,1757.2V1760.6M296.6,1757.2V1764.6M332,1757.2V1760.6M367.4,1757.2V1764.6M402.9,1757.2V1760.6M438.3,1757.2V1764.6M473.7,1757.2V1760.6M509.2,1757.2V1764.6M544.6,1757.2V1760.6M580,1757.2V1764.6M615.5,1757.2V1760.6M650.9,1757.2V1764.6M686.4,1757.2V1760.6M721.8,1757.2V1764.6" stroke="#000" stroke-width="2.2" fill="none" stroke-linecap="square"/>
<g font-family='"Liberation Serif", "Times New Roman", serif' font-size="28.2" fill="#000">
<text x="138" y="1736.3" text-anchor="end">20000</text>
<text x="138" y="1679.2" text-anchor="end">40000</text>
<text x="138" y="1622.1" text-anchor="end">60000</text>
<text x="138" y="1565.1" text-anchor="end">80000</text>
<text x="138" y="1508" text-anchor="end">100000</text>
<text x="138" y="1451" text-anchor="end">120000</text>
<text x="138" y="1393.9" text-anchor="end">140000</text>
<text x="138" y="1336.8" text-anchor="end">160000</text>
<text x="154.8" y="1792.8" text-anchor="middle">810</text>
<text x="225.7" y="1792.8" text-anchor="middle">805</text>
<text x="296.6" y="1792.8" text-anchor="middle">800</text>
<text x="367.4" y="1792.8" text-anchor="middle">795</text>
<text x="438.3" y="1792.8" text-anchor="middle">790</text>
<text x="509.2" y="1792.8" text-anchor="middle">785</text>
<text x="580" y="1792.8" text-anchor="middle">780</text>
<text x="650.9" y="1792.8" text-anchor="middle">775</text>
<text x="721.8" y="1792.8" text-anchor="middle">770</text>
</g>
<text x="438.3" y="1844" text-anchor="middle" font-family='"Liberation Serif", "Times New Roman", serif' font-weight="bold" font-size="32.3">Binding Energy (eV)</text>
<text transform="translate(42,1529) rotate(-90)" text-anchor="middle" font-family='"Liberation Serif", "Times New Roman", serif' font-weight="bold" font-size="32">Intensity (CPS)</text>
<text x="9.5" y="1316.4" font-family='"Liberation Serif", "Times New Roman", serif' font-weight="bold" font-size="41.5">(e)</text>
<line x1="223.7" y1="1353.4" x2="290" y2="1353.4" stroke="#000" stroke-width="2.2"/>
<text x="296.5" y="1363.1" font-family='"Liberation Serif", "Times New Roman", serif' font-size="30.3" fill="#000">Experimental Co 2p</text>
<line x1="223.7" y1="1390.3" x2="290" y2="1390.3" stroke="#7a7a7a" stroke-width="2.2"/>
<text x="296.5" y="1400" font-family='"Liberation Serif", "Times New Roman", serif' font-size="30.3" fill="#000">Background</text>
<g fill="none" stroke-linejoin="round" stroke-linecap="butt">
<polyline stroke="#000000" stroke-width="2.0" points="956.6,1578.1 958,1579.2 959.4,1577.7 960.8,1580 962.2,1580.6 963.6,1579.4 965,1580.3 966.4,1580.4 967.8,1579.9 969.2,1579.6 970,1578.7 970.6,1581.8 972,1580.6 973.4,1583.1 974.8,1581.7 976.2,1581.3 977.6,1580.6 979,1582.6 980.4,1581 981.8,1582.9 983.2,1581.3 984.6,1581.8 986,1580.3 986.9,1583.8 987.4,1581.6 988.8,1581.3 990.2,1582.4 991.6,1580.9 993,1582.3 994.4,1580.6 995.8,1582.1 997.2,1580.6 998.6,1579.9 1000,1581 1001.4,1580.1 1002.8,1581.9 1004.1,1581.4 1005.5,1581.8 1006.9,1581.4 1008.2,1581 1008.3,1581.3 1009.7,1582.2 1011.1,1581.1 1012.5,1580.5 1013.9,1580.3 1015.3,1581 1016.7,1580.5 1018.1,1582.8 1019.5,1580 1020.9,1580.1 1022.3,1580.7 1023.7,1581.6 1025.1,1580.7 1026.5,1580.1 1027.9,1580.2 1029.3,1580.6 1030.7,1581.7 1032.1,1579.9 1033.5,1580.7 1034.9,1580.2 1036.3,1581 1037.7,1581 1039.1,1579.3 1040.5,1582.8 1041.9,1580.7 1043.3,1580.1 1044.7,1579.7 1046.1,1580.2 1047,1580.4 1047.5,1580.9 1048.9,1580.3 1050.3,1580.7 1051.7,1578.8 1053.1,1579.5 1054.5,1579.2 1055.9,1580.2 1057.3,1580.4 1058.7,1578.6 1060.1,1579.7 1061.5,1580.5 1062.9,1580.6 1064.3,1578.6 1065.7,1580.1 1067.1,1579.8 1068.5,1579 1069.9,1581 1071.3,1578.1 1072.7,1578.7 1074.1,1579.2 1074.2,1579 1075.5,1578.4 1076.9,1579.5 1078.3,1579.2 1079.7,1578.2 1080,1578.2 1081.1,1576.9 1082.5,1575.3 1083.9,1577.8 1085.3,1574.3 1085.8,1576.9 1086.7,1574.4 1088.1,1573.9 1089.5,1572.8 1090.9,1573 1092.3,1570.8 1093.7,1572 1095.1,1569.9 1095.5,1569.3 1096.5,1567.9 1097.9,1567.6 1099.2,1566.2 1100.6,1566.7 1102,1564.6 1103.4,1561.2 1104.8,1562.9 1105.2,1559.2 1106.2,1562 1107.2,1558.3 1107.6,1559.7 1109,1559.5 1110.4,1557.8 1111.8,1555.8 1113.2,1557 1114.6,1553.3 1115,1553.3 1116,1555.2 1117.4,1552.2 1118.8,1552.1 1118.8,1552.6 1120.2,1550.3 1121.6,1548.9 1123,1547 1124.4,1545.4 1124.7,1546 1125.8,1544.6 1127.2,1542.7 1128.5,1542 1128.6,1540.6 1130,1539 1131.4,1537.5 1132.8,1537.8 1134.2,1537.2 1135.6,1534.4 1137,1531.1 1138.2,1531 1138.4,1531.7 1139.8,1529.8 1141.2,1527.7 1142.6,1526.5 1144,1524.3 1145.4,1520.2 1146.8,1519.8 1147.9,1517.2 1148.2,1517.7 1149.6,1516.9 1151,1515.8 1152.4,1513 1153.8,1509.8 1153.8,1509.9 1155.2,1507.7 1156.6,1502.6 1158,1499.3 1159.4,1495.8 1159.6,1495.5 1160.8,1491.3 1162.2,1488.2 1163.6,1485.3 1165,1480.6 1165.4,1477.6 1166.4,1476.4 1167.8,1472.2 1169.2,1467.3 1170.6,1463.5 1171.2,1460.4 1172,1460.7 1173.4,1456.3 1174.8,1451.9 1176.2,1448.8 1177,1446.2 1177.6,1443.6 1179,1437.4 1180.4,1432.4 1181.8,1431.4 1182.9,1423.8 1183.2,1423.3 1184.6,1416.6 1186,1407.6 1186.8,1404.5 1187.4,1399.9 1188.8,1394.8 1190.2,1386.3 1191.6,1382.9 1191.6,1382.7 1192.9,1376.8 1194.3,1371 1195.7,1365.6 1196.5,1363.5 1197.1,1361.4 1198.5,1355.2 1199.9,1352.9 1200.3,1350.1 1201.3,1348.3 1202.7,1344.9 1202.8,1345.4 1204.1,1342.7 1205.2,1342.7 1205.5,1341.9 1206.9,1342 1208,1344.5 1208.3,1344.2 1209.7,1345.4 1211.1,1347.7 1211.3,1346.1 1212.5,1351.2 1213.8,1354 1213.9,1355.8 1215.3,1361 1216,1364.4 1216.7,1368.3 1218.1,1375.2 1219.5,1382.2 1220.6,1389.9 1220.9,1391.9 1222.3,1399.4 1223.7,1407.7 1225.1,1412.9 1225.3,1415.6 1226.5,1421.6 1227.9,1426.8 1229.3,1435.5 1230,1438.8 1230.7,1441 1232.1,1448.5 1233.5,1456.4 1234.6,1462.6 1234.9,1464.4 1236.3,1470.8 1237.7,1479.2 1239.1,1488.4 1239.3,1490.1 1240.5,1497.4 1241.9,1507.1 1243.3,1517.6 1243.9,1521.8 1244.7,1526.8 1246.1,1535.3 1247.5,1546 1248.6,1555.9 1248.9,1558.8 1250.3,1573.1 1251.7,1585.4 1251.7,1586.1 1253.1,1598.2 1254.5,1608.1 1254.8,1611.9 1255.9,1617.9 1257,1626.3 1257.3,1626.5 1258.7,1630 1259.5,1633.2 1260.1,1635.3 1261.5,1641.1 1262.5,1643.2 1262.9,1644.9 1264.3,1647.5 1265.7,1651.3 1265.7,1651.5 1267.1,1653.5 1268.5,1655 1269.9,1658 1271.3,1658.5 1271.9,1660.9 1272.7,1660.2 1274.1,1661.2 1275.5,1664.7 1276.9,1663.8 1278.3,1665.4 1278.9,1664.8 1279.7,1665.8 1281.1,1667.3 1282.5,1667.7 1283,1670.1 1283.9,1668.9 1285.3,1669.3 1286.7,1672.2 1288,1672.6 1288.2,1669.9 1289.4,1672.1 1290.8,1674.1 1292.2,1673.1 1293.6,1674.1 1295,1674.6 1295,1672.8 1296.4,1674.5 1297.8,1676.4 1299.2,1677.4 1300.6,1676.4 1302,1676.6 1303.4,1677.3 1303.7,1677 1304.8,1677.3 1306.2,1676.1 1307.6,1676.9 1309,1677.4 1310.4,1677.5 1311.8,1675.5 1312,1677.7 1313.2,1677 1314.6,1677 1316,1675.1 1317.4,1676.6 1318.8,1675 1320.2,1674 1321.2,1676.3 1321.6,1676.2 1323,1676.1 1324.4,1676.1 1325.8,1675.8 1327.2,1676.6 1328.6,1676.2 1330,1676.8 1331.4,1677.4 1332.8,1675.6 1334.2,1675.4 1335.6,1676.2 1336.7,1673.6 1337,1674 1338.4,1674.3 1339.8,1672.4 1341.2,1674.3 1342.6,1674.5 1344,1671.6 1345.4,1671.7 1346.8,1672.8 1348.2,1672.8 1349.6,1669.7 1350.3,1671.5 1351,1670.6 1352.4,1668.8 1353.8,1669.6 1355.2,1669 1356.6,1669.2 1358,1668.7 1358,1668.4 1359.4,1668 1360.8,1667.5 1362.2,1667.6 1363.6,1667.4 1365,1666.9 1365.8,1665 1366.4,1664.9 1367.8,1664.5 1369.2,1666 1370.6,1664.8 1371,1663.6 1372,1663.1 1373.4,1663.1 1374.8,1663.9 1376.2,1662.8 1377.5,1663.8 1377.6,1665 1379,1664 1380.4,1665.8 1381,1664 1381.7,1666.1 1383.1,1667 1384.5,1666.8 1385.2,1669.3 1385.9,1668.6 1387.3,1668.8 1388.7,1670.1 1390.1,1672.1 1391.5,1670.8 1392.9,1673.1 1394.3,1673.1 1395.7,1675.1 1396.9,1675.3 1397.1,1675.9 1398.5,1677.8 1399.9,1678.4 1401.3,1680.2 1402,1680.9 1402.7,1681.3 1404.1,1682.5 1405.5,1683.6 1406.9,1685.5 1408.3,1687.4 1408.5,1688.2 1409.7,1689.4 1411.1,1688.5 1412.5,1691.3 1413,1692 1413.9,1693.7 1415.3,1695.1 1416.7,1694.3 1418.1,1697.4 1418.2,1695.7 1419.5,1698.2 1420.9,1699.4 1422.3,1701.1 1422.5,1703.2 1423.7,1702.3 1425.1,1703.5 1426.5,1705.1 1427.9,1706.9 1427.9,1704.4 1429.3,1708.2 1430.7,1706.9 1432.1,1707.4 1433,1708.8 1433.5,1709.5 1434.9,1711.8 1436.3,1710.7 1437.7,1709.7 1439.1,1710.5 1439.6,1709.9 1440.5,1711.6 1441.9,1712.2 1443.3,1711.6 1444.7,1713.3 1446.1,1711.2 1447.5,1712.6 1448.9,1712.5 1450.3,1713.1 1451.2,1712.2 1451.7,1714.6 1453.1,1713 1454.5,1713.8 1455.9,1715.1 1457.3,1715.5 1458.7,1715.2 1460.1,1712.2 1461.5,1714 1462.9,1714 1464.3,1713.8 1465.7,1713.7 1467.1,1714 1468.5,1715 1469.9,1714.2 1471.3,1713.4 1472.6,1713.3 1472.7,1714.8 1474.1,1713.2 1475.5,1715.5 1476.8,1714.4 1478.2,1714.5 1479.6,1715.2 1481,1714.8 1482.4,1715.8 1483.8,1714.1 1485.2,1713.6 1486.6,1717.1 1488,1715.6 1489.4,1713.1 1490.8,1717.1 1492,1714.3 1492.2,1717.5 1493.6,1717.3 1495,1716.5 1496.4,1715.8 1497.8,1715.1 1499.2,1716.8 1500.6,1715.6 1502,1717 1503.4,1715.9 1504.8,1714.8 1506.2,1715.6 1507.6,1716.4 1509,1715.9 1510.4,1716.6 1511.8,1715.7 1513.2,1718 1514.6,1716.2 1516,1717.2 1517.4,1715.2 1518.8,1717.6 1520.2,1718.3 1521.6,1717.5 1523,1716.8"/>
<polyline stroke="#777777" stroke-width="2.0" points="956.6,1577.8 958,1578.4 959.4,1578.5 960.8,1579.7 962.2,1579.4 963.6,1579.9 965,1580.7 966.4,1580.9 967.8,1580.7 969.2,1580 970,1579.8 970.6,1579.8 972,1580.4 973.4,1580.7 974.8,1580 976.2,1580 977.6,1581.4 979,1579.5 980.4,1581.1 981.8,1581.8 983.2,1580.6 984.6,1580.5 986,1580.9 987.4,1582.2 988.8,1581.6 1027.6,1582.3 1028.6,1582.3 1029.6,1582.3 1030.6,1582.3 1031.6,1582.3 1032.6,1582.3 1033.6,1582.3 1034.6,1582.3 1035.6,1582.3 1036.6,1582.3 1037.6,1582.3 1038.6,1582.3 1039.6,1582.3 1040.6,1582.3 1041.6,1582.3 1042.6,1582.3 1043.6,1582.3 1044.6,1582.3 1045.6,1582.3 1046.6,1582.3 1047.6,1582.3 1048.6,1582.3 1049.6,1582.3 1050.6,1582.3 1051.6,1582.3 1052.6,1582.3 1053.6,1582.3 1054.6,1582.3 1055.6,1582.3 1056.6,1582.3 1057.6,1582.3 1058.6,1582.3 1059.6,1582.3 1060.6,1582.3 1061.6,1582.3 1062.6,1582.3 1063.6,1582.3 1064.6,1582.3 1065.6,1582.3 1066.6,1582.3 1067.6,1582.3 1068.6,1582.3 1069.6,1582.3 1070.6,1582.3 1071.6,1582.3 1072.6,1582.3 1073.6,1582.3 1074.2,1582.3 1074.6,1582.3 1075.6,1582.3 1076.6,1582.3 1077.6,1582.4 1078.6,1582.4 1079.6,1582.4 1080.6,1582.5 1081.6,1582.5 1082.6,1582.6 1083.6,1582.7 1084.6,1582.8 1085.6,1582.8 1086.6,1582.9 1087.6,1583 1088.6,1583.1 1089.7,1583.2 1090.7,1583.3 1091.7,1583.4 1092.7,1583.4 1093.7,1583.5 1094.7,1583.6 1095.5,1583.7 1095.7,1583.7 1096.7,1583.8 1097.7,1583.9 1098.7,1584 1099.7,1584.1 1100.7,1584.2 1101.7,1584.3 1102.7,1584.4 1103.7,1584.6 1104.7,1584.7 1105.7,1584.8 1106.7,1584.9 1107.7,1585.1 1108.7,1585.2 1109.7,1585.4 1110.7,1585.5 1111.7,1585.7 1112.7,1585.8 1113.7,1586 1114.7,1586.1 1115,1586.2 1115.7,1586.3 1116.7,1586.5 1117.7,1586.7 1118.7,1586.9 1119.7,1587.1 1120.7,1587.3 1121.7,1587.5 1122.7,1587.8 1123.7,1588 1124.7,1588.2 1125.7,1588.5 1126.7,1588.8 1127.7,1589 1128.7,1589.3 1129.7,1589.5 1130.7,1589.8 1131.7,1590.1 1132.7,1590.3 1133.7,1590.6 1134.4,1590.8 1134.7,1590.9 1135.7,1591.2 1136.7,1591.4 1137.7,1591.7 1138.7,1592 1139.7,1592.3 1140.7,1592.6 1141.7,1592.9 1142.7,1593.2 1143.7,1593.5 1144.7,1593.8 1145.7,1594.1 1146.7,1594.5 1147.7,1594.8 1148.7,1595.1 1149.7,1595.4 1150.7,1595.8 1151.7,1596.1 1152.7,1596.4 1153.7,1596.8 1153.8,1596.8 1154.7,1597.1 1155.7,1597.4 1156.7,1597.8 1157.7,1598.1 1158.7,1598.5 1159.7,1598.9 1160,1599 1160.7,1599.3 1161.7,1599.8 1162.7,1600.3 1163.7,1600.9 1164.7,1601.5 1165.7,1602 1166.7,1602.6 1167,1602.8 1167.7,1603.2 1168.7,1603.8 1169.7,1604.4 1170.7,1605 1171.7,1605.7 1172.7,1606.3 1173.7,1607 1174.7,1607.7 1175.5,1608.3 1175.7,1608.5 1176.7,1609.2 1177.7,1610 1178.7,1610.9 1179.7,1611.8 1180.7,1612.7 1181,1613 1181.7,1613.7 1182.7,1614.8 1183.7,1615.9 1184.7,1617.1 1185.7,1618.3 1186.4,1619.1 1186.7,1619.5 1187.7,1620.7 1188.7,1622 1189.7,1623.3 1190.7,1624.6 1191.7,1626 1192.5,1627 1192.7,1627.3 1193.7,1628.7 1194.7,1630.2 1195.7,1631.6 1196.7,1633.1 1197.7,1634.6 1198.7,1636 1198.9,1636.2 1199.7,1637.3 1200.7,1638.7 1201.7,1640 1202.7,1641.3 1203.7,1642.6 1204.5,1643.6 1204.7,1643.9 1205.7,1645.2 1206.7,1646.5 1207.7,1647.8 1208.7,1649 1209.7,1650.2 1209.7,1650.3 1210.7,1651.5 1211.7,1652.6 1212.7,1653.8 1213.8,1655 1214.8,1656.1 1215.8,1657.2 1216,1657.5 1216.8,1658.3 1217.8,1659.5 1218.8,1660.6 1219.8,1661.7 1220.8,1662.7 1221.8,1663.8 1222.2,1664.2 1222.8,1664.7 1223.8,1665.7 1224.8,1666.6 1225.8,1667.5 1226.8,1668.4 1227.8,1669.3 1228.5,1670 1228.8,1670.2 1229.8,1671.2 1230.8,1672.1 1231.8,1673 1232.8,1674 1233.8,1674.9 1234.6,1675.6 1234.8,1675.7 1235.8,1676.6 1236.8,1677.5 1237.8,1678.3 1238.8,1679.1 1239.8,1679.9 1240.8,1680.6 1241,1680.8 1241.8,1681.3 1242.8,1682 1243.8,1682.6 1244.8,1683.2 1245.8,1683.8 1246.8,1684.4 1247,1684.5 1247.8,1684.9 1248.8,1685.4 1249.8,1685.9 1250.8,1686.4 1251.8,1686.9 1252.8,1687.3 1253.8,1687.7 1254,1687.8 1254.8,1688.1 1255.8,1688.5 1256.8,1688.8 1257.8,1689.2 1258.8,1689.5 1259.8,1689.8 1260.8,1690.1 1261,1690.2 1261.8,1690.4 1262.8,1690.7 1263.8,1691 1264.8,1691.2 1265.8,1691.5 1266.8,1691.7 1267.8,1691.9 1268.8,1692.2 1269.8,1692.4 1270,1692.4 1270.8,1692.5 1271.8,1692.7 1272.8,1692.9 1273.8,1693 1274.8,1693.1 1275.8,1693.3 1276.8,1693.4 1277.8,1693.6 1278.8,1693.8 1279.8,1694 1280,1694 1280.8,1694.2 1281.8,1694.5 1282.8,1694.8 1283.8,1695.2 1284.8,1695.6 1285.8,1695.9 1286.8,1696.2 1287.8,1696.5 1288,1696.5 1288.8,1696.7 1289.8,1696.8 1290.8,1697 1291.8,1697.2 1292.8,1697.3 1293.8,1697.5 1294.8,1697.6 1295.8,1697.7 1296.8,1697.8 1297.8,1698 1298.8,1698.1 1299.8,1698.2 1300.8,1698.3 1301.8,1698.4 1302.8,1698.5 1303.8,1698.6 1304.8,1698.8 1305.8,1698.9 1306.8,1699 1307.6,1699.1 1307.8,1699.1 1308.8,1699.3 1309.8,1699.4 1310.8,1699.5 1311.8,1699.6 1312.8,1699.8 1313.8,1699.9 1314.8,1700 1315.8,1700.1 1316.8,1700.3 1317.8,1700.4 1318.8,1700.5 1319.8,1700.6 1320.8,1700.8 1321.8,1700.9 1322.8,1701 1323.8,1701.1 1324.8,1701.3 1325.8,1701.4 1326.8,1701.5 1327.8,1701.6 1328.8,1701.7 1329.8,1701.9 1330.8,1702 1331.8,1702.1 1332.8,1702.2 1333.8,1702.4 1334.8,1702.5 1335.8,1702.6 1336.8,1702.7 1337.9,1702.9 1338.9,1703 1339.9,1703.1 1340.9,1703.3 1341.9,1703.4 1342.9,1703.5 1343.9,1703.7 1344.9,1703.8 1345.9,1703.9 1346.4,1704 1346.9,1704.1 1347.9,1704.2 1348.9,1704.3 1349.9,1704.5 1350.9,1704.6 1351.9,1704.8 1352.9,1704.9 1353.9,1705 1354.9,1705.2 1355.9,1705.3 1356.9,1705.5 1357.9,1705.6 1358.9,1705.7 1359.9,1705.9 1360.9,1706 1361.9,1706.2 1362.9,1706.3 1363.9,1706.5 1364.9,1706.6 1365.9,1706.8 1366.9,1706.9 1367.9,1707.1 1368.9,1707.2 1369.9,1707.4 1370.9,1707.5 1371.9,1707.7 1372.9,1707.8 1373.9,1708 1374.9,1708.1 1375.9,1708.3 1376.9,1708.5 1377.9,1708.6 1378.9,1708.8 1379.9,1708.9 1380.9,1709.1 1381.9,1709.3 1382.9,1709.4 1383.9,1709.6 1384.9,1709.7 1385.2,1709.8 1385.9,1709.9 1386.9,1710.1 1387.9,1710.3 1388.9,1710.5 1389.9,1710.6 1390.9,1710.8 1391.9,1711 1392.9,1711.2 1393.9,1711.4 1394.9,1711.6 1395.9,1711.8 1396.9,1712 1397.9,1712.1 1398.9,1712.3 1399.9,1712.5 1400,1712.5 1400.9,1712.7 1401.9,1712.8 1402.9,1713 1403.9,1713.2 1404.9,1713.4 1405.9,1713.5 1406.9,1713.7 1407.9,1713.9 1408.9,1714 1409.9,1714.2 1410.9,1714.3 1411.9,1714.4 1412.9,1714.6 1413.9,1714.7 1414.4,1714.7 1414.9,1714.7 1415.9,1714.8 1416.9,1714.9 1417.9,1715 1418.9,1715 1419.9,1715.1 1420.9,1715.2 1421.9,1715.3 1422.9,1715.3 1423.9,1715.4 1424.9,1715.5 1425.9,1715.5 1426.9,1715.6 1427.9,1715.6 1428.9,1715.7 1429.9,1715.7 1430.9,1715.8 1431.9,1715.8 1432.9,1715.9 1433.9,1715.9 1434.9,1716 1435.9,1716 1436.9,1716 1437.9,1716.1 1438.9,1716.1 1439.9,1716.1 1440.9,1716.1 1441.9,1716.2 1442.9,1716.2 1443.5,1716.2 1443.9,1716.2 1444.9,1716.2 1445.9,1716.2 1446.9,1716.3 1447.9,1716.3 1448.9,1716.3 1449.9,1716.3 1450.9,1716.3 1451.9,1716.4 1452.9,1716.4 1453.9,1716.4 1454.9,1716.4 1455.9,1716.4 1456.9,1716.4 1457.9,1716.5 1458.9,1716.5 1459.9,1716.5 1460.9,1716.5 1462,1716.5 1463,1716.5 1464,1716.5 1465,1716.6 1466,1716.6 1467,1716.6 1468,1716.6 1469,1716.6 1470,1716.6 1471,1716.6 1472,1716.7 1473,1716.7 1474,1716.7 1475,1716.7 1476,1716.7 1477,1716.7 1478,1716.7 1479,1716.7 1480,1716.8 1481,1716.8 1482,1716.8 1483,1716.8 1484,1716.8 1485,1716.8 1486,1716.8 1487,1716.8 1488,1716.8 1489,1716.8 1490,1716.9 1491,1716.9 1492,1716.9 1493,1716.9 1494,1716.9 1495,1716.9 1496,1716.9 1497,1716.9 1498,1716.9 1499,1716.9 1500,1716.9 1501,1716.9 1502,1716.9 1503,1716.9 1504,1716.9 1505,1717 1506,1717 1507,1717 1508,1717 1509,1717 1510,1717 1511,1717 1512,1717 1513,1717 1514,1717 1515,1717 1516,1717 1517,1717 1518,1717 1519,1717 1520,1717 1521,1717 1522,1717 1523,1717"/>
</g>
<path d="M956.4,1300.7V1757.2H1524.6M956.4,1757.2H949M956.4,1730.3H953M956.4,1703.5H949M956.4,1676.6H953M956.4,1649.8H949M956.4,1622.9H953M956.4,1596.1H949M956.4,1569.2H953M956.4,1542.4H949M956.4,1515.5H953M956.4,1488.7H949M956.4,1461.8H953M956.4,1435H949M956.4,1408.1H953M956.4,1381.3H949M956.4,1354.4H953M956.4,1327.6H949M956.4,1300.7H953M956.4,1757.2V1760.6M1013.2,1757.2V1764.6M1070,1757.2V1760.6M1126.9,1757.2V1764.6M1183.7,1757.2V1760.6M1240.5,1757.2V1764.6M1297.3,1757.2V1760.6M1354.1,1757.2V1764.6M1411,1757.2V1760.6M1467.8,1757.2V1764.6M1524.6,1757.2V1760.6" stroke="#000" stroke-width="2.2" fill="none" stroke-linecap="square"/>
<g font-family='"Liberation Serif", "Times New Roman", serif' font-size="28.2" fill="#000">
<text x="939.6" y="1764.8" text-anchor="end">0</text>
<text x="939.6" y="1711.1" text-anchor="end">2000</text>
<text x="939.6" y="1657.4" text-anchor="end">4000</text>
<text x="939.6" y="1603.7" text-anchor="end">6000</text>
<text x="939.6" y="1550" text-anchor="end">8000</text>
<text x="939.6" y="1496.3" text-anchor="end">10000</text>
<text x="939.6" y="1442.6" text-anchor="end">12000</text>
<text x="939.6" y="1388.9" text-anchor="end">14000</text>
<text x="939.6" y="1335.2" text-anchor="end">16000</text>
<text x="1013.2" y="1792.8" text-anchor="middle">730</text>
<text x="1126.9" y="1792.8" text-anchor="middle">720</text>
<text x="1240.5" y="1792.8" text-anchor="middle">710</text>
<text x="1354.1" y="1792.8" text-anchor="middle">700</text>
<text x="1467.8" y="1792.8" text-anchor="middle">690</text>
</g>
<text x="1240.5" y="1844" text-anchor="middle" font-family='"Liberation Serif", "Times New Roman", serif' font-weight="bold" font-size="32.3">Binding Energy (eV)</text>
<text transform="translate(857.7,1529) rotate(-90)" text-anchor="middle" font-family='"Liberation Serif", "Times New Roman", serif' font-weight="bold" font-size="32">Intensity (CPS)</text>
<text x="812.4" y="1315.1" font-family='"Liberation Serif", "Times New Roman", serif' font-weight="bold" font-size="41.5">(f)</text>
<line x1="1253" y1="1379.8" x2="1320.6" y2="1379.8" stroke="#000" stroke-width="2.2"/>
<text x="1327.5" y="1389.5" font-family='"Liberation Serif", "Times New Roman", serif' font-size="30.3" fill="#000">Experimental Co Auger</text>
<line x1="1253" y1="1416" x2="1320.6" y2="1416" stroke="#7a7a7a" stroke-width="2.2"/>
<text x="1327.5" y="1425.7" font-family='"Liberation Serif", "Times New Roman", serif' font-size="30.3" fill="#000">Background</text>
<g fill="none" stroke-linejoin="round" stroke-linecap="butt">
<polyline stroke="#000000" stroke-width="2.0" points="154.9,2251.6 156.7,2252.8 158.5,2252.1 160.3,2249.4 162.1,2249.2 163.9,2248.4 165.7,2249.3 167.5,2248.1 169.3,2248.7 169.4,2245.3 171.1,2249.4 172.9,2246.8 174.7,2247.4 176.5,2246 178.3,2245.3 180.1,2246.1 181.9,2246.2 183.7,2244.5 185.5,2244.3 187.3,2245 188.8,2242.7 189.1,2241.8 190.9,2243.9 192.7,2242.1 194.5,2240.1 196.3,2241.2 198.1,2241.3 199.9,2239.9 201.7,2239.2 203.5,2240.8 205.3,2241.6 207.1,2239.8 208.2,2238.9 208.9,2240.3 210.7,2240.4 212.5,2238.8 214.3,2239.7 216.1,2240 217.9,2238.2 219.7,2237.1 221.5,2238.4 223.3,2238 225.1,2238.8 226.9,2235.4 227.6,2236.1 228.7,2235.7 230.5,2234.2 232.3,2236.3 234.1,2236.4 235.9,2234.4 237.7,2236.8 239.5,2235.7 241.3,2235.1 243.1,2234.5 244.9,2235 246.7,2231.8 247,2234.3 248.5,2234.2 250.3,2230.9 252.1,2233.6 253.9,2232.7 255.7,2233.9 257.5,2232.3 259.3,2232.7 261.1,2233.1 262.9,2231.4 264.7,2233.2 266.4,2232.2 266.5,2232.9 268.3,2231.5 270.1,2233.4 271.9,2232.5 273.7,2231.3 275.5,2232.1 277.3,2232.7 279.1,2233.2 280.9,2228.5 282.7,2231.4 284.5,2230.6 285.8,2229.7 286.3,2228.4 288.1,2231 289.9,2227.4 291.7,2229.4 293.5,2229.9 295.3,2225.7 297.1,2226.9 298.9,2225.2 300.7,2226.8 302.5,2228 304.3,2228.2 305.2,2223.1 306.1,2224.5 307.9,2225.7 309.7,2226.5 311.5,2224.6 313.3,2222.8 315.1,2223.8 316.9,2223 318.7,2222.4 320.5,2221.4 322.3,2222.5 324.1,2222 324.7,2221.4 325.9,2221 327.7,2219.2 329.5,2219.8 331.3,2221.6 333.1,2219.4 334.9,2217.4 336.7,2220.6 338.5,2219.3 340.3,2221 342.1,2218.1 343.9,2217.3 344.1,2216 345.7,2219.5 347.5,2221.1 349.3,2216.6 351.1,2216.8 352.9,2218.3 354.7,2216.4 356.5,2217.1 358.3,2216.9 360.1,2217.6 361.9,2218.7 363.5,2217.2 363.7,2218.4 365.5,2216.5 367.3,2217.4 369.1,2214 370.9,2214.7 372.7,2217.5 374.5,2215.5 376.3,2216.9 378.1,2216.7 379.9,2217.6 381.7,2216.8 382.9,2217 383.5,2215.5 385.3,2214.7 387.1,2214.7 388.9,2215 390.7,2214.1 392.5,2214.8 392.6,2215.4 394.3,2215.6 396.1,2214.2 397.9,2211.4 399.7,2212.9 401.5,2212.4 402.3,2213.2 403.3,2212.2 405.1,2209.9 406.9,2209.1 408.7,2212 410.5,2209.6 412,2210.3 412.3,2210.5 414.1,2205.7 415.9,2206 417.7,2204.9 419.5,2203.9 421.3,2203 421.7,2202.4 423.1,2201.8 424.9,2199.2 426.7,2200.5 428.5,2199.2 430,2199.8 430.3,2198.8 432.1,2199 433.9,2197.5 435.7,2194.9 437.2,2193.4 437.5,2192.8 439.3,2190.4 441.1,2188.9 441.6,2188 442.9,2187.4 444.7,2184.5 445,2185 446.5,2181 448.3,2182.1 450.1,2178.4 451.9,2177.1 453.7,2176.6 455.2,2175.3 455.5,2176.2 457.3,2174.3 459.1,2172.9 460.9,2172.6 462.7,2174.8 464.5,2172.6 466.3,2170.4 468.1,2171.4 468.8,2169.1 469.9,2173 471.7,2168.1 473.5,2170.1 475.3,2169.5 476,2166.6 477.1,2168.4 478.9,2168.3 480.7,2166.5 482.5,2165 484.3,2164.6 484.3,2163.6 486.1,2162.4 487.9,2160.3 489.7,2159.6 490,2157.3 491.5,2158 493.3,2154.3 495.1,2151.4 496,2152.2 496.9,2152.7 498.7,2149.3 500.5,2144.7 501,2145.4 502.3,2141.6 504.1,2138.4 505.7,2135.3 505.9,2131.8 507.7,2131.2 509.5,2125.7 511.3,2122 513.1,2116.6 513.4,2115.8 514.9,2112.7 516.5,2110.6 516.7,2111.1 518.5,2103.1 519.3,2101.7 520.3,2096.1 522,2087 522.1,2089.3 523.9,2082.8 525.1,2076.4 525.7,2074.2 527,2066.7 527.5,2061.8 529,2051.8 529.3,2051.8 530.9,2044.2 531.1,2043 532.9,2035.3 533.6,2032.2 534.7,2022.3 535.3,2019.9 536.5,2013.1 537.2,2009.1 538.3,2004.4 539.8,1996.5 540.1,1996.9 541.9,1993 542.4,1989.8 543.7,1983.4 545,1981.3 545.5,1981.2 547.3,1977.2 547.9,1975.8 549.1,1979.6 550.5,1978.9 550.9,1982.2 552.7,1988.8 554.5,1996.4 556.3,2009.8 556.3,2008.7 558.1,2015.2 558.6,2019.8 559.9,2023.8 561.1,2027.5 561.7,2033.2 563.5,2050.7 563.9,2054.5 565.3,2064.4 566.8,2075.1 567.1,2077.8 568.9,2090.4 569.7,2097.9 570.7,2103.5 572.5,2115.7 572.6,2116.7 574.3,2126.5 575.5,2134.3 576.1,2140.1 577.9,2145.9 579.4,2150.6 579.7,2152.5 581.5,2157.8 583.3,2164.8 583.3,2163.5 585.1,2170.7 586.9,2174 587.2,2178.7 588.7,2181.4 590.5,2185.4 591.1,2188.3 592.3,2189.6 594.1,2191.9 595,2190.8 595.9,2193.4 597.7,2198.5 598.8,2192.7 599.5,2195.4 601.3,2196.1 602.7,2198.1 603.1,2195.8 604.9,2198.7 606.6,2201.8 606.7,2201.1 608.5,2200.3 609.5,2195.4 610.3,2195.6 612.1,2197.6 612.4,2192.5 613.9,2190.9 615.7,2190.2 617.3,2188.6 617.5,2189.6 619.3,2187 621.1,2184.1 622.1,2184.1 622.9,2185.9 624.7,2179.9 626,2171.4 626.5,2173.5 628.3,2167.4 629.9,2165.2 630.1,2163.8 631.9,2163.3 632.8,2160.6 633.7,2159.3 635.5,2156.1 635.7,2155.5 637.3,2154.3 639.1,2153.8 639.6,2152.3 640.9,2149.6 642.7,2149.8 643.5,2148.1 644.5,2148.3 646.3,2150 647.4,2152.1 648.1,2152.9 649.9,2152.7 651.2,2159.8 651.7,2160.2 653.5,2163.1 654.2,2166.4 655.3,2168.1 657.1,2172.6 658.9,2175.3 660,2182.7 660.7,2186.5 662.5,2195.6 662.9,2197.8 664.3,2204.3 665.5,2207.5 666.1,2209.8 667.9,2225 668.7,2228.5 669.7,2233.9 671.5,2238.7 673.3,2244.6 674.5,2246 675.1,2250.3 676.9,2254.3 678.7,2260.3 680.5,2265.2 682.3,2269.1 684.1,2274.5 685.9,2278.8 687.7,2284.4 689.5,2288.3 690,2288 691.3,2290.5 693.1,2296.9 694.9,2297.5 696.7,2301.9 698.5,2304.3 699.7,2305.4 700.3,2306.3 702.1,2311.3 703.9,2315.5 704.5,2317.3 705.7,2317.4 707.5,2322.1 709.3,2327.1 709.4,2329.6 711.1,2329.7 712.5,2338.1 712.9,2338.1 714.7,2345.6 715.3,2346.3 716.5,2350.3 718.3,2355.8 719.2,2357.1 720.1,2362"/>
<polyline stroke="#777777" stroke-width="2.0" points="154.9,2253.5 155.9,2253.5 156.9,2253.6 157.9,2253.6 158.9,2253.7 159.9,2253.7 160.9,2253.8 161.9,2253.8 162.9,2253.8 163.9,2253.9 164.9,2253.9 165.9,2254 166.9,2254 167.9,2254.1 168.9,2254.1 169.9,2254.2 170.9,2254.2 171.9,2254.3 172.9,2254.3 173.9,2254.4 174.9,2254.4 175.9,2254.5 176.9,2254.5 177.9,2254.6 178.9,2254.6 179.9,2254.7 180.9,2254.7 181.9,2254.8 182.9,2254.9 183.9,2254.9 184.9,2255 185.9,2255 186.9,2255.1 187.9,2255.1 188.9,2255.2 189.9,2255.3 190.9,2255.3 191.9,2255.4 192.9,2255.4 193.9,2255.5 194.9,2255.6 195.9,2255.6 196.9,2255.7 197.9,2255.7 198.9,2255.8 199.9,2255.9 200.9,2255.9 201.9,2256 202.9,2256.1 203.9,2256.1 204.9,2256.2 205.9,2256.3 206.9,2256.3 207.9,2256.4 208.2,2256.4 208.9,2256.4 209.9,2256.5 210.9,2256.6 211.9,2256.7 212.9,2256.7 213.9,2256.8 214.9,2256.9 215.9,2256.9 216.9,2257 217.9,2257.1 218.9,2257.2 219.9,2257.2 220.9,2257.3 221.9,2257.4 222.9,2257.5 223.9,2257.5 224.9,2257.6 225.9,2257.7 226.9,2257.8 227.9,2257.9 228.9,2258 229.9,2258 230.9,2258.1 231.9,2258.2 232.9,2258.3 233.9,2258.4 234.9,2258.5 235.9,2258.5 236.9,2258.6 237.9,2258.7 238.9,2258.8 239.9,2258.9 240.9,2259 241.9,2259.1 242.9,2259.2 243.9,2259.3 244.9,2259.3 245.9,2259.4 246.9,2259.5 247.9,2259.6 249,2259.7 250,2259.8 251,2259.9 252,2260 253,2260.1 254,2260.2 255,2260.3 256,2260.3 257,2260.4 258,2260.5 259,2260.6 260,2260.7 261,2260.8 262,2260.9 263,2261 264,2261.1 265,2261.2 266,2261.3 266.4,2261.3 267,2261.4 268,2261.4 269,2261.5 270,2261.6 271,2261.7 272,2261.8 273,2261.9 274,2262 275,2262.1 276,2262.2 277,2262.3 278,2262.4 279,2262.5 280,2262.6 281,2262.7 282,2262.8 283,2262.9 284,2263 285,2263.1 286,2263.2 287,2263.3 288,2263.4 289,2263.5 290,2263.6 291,2263.7 292,2263.8 293,2263.9 294,2264 295,2264.1 296,2264.2 297,2264.3 298,2264.4 299,2264.5 300,2264.6 301,2264.7 302,2264.8 303,2264.9 304,2265 305,2265.1 306,2265.2 307,2265.3 308,2265.4 309,2265.5 310,2265.6 311,2265.7 312,2265.8 313,2265.9 314,2266 315,2266.1 316,2266.2 317,2266.3 318,2266.4 319,2266.5 320,2266.6 321,2266.7 322,2266.8 323,2266.9 324,2267 324.7,2267.1 325,2267.1 326,2267.2 327,2267.3 328,2267.4 329,2267.5 330,2267.6 331,2267.7 332,2267.8 333,2267.9 334,2268 335,2268.1 336,2268.2 337,2268.3 338,2268.4 339,2268.5 340,2268.6 341,2268.7 342,2268.8 343,2268.9 344,2269 345,2269.1 346,2269.2 347,2269.3 348,2269.4 349,2269.5 350,2269.6 351,2269.7 352,2269.8 353,2269.9 354,2270 355,2270.1 356,2270.2 357,2270.3 358,2270.4 359,2270.5 360,2270.6 361,2270.6 362,2270.7 363,2270.8 364,2270.9 365,2271 366,2271.1 367,2271.2 368,2271.3 369,2271.5 370,2271.6 371,2271.7 372,2271.8 373,2271.9 374,2272 375,2272.1 376,2272.2 377,2272.3 378,2272.4 379,2272.5 380,2272.6 381,2272.7 382,2272.8 382.9,2272.9 383,2272.9 384,2273 385,2273.1 386,2273.2 387,2273.3 388,2273.5 389,2273.6 390,2273.7 391,2273.8 392,2273.9 393,2274 394,2274.1 395,2274.2 396,2274.3 397,2274.4 398,2274.5 399,2274.7 400,2274.8 401,2274.9 402,2275 403,2275.1 404,2275.2 405,2275.3 406,2275.5 407,2275.6 408,2275.7 409,2275.8 410,2275.9 411,2276 412,2276.2 413,2276.3 414,2276.4 415,2276.5 416,2276.7 417,2276.8 418,2276.9 419,2277 420,2277.2 421,2277.3 421.7,2277.4 422,2277.4 423,2277.6 424,2277.7 425,2277.9 426,2278 427,2278.2 428,2278.3 429,2278.5 430,2278.6 431,2278.8 432,2278.9 433,2279.1 434,2279.2 435,2279.4 436,2279.5 437.1,2279.7 438.1,2279.9 439.1,2280 440.1,2280.2 441.1,2280.4 442.1,2280.5 443.1,2280.7 444.1,2280.8 445.1,2281 446.1,2281.2 447.1,2281.3 448.1,2281.5 449.1,2281.7 450,2281.8 450.1,2281.8 451.1,2282 452.1,2282.1 453.1,2282.3 454.1,2282.4 455.1,2282.6 456.1,2282.7 457.1,2282.9 458.1,2283 459.1,2283.2 460.1,2283.3 461.1,2283.5 462.1,2283.6 463.1,2283.8 464.1,2284 465.1,2284.1 466.1,2284.3 467.1,2284.5 468.1,2284.7 468.8,2284.8 469.1,2284.9 470.1,2285 471.1,2285.2 472.1,2285.4 473.1,2285.6 474.1,2285.9 475.1,2286.1 476.1,2286.3 477.1,2286.5 478.1,2286.7 479.1,2287 480.1,2287.2 481.1,2287.4 482.1,2287.6 483.1,2287.9 484.1,2288.1 485.1,2288.4 486.1,2288.6 487.1,2288.9 488.1,2289.1 489.1,2289.4 490.1,2289.6 491.1,2289.9 492.1,2290.2 493.1,2290.4 494.1,2290.7 495.1,2291 496.1,2291.2 497.1,2291.5 498.1,2291.8 499.1,2292.1 500.1,2292.3 501.1,2292.6 502.1,2292.9 503.1,2293.2 504.1,2293.5 505.1,2293.8 506.1,2294.1 507.1,2294.4 507.6,2294.5 508.1,2294.6 509.1,2294.9 510.1,2295.2 511.1,2295.6 512.1,2295.9 513.1,2296.2 514.1,2296.5 515.1,2296.9 516.1,2297.2 517.1,2297.6 518.1,2297.9 519.1,2298.3 520.1,2298.6 521.1,2299 522,2299.3 522.1,2299.3 523.1,2299.7 524.1,2300.1 525.1,2300.4 526.1,2300.8 527.1,2301.2 528.1,2301.6 529.1,2302 530.1,2302.4 531.1,2302.8 532.1,2303.2 533.1,2303.6 534.1,2304.1 535.1,2304.5 536.1,2304.9 536.7,2305.2 537.1,2305.4 538.1,2305.8 539.1,2306.3 540.1,2306.8 541.1,2307.3 542.1,2307.7 543.1,2308.2 544.1,2308.7 545.1,2309.3 546.1,2309.8 547.1,2310.3 548.1,2310.8 549,2311.3 549.1,2311.4 550.1,2311.9 551.1,2312.5 552.1,2313.1 553.1,2313.7 554.1,2314.3 555.1,2314.9 556.1,2315.5 557.1,2316.1 558.1,2316.7 559.1,2317.3 560.1,2317.8 561.1,2318.4 562,2318.8 562.1,2318.9 563.1,2319.3 564.1,2319.8 565.1,2320.2 566.1,2320.6 567.1,2321 568.1,2321.4 569.1,2321.8 570.1,2322.2 571.1,2322.6 572.1,2322.9 573,2323.2 573.1,2323.2 574.1,2323.6 575.1,2323.9 576.1,2324.1 577.1,2324.4 578.1,2324.7 579.1,2325 580.1,2325.2 581.1,2325.5 582.1,2325.7 583.1,2326 584.1,2326.2 585.1,2326.5 585.2,2326.5 586.1,2326.7 587.1,2327 588.1,2327.3 589.1,2327.5 590.1,2327.8 591.1,2328 592.1,2328.3 593.1,2328.5 594.1,2328.7 595.1,2329 596.1,2329.2 597.1,2329.5 598.1,2329.7 599.1,2329.9 600.1,2330.2 601.1,2330.4 602.1,2330.7 603.1,2330.9 604.1,2331.1 605.1,2331.4 606.1,2331.6 607.1,2331.8 608.1,2332.1 609.1,2332.3 610.1,2332.6 611.1,2332.8 612.1,2333.1 613.1,2333.3 614.1,2333.6 615.1,2333.8 616.1,2334.1 617.1,2334.3 618.1,2334.6 619.1,2334.8 620.1,2335.1 621.1,2335.4 622.1,2335.7 623.1,2335.9 624.1,2336.2 624.1,2336.2 625.2,2336.5 626.2,2336.8 627.2,2337.1 628.2,2337.4 629.2,2337.7 630.2,2338 631.2,2338.4 632.2,2338.7 633.2,2339 634.2,2339.3 635.2,2339.7 636.2,2340 637.2,2340.4 638.2,2340.7 639.2,2341.1 640.2,2341.4 641.2,2341.8 642.2,2342.1 643.2,2342.5 644.2,2342.8 645.2,2343.2 646.2,2343.5 647.2,2343.9 648.2,2344.2 649.2,2344.6 650.2,2344.9 651.2,2345.2 652.2,2345.6 653.2,2345.9 654.2,2346.2 655.2,2346.5 656.2,2346.9 657.2,2347.2 658.2,2347.5 659.2,2347.8 660.2,2348 661.2,2348.3 662.2,2348.6 662.9,2348.8 663.2,2348.9 664.2,2349.1 665.2,2349.4 666.2,2349.7 667.2,2349.9 668.2,2350.2 669.2,2350.4 670.2,2350.6 671.2,2350.9 672.2,2351.1 673.2,2351.3 674.2,2351.6 675.2,2351.8 676.2,2352 677.2,2352.2 678,2352.3 678.2,2352.3 679.2,2352.5 680.2,2352.7 681.2,2352.8 682.2,2353 683.2,2353.2 684.2,2353.3 685.2,2353.5 686.2,2353.6 687.2,2353.7 688.2,2353.9 689.2,2354 690.2,2354.1 691.2,2354.2 692,2354.3 692.2,2354.3 693.2,2354.4 694.2,2354.5 695.2,2354.6 696.2,2354.7 697.2,2354.8 698.2,2354.9 699.2,2355 700.2,2355.1 701.2,2355.2 702.2,2355.2 703.2,2355.3 704.2,2355.4 705.2,2355.5 706.2,2355.6 707.2,2355.6 708.2,2355.7 709.2,2355.8 710.2,2355.8 711.2,2355.9 712.2,2355.9 713.2,2356 714.2,2356 715.2,2356.1 716.2,2356.1 717.2,2356.1 718.2,2356.2 719.2,2356.2"/>
</g>
<path d="M154.8,1941.1V2397.6H721.8M154.8,2397.6H151.4M154.8,2370.7H147.4M154.8,2343.9H151.4M154.8,2317H147.4M154.8,2290.2H151.4M154.8,2263.3H147.4M154.8,2236.5H151.4M154.8,2209.6H147.4M154.8,2182.8H151.4M154.8,2155.9H147.4M154.8,2129.1H151.4M154.8,2102.2H147.4M154.8,2075.4H151.4M154.8,2048.5H147.4M154.8,2021.7H151.4M154.8,1994.8H147.4M154.8,1968H151.4M154.8,1941.1H147.4M154.8,2397.6V2405M190.2,2397.6V2401M225.7,2397.6V2405M261.1,2397.6V2401M296.6,2397.6V2405M332,2397.6V2401M367.4,2397.6V2405M402.9,2397.6V2401M438.3,2397.6V2405M473.7,2397.6V2401M509.2,2397.6V2405M544.6,2397.6V2401M580,2397.6V2405M615.5,2397.6V2401M650.9,2397.6V2405M686.4,2397.6V2401M721.8,2397.6V2405" stroke="#000" stroke-width="2.2" fill="none" stroke-linecap="square"/>
<g font-family='"Liberation Serif", "Times New Roman", serif' font-size="28.2" fill="#000">
<text x="138" y="2378.3" text-anchor="end">8000</text>
<text x="138" y="2324.6" text-anchor="end">9000</text>
<text x="138" y="2270.9" text-anchor="end">10000</text>
<text x="138" y="2217.2" text-anchor="end">11000</text>
<text x="138" y="2163.5" text-anchor="end">12000</text>
<text x="138" y="2109.8" text-anchor="end">13000</text>
<text x="138" y="2056.1" text-anchor="end">14000</text>
<text x="138" y="2002.4" text-anchor="end">15000</text>
<text x="138" y="1948.7" text-anchor="end">16000</text>
<text x="154.8" y="2433.2" text-anchor="middle">740</text>
<text x="225.7" y="2433.2" text-anchor="middle">735</text>
<text x="296.6" y="2433.2" text-anchor="middle">730</text>
<text x="367.4" y="2433.2" text-anchor="middle">725</text>
<text x="438.3" y="2433.2" text-anchor="middle">720</text>
<text x="509.2" y="2433.2" text-anchor="middle">715</text>
<text x="580" y="2433.2" text-anchor="middle">710</text>
<text x="650.9" y="2433.2" text-anchor="middle">705</text>
<text x="721.8" y="2433.2" text-anchor="middle">700</text>
</g>
<text x="438.3" y="2484.4" text-anchor="middle" font-family='"Liberation Serif", "Times New Roman", serif' font-weight="bold" font-size="32.3">Binding Energy (eV)</text>
<text transform="translate(56.1,2169.3) rotate(-90)" text-anchor="middle" font-family='"Liberation Serif", "Times New Roman", serif' font-weight="bold" font-size="32">Intensity (CPS)</text>
<text x="9" y="1948.2" font-family='"Liberation Serif", "Times New Roman", serif' font-weight="bold" font-size="41.5">(g)</text>
<line x1="186.8" y1="1953.1" x2="254.7" y2="1953.1" stroke="#000" stroke-width="2.2"/>
<text x="261" y="1962.8" font-family='"Liberation Serif", "Times New Roman", serif' font-size="30.3" fill="#000">Experimental Ni Auger</text>
<line x1="186.8" y1="1990" x2="254.7" y2="1990" stroke="#7a7a7a" stroke-width="2.2"/>
<text x="261" y="1999.7" font-family='"Liberation Serif", "Times New Roman", serif' font-size="30.3" fill="#000">Background</text>
</svg>
</body></html>
